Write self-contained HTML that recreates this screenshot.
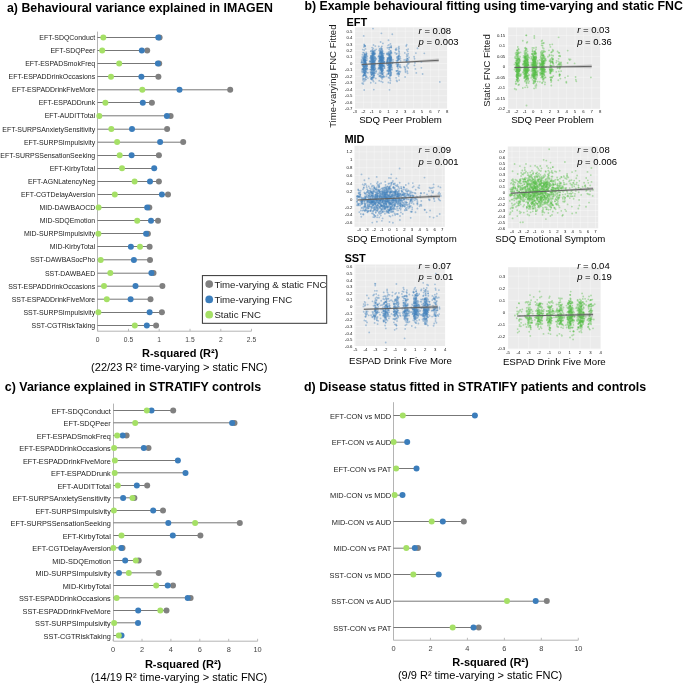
<!DOCTYPE html>
<html lang="en"><head><meta charset="utf-8"><title>Behavioural variance explained by time-varying and static FNC</title>
<style>
html,body{margin:0;padding:0;background:#fff;}
body{width:685px;height:685px;overflow:hidden;}
svg{display:block;font-family:"Liberation Sans", sans-serif;}
</style></head>
<body>
<svg width="685" height="685" viewBox="0 0 685 685">
<rect width="685" height="685" fill="#fff"/>
<text x="7.00" y="11.70" font-size="12.34" font-weight="bold" text-anchor="start" fill="#000" >a) Behavioural variance explained in IMAGEN</text>
<text x="304.50" y="10.20" font-size="12.32" font-weight="bold" text-anchor="start" fill="#000" >b) Example behavioural fitting using time-varying and static FNC</text>
<text x="4.80" y="391.20" font-size="12.43" font-weight="bold" text-anchor="start" fill="#000" >c) Variance explained in STRATIFY controls</text>
<text x="304.00" y="391.30" font-size="12.42" font-weight="bold" text-anchor="start" fill="#000" >d) Disease status fitted in STRATIFY patients and controls</text>
<path d="M97.5 31.6 V331.2 H251.5" fill="none" stroke="#b4b4b4" stroke-width="1"/>
<path d="M97.70 331.2 v-2.4" stroke="#b4b4b4" stroke-width="0.9"/>
<text x="97.70" y="341.80" font-size="6.7" font-weight="normal" text-anchor="middle" fill="#444" >0</text>
<path d="M128.50 331.2 v-2.4" stroke="#b4b4b4" stroke-width="0.9"/>
<text x="128.50" y="341.80" font-size="6.7" font-weight="normal" text-anchor="middle" fill="#444" >0.5</text>
<path d="M159.20 331.2 v-2.4" stroke="#b4b4b4" stroke-width="0.9"/>
<text x="159.20" y="341.80" font-size="6.7" font-weight="normal" text-anchor="middle" fill="#444" >1</text>
<path d="M190.00 331.2 v-2.4" stroke="#b4b4b4" stroke-width="0.9"/>
<text x="190.00" y="341.80" font-size="6.7" font-weight="normal" text-anchor="middle" fill="#444" >1.5</text>
<path d="M220.80 331.2 v-2.4" stroke="#b4b4b4" stroke-width="0.9"/>
<text x="220.80" y="341.80" font-size="6.7" font-weight="normal" text-anchor="middle" fill="#444" >2</text>
<path d="M251.50 331.2 v-2.4" stroke="#b4b4b4" stroke-width="0.9"/>
<text x="251.50" y="341.80" font-size="6.7" font-weight="normal" text-anchor="middle" fill="#444" >2.5</text>
<path d="M97.5 37.50 H159.60" stroke="#505050" stroke-width="0.78"/>
<circle cx="159.60" cy="37.40" r="3.0" fill="#808080"/>
<circle cx="158.30" cy="37.40" r="3.0" fill="#3b7dbb"/>
<circle cx="103.30" cy="37.40" r="3.0" fill="#a5e066"/>
<text x="95.20" y="39.90" font-size="6.95" font-weight="normal" text-anchor="end" fill="#1c1c1c" >EFT-SDQConduct</text>
<path d="M97.5 50.50 H147.20" stroke="#505050" stroke-width="0.78"/>
<circle cx="147.20" cy="50.49" r="3.0" fill="#808080"/>
<circle cx="141.80" cy="50.49" r="3.0" fill="#3b7dbb"/>
<circle cx="102.20" cy="50.49" r="3.0" fill="#a5e066"/>
<text x="95.20" y="52.99" font-size="6.95" font-weight="normal" text-anchor="end" fill="#1c1c1c" >EFT-SDQPeer</text>
<path d="M97.5 63.50 H159.20" stroke="#505050" stroke-width="0.78"/>
<circle cx="159.20" cy="63.58" r="3.0" fill="#808080"/>
<circle cx="157.90" cy="63.58" r="3.0" fill="#3b7dbb"/>
<circle cx="119.20" cy="63.58" r="3.0" fill="#a5e066"/>
<text x="95.20" y="66.08" font-size="6.95" font-weight="normal" text-anchor="end" fill="#1c1c1c" >EFT-ESPADSmokFreq</text>
<path d="M97.5 76.50 H158.40" stroke="#505050" stroke-width="0.78"/>
<circle cx="158.40" cy="76.67" r="3.0" fill="#808080"/>
<circle cx="141.40" cy="76.67" r="3.0" fill="#3b7dbb"/>
<circle cx="111.00" cy="76.67" r="3.0" fill="#a5e066"/>
<text x="95.20" y="79.17" font-size="6.95" font-weight="normal" text-anchor="end" fill="#1c1c1c" >EFT-ESPADDrinkOccasions</text>
<path d="M97.5 89.80 H230.20" stroke="#505050" stroke-width="0.78"/>
<circle cx="230.20" cy="89.76" r="3.0" fill="#808080"/>
<circle cx="179.50" cy="89.76" r="3.0" fill="#3b7dbb"/>
<circle cx="142.30" cy="89.76" r="3.0" fill="#a5e066"/>
<text x="95.20" y="92.26" font-size="6.95" font-weight="normal" text-anchor="end" fill="#1c1c1c" >EFT-ESPADDrinkFiveMore</text>
<path d="M97.5 102.50 H151.90" stroke="#505050" stroke-width="0.78"/>
<circle cx="151.90" cy="102.85" r="3.0" fill="#808080"/>
<circle cx="142.80" cy="102.85" r="3.0" fill="#3b7dbb"/>
<circle cx="105.40" cy="102.85" r="3.0" fill="#a5e066"/>
<text x="95.20" y="105.35" font-size="6.95" font-weight="normal" text-anchor="end" fill="#1c1c1c" >EFT-ESPADDrunk</text>
<path d="M97.5 115.80 H170.60" stroke="#505050" stroke-width="0.78"/>
<circle cx="170.60" cy="115.94" r="3.0" fill="#808080"/>
<circle cx="166.90" cy="115.94" r="3.0" fill="#3b7dbb"/>
<circle cx="99.30" cy="115.94" r="3.0" fill="#a5e066"/>
<text x="95.20" y="118.44" font-size="6.95" font-weight="normal" text-anchor="end" fill="#1c1c1c" >EFT-AUDITTotal</text>
<path d="M97.5 129.20 H167.10" stroke="#505050" stroke-width="0.78"/>
<circle cx="167.10" cy="129.03" r="3.0" fill="#808080"/>
<circle cx="132.00" cy="129.03" r="3.0" fill="#3b7dbb"/>
<circle cx="111.30" cy="129.03" r="3.0" fill="#a5e066"/>
<text x="95.20" y="131.53" font-size="6.95" font-weight="normal" text-anchor="end" fill="#1c1c1c" >EFT-SURPSAnxietySensitivity</text>
<path d="M97.5 142.20 H183.20" stroke="#505050" stroke-width="0.78"/>
<circle cx="183.20" cy="142.12" r="3.0" fill="#808080"/>
<circle cx="160.10" cy="142.12" r="3.0" fill="#3b7dbb"/>
<circle cx="117.10" cy="142.12" r="3.0" fill="#a5e066"/>
<text x="95.20" y="144.62" font-size="6.95" font-weight="normal" text-anchor="end" fill="#1c1c1c" >EFT-SURPSImpulsivity</text>
<path d="M97.5 155.50 H158.90" stroke="#505050" stroke-width="0.78"/>
<circle cx="158.90" cy="155.21" r="3.0" fill="#808080"/>
<circle cx="131.60" cy="155.21" r="3.0" fill="#3b7dbb"/>
<circle cx="119.70" cy="155.21" r="3.0" fill="#a5e066"/>
<text x="95.20" y="157.71" font-size="6.95" font-weight="normal" text-anchor="end" fill="#1c1c1c" >EFT-SURPSSensationSeeking</text>
<path d="M97.5 168.50 H154.20" stroke="#505050" stroke-width="0.78"/>
<circle cx="154.20" cy="168.30" r="3.0" fill="#3b7dbb"/>
<circle cx="122.00" cy="168.30" r="3.0" fill="#a5e066"/>
<text x="95.20" y="170.80" font-size="6.95" font-weight="normal" text-anchor="end" fill="#1c1c1c" >EFT-KirbyTotal</text>
<path d="M97.5 181.50 H158.90" stroke="#505050" stroke-width="0.78"/>
<circle cx="158.90" cy="181.39" r="3.0" fill="#808080"/>
<circle cx="150.00" cy="181.39" r="3.0" fill="#3b7dbb"/>
<circle cx="134.60" cy="181.39" r="3.0" fill="#a5e066"/>
<text x="95.20" y="183.89" font-size="6.95" font-weight="normal" text-anchor="end" fill="#1c1c1c" >EFT-AGNLatencyNeg</text>
<path d="M97.5 194.50 H168.00" stroke="#505050" stroke-width="0.78"/>
<circle cx="168.00" cy="194.48" r="3.0" fill="#808080"/>
<circle cx="161.90" cy="194.48" r="3.0" fill="#3b7dbb"/>
<circle cx="114.80" cy="194.48" r="3.0" fill="#a5e066"/>
<text x="95.20" y="196.98" font-size="6.95" font-weight="normal" text-anchor="end" fill="#1c1c1c" >EFT-CGTDelayAversion</text>
<path d="M97.5 207.50 H149.30" stroke="#505050" stroke-width="0.78"/>
<circle cx="149.30" cy="207.57" r="3.0" fill="#808080"/>
<circle cx="147.20" cy="207.57" r="3.0" fill="#3b7dbb"/>
<circle cx="98.60" cy="207.57" r="3.0" fill="#a5e066"/>
<text x="95.20" y="210.07" font-size="6.95" font-weight="normal" text-anchor="end" fill="#1c1c1c" >MID-DAWBAOCD</text>
<path d="M97.5 220.50 H158.00" stroke="#505050" stroke-width="0.78"/>
<circle cx="158.00" cy="220.66" r="3.0" fill="#808080"/>
<circle cx="151.00" cy="220.66" r="3.0" fill="#3b7dbb"/>
<circle cx="137.20" cy="220.66" r="3.0" fill="#a5e066"/>
<text x="95.20" y="223.16" font-size="6.95" font-weight="normal" text-anchor="end" fill="#1c1c1c" >MID-SDQEmotion</text>
<path d="M97.5 233.50 H147.90" stroke="#505050" stroke-width="0.78"/>
<circle cx="147.90" cy="233.75" r="3.0" fill="#808080"/>
<circle cx="146.10" cy="233.75" r="3.0" fill="#3b7dbb"/>
<circle cx="98.40" cy="233.75" r="3.0" fill="#a5e066"/>
<text x="95.20" y="236.25" font-size="6.95" font-weight="normal" text-anchor="end" fill="#1c1c1c" >MID-SURPSImpulsivity</text>
<path d="M97.5 246.50 H149.60" stroke="#505050" stroke-width="0.78"/>
<circle cx="149.60" cy="246.84" r="3.0" fill="#808080"/>
<circle cx="130.90" cy="246.84" r="3.0" fill="#3b7dbb"/>
<circle cx="140.00" cy="246.84" r="3.0" fill="#a5e066"/>
<text x="95.20" y="249.34" font-size="6.95" font-weight="normal" text-anchor="end" fill="#1c1c1c" >MID-KirbyTotal</text>
<path d="M97.5 259.80 H150.00" stroke="#505050" stroke-width="0.78"/>
<circle cx="150.00" cy="259.93" r="3.0" fill="#808080"/>
<circle cx="133.90" cy="259.93" r="3.0" fill="#3b7dbb"/>
<circle cx="100.70" cy="259.93" r="3.0" fill="#a5e066"/>
<text x="95.20" y="262.43" font-size="6.95" font-weight="normal" text-anchor="end" fill="#1c1c1c" >SST-DAWBASocPho</text>
<path d="M97.5 273.20 H153.50" stroke="#505050" stroke-width="0.78"/>
<circle cx="153.50" cy="273.02" r="3.0" fill="#808080"/>
<circle cx="151.40" cy="273.02" r="3.0" fill="#3b7dbb"/>
<circle cx="110.30" cy="273.02" r="3.0" fill="#a5e066"/>
<text x="95.20" y="275.52" font-size="6.95" font-weight="normal" text-anchor="end" fill="#1c1c1c" >SST-DAWBAED</text>
<path d="M97.5 286.20 H162.40" stroke="#505050" stroke-width="0.78"/>
<circle cx="162.40" cy="286.11" r="3.0" fill="#808080"/>
<circle cx="135.50" cy="286.11" r="3.0" fill="#3b7dbb"/>
<circle cx="104.00" cy="286.11" r="3.0" fill="#a5e066"/>
<text x="95.20" y="288.61" font-size="6.95" font-weight="normal" text-anchor="end" fill="#1c1c1c" >SST-ESPADDrinkOccasions</text>
<path d="M97.5 299.20 H150.50" stroke="#505050" stroke-width="0.78"/>
<circle cx="150.50" cy="299.20" r="3.0" fill="#808080"/>
<circle cx="130.60" cy="299.20" r="3.0" fill="#3b7dbb"/>
<circle cx="106.80" cy="299.20" r="3.0" fill="#a5e066"/>
<text x="95.20" y="301.70" font-size="6.95" font-weight="normal" text-anchor="end" fill="#1c1c1c" >SST-ESPADDrinkFiveMore</text>
<path d="M97.5 312.50 H161.90" stroke="#505050" stroke-width="0.78"/>
<circle cx="161.90" cy="312.29" r="3.0" fill="#808080"/>
<circle cx="149.60" cy="312.29" r="3.0" fill="#3b7dbb"/>
<circle cx="98.40" cy="312.29" r="3.0" fill="#a5e066"/>
<text x="95.20" y="314.79" font-size="6.95" font-weight="normal" text-anchor="end" fill="#1c1c1c" >SST-SURPSImpulsivity</text>
<path d="M97.5 325.50 H156.10" stroke="#505050" stroke-width="0.78"/>
<circle cx="156.10" cy="325.38" r="3.0" fill="#808080"/>
<circle cx="146.80" cy="325.38" r="3.0" fill="#3b7dbb"/>
<circle cx="134.80" cy="325.38" r="3.0" fill="#a5e066"/>
<text x="95.20" y="327.88" font-size="6.95" font-weight="normal" text-anchor="end" fill="#1c1c1c" >SST-CGTRiskTaking</text>
<rect x="202.4" y="275.6" width="124.3" height="47.7" fill="#fff" stroke="#333" stroke-width="1"/>
<circle cx="209.2" cy="284.1" r="3.85" fill="#808080"/>
<text x="214.40" y="287.60" font-size="9.63" font-weight="normal" text-anchor="start" fill="#222" >Time-varying &amp; static FNC</text>
<circle cx="209.2" cy="299.40000000000003" r="3.85" fill="#3b7dbb"/>
<text x="214.40" y="302.90" font-size="9.63" font-weight="normal" text-anchor="start" fill="#222" >Time-varying FNC</text>
<circle cx="209.2" cy="314.70000000000005" r="3.85" fill="#a5e066"/>
<text x="214.40" y="318.20" font-size="9.63" font-weight="normal" text-anchor="start" fill="#222" >Static FNC</text>
<text x="180.20" y="357.30" font-size="11" font-weight="bold" text-anchor="middle" fill="#000" >R-squared (R²)</text>
<text x="179.30" y="370.80" font-size="11" font-weight="normal" text-anchor="middle" fill="#000" >(22/23 R² time-varying &gt; static FNC)</text>
<path d="M113.5 403.6 V641.2 H257.6" fill="none" stroke="#b4b4b4" stroke-width="1"/>
<path d="M113.10 641.2 v-2.4" stroke="#b4b4b4" stroke-width="0.9"/>
<text x="113.10" y="651.80" font-size="7.4" font-weight="normal" text-anchor="middle" fill="#444" >0</text>
<path d="M142.00 641.2 v-2.4" stroke="#b4b4b4" stroke-width="0.9"/>
<text x="142.00" y="651.80" font-size="7.4" font-weight="normal" text-anchor="middle" fill="#444" >2</text>
<path d="M170.90 641.2 v-2.4" stroke="#b4b4b4" stroke-width="0.9"/>
<text x="170.90" y="651.80" font-size="7.4" font-weight="normal" text-anchor="middle" fill="#444" >4</text>
<path d="M199.80 641.2 v-2.4" stroke="#b4b4b4" stroke-width="0.9"/>
<text x="199.80" y="651.80" font-size="7.4" font-weight="normal" text-anchor="middle" fill="#444" >6</text>
<path d="M228.70 641.2 v-2.4" stroke="#b4b4b4" stroke-width="0.9"/>
<text x="228.70" y="651.80" font-size="7.4" font-weight="normal" text-anchor="middle" fill="#444" >8</text>
<path d="M257.60 641.2 v-2.4" stroke="#b4b4b4" stroke-width="0.9"/>
<text x="257.60" y="651.80" font-size="7.4" font-weight="normal" text-anchor="middle" fill="#444" >10</text>
<path d="M113.5 410.50 H173.20" stroke="#505050" stroke-width="0.78"/>
<circle cx="173.20" cy="410.40" r="3.0" fill="#808080"/>
<circle cx="151.50" cy="410.40" r="3.0" fill="#3b7dbb"/>
<circle cx="146.80" cy="410.40" r="3.0" fill="#a5e066"/>
<text x="110.80" y="413.59" font-size="7.34" font-weight="normal" text-anchor="end" fill="#1c1c1c" >EFT-SDQConduct</text>
<path d="M113.5 422.80 H234.50" stroke="#505050" stroke-width="0.78"/>
<circle cx="234.50" cy="422.90" r="3.0" fill="#808080"/>
<circle cx="232.10" cy="422.90" r="3.0" fill="#3b7dbb"/>
<circle cx="135.20" cy="422.90" r="3.0" fill="#a5e066"/>
<text x="110.80" y="426.09" font-size="7.34" font-weight="normal" text-anchor="end" fill="#1c1c1c" >EFT-SDQPeer</text>
<path d="M113.5 435.50 H126.60" stroke="#505050" stroke-width="0.78"/>
<circle cx="126.60" cy="435.40" r="3.0" fill="#808080"/>
<circle cx="122.70" cy="435.40" r="3.0" fill="#3b7dbb"/>
<circle cx="117.20" cy="435.40" r="3.0" fill="#a5e066"/>
<text x="110.80" y="438.59" font-size="7.34" font-weight="normal" text-anchor="end" fill="#1c1c1c" >EFT-ESPADSmokFreq</text>
<path d="M113.5 447.80 H148.50" stroke="#505050" stroke-width="0.78"/>
<circle cx="148.50" cy="447.90" r="3.0" fill="#808080"/>
<circle cx="143.80" cy="447.90" r="3.0" fill="#3b7dbb"/>
<circle cx="114.10" cy="447.90" r="3.0" fill="#a5e066"/>
<text x="110.80" y="451.09" font-size="7.34" font-weight="normal" text-anchor="end" fill="#1c1c1c" >EFT-ESPADDrinkOccasions</text>
<path d="M113.5 460.50 H177.90" stroke="#505050" stroke-width="0.78"/>
<circle cx="177.90" cy="460.40" r="3.0" fill="#3b7dbb"/>
<circle cx="114.90" cy="460.40" r="3.0" fill="#a5e066"/>
<text x="110.80" y="463.59" font-size="7.34" font-weight="normal" text-anchor="end" fill="#1c1c1c" >EFT-ESPADDrinkFiveMore</text>
<path d="M113.5 472.80 H185.50" stroke="#505050" stroke-width="0.78"/>
<circle cx="185.50" cy="472.90" r="3.0" fill="#3b7dbb"/>
<circle cx="114.70" cy="472.90" r="3.0" fill="#a5e066"/>
<text x="110.80" y="476.09" font-size="7.34" font-weight="normal" text-anchor="end" fill="#1c1c1c" >EFT-ESPADDrunk</text>
<path d="M113.5 485.50 H147.20" stroke="#505050" stroke-width="0.78"/>
<circle cx="147.20" cy="485.40" r="3.0" fill="#808080"/>
<circle cx="136.80" cy="485.40" r="3.0" fill="#3b7dbb"/>
<circle cx="117.80" cy="485.40" r="3.0" fill="#a5e066"/>
<text x="110.80" y="488.59" font-size="7.34" font-weight="normal" text-anchor="end" fill="#1c1c1c" >EFT-AUDITTotal</text>
<path d="M113.5 497.80 H134.40" stroke="#505050" stroke-width="0.78"/>
<circle cx="134.40" cy="497.90" r="3.0" fill="#808080"/>
<circle cx="123.10" cy="497.90" r="3.0" fill="#3b7dbb"/>
<circle cx="132.50" cy="497.90" r="3.0" fill="#a5e066"/>
<text x="110.80" y="501.09" font-size="7.34" font-weight="normal" text-anchor="end" fill="#1c1c1c" >EFT-SURPSAnxietySensitivity</text>
<path d="M113.5 510.50 H163.00" stroke="#505050" stroke-width="0.78"/>
<circle cx="163.00" cy="510.40" r="3.0" fill="#808080"/>
<circle cx="153.20" cy="510.40" r="3.0" fill="#3b7dbb"/>
<circle cx="113.90" cy="510.40" r="3.0" fill="#a5e066"/>
<text x="110.80" y="513.59" font-size="7.34" font-weight="normal" text-anchor="end" fill="#1c1c1c" >EFT-SURPSImpulsivity</text>
<path d="M113.5 522.80 H239.80" stroke="#505050" stroke-width="0.78"/>
<circle cx="239.80" cy="522.90" r="3.0" fill="#808080"/>
<circle cx="168.30" cy="522.90" r="3.0" fill="#3b7dbb"/>
<circle cx="195.10" cy="522.90" r="3.0" fill="#a5e066"/>
<text x="110.80" y="526.09" font-size="7.34" font-weight="normal" text-anchor="end" fill="#1c1c1c" >EFT-SURPSSensationSeeking</text>
<path d="M113.5 535.50 H200.40" stroke="#505050" stroke-width="0.78"/>
<circle cx="200.40" cy="535.40" r="3.0" fill="#808080"/>
<circle cx="172.80" cy="535.40" r="3.0" fill="#3b7dbb"/>
<circle cx="121.50" cy="535.40" r="3.0" fill="#a5e066"/>
<text x="110.80" y="538.59" font-size="7.34" font-weight="normal" text-anchor="end" fill="#1c1c1c" >EFT-KirbyTotal</text>
<path d="M113.5 547.80 H122.50" stroke="#505050" stroke-width="0.78"/>
<circle cx="122.50" cy="547.90" r="3.0" fill="#808080"/>
<circle cx="121.30" cy="547.90" r="3.0" fill="#3b7dbb"/>
<circle cx="113.30" cy="547.90" r="3.0" fill="#a5e066"/>
<text x="110.80" y="551.09" font-size="7.34" font-weight="normal" text-anchor="end" fill="#1c1c1c" >EFT-CGTDelayAversion</text>
<path d="M113.5 560.50 H138.70" stroke="#505050" stroke-width="0.78"/>
<circle cx="138.70" cy="560.40" r="3.0" fill="#808080"/>
<circle cx="125.20" cy="560.40" r="3.0" fill="#3b7dbb"/>
<circle cx="135.80" cy="560.40" r="3.0" fill="#a5e066"/>
<text x="110.80" y="563.59" font-size="7.34" font-weight="normal" text-anchor="end" fill="#1c1c1c" >MID-SDQEmotion</text>
<path d="M113.5 572.80 H158.70" stroke="#505050" stroke-width="0.78"/>
<circle cx="158.70" cy="572.90" r="3.0" fill="#808080"/>
<circle cx="119.00" cy="572.90" r="3.0" fill="#3b7dbb"/>
<circle cx="128.80" cy="572.90" r="3.0" fill="#a5e066"/>
<text x="110.80" y="576.09" font-size="7.34" font-weight="normal" text-anchor="end" fill="#1c1c1c" >MID-SURPSImpulsivity</text>
<path d="M113.5 585.50 H173.00" stroke="#505050" stroke-width="0.78"/>
<circle cx="173.00" cy="585.40" r="3.0" fill="#808080"/>
<circle cx="167.70" cy="585.40" r="3.0" fill="#3b7dbb"/>
<circle cx="156.20" cy="585.40" r="3.0" fill="#a5e066"/>
<text x="110.80" y="588.59" font-size="7.34" font-weight="normal" text-anchor="end" fill="#1c1c1c" >MID-KirbyTotal</text>
<path d="M113.5 597.80 H190.60" stroke="#505050" stroke-width="0.78"/>
<circle cx="190.60" cy="597.90" r="3.0" fill="#808080"/>
<circle cx="187.70" cy="597.90" r="3.0" fill="#3b7dbb"/>
<circle cx="116.60" cy="597.90" r="3.0" fill="#a5e066"/>
<text x="110.80" y="601.09" font-size="7.34" font-weight="normal" text-anchor="end" fill="#1c1c1c" >SST-ESPADDrinkOccasions</text>
<path d="M113.5 610.50 H166.50" stroke="#505050" stroke-width="0.78"/>
<circle cx="166.50" cy="610.40" r="3.0" fill="#808080"/>
<circle cx="138.20" cy="610.40" r="3.0" fill="#3b7dbb"/>
<circle cx="160.30" cy="610.40" r="3.0" fill="#a5e066"/>
<text x="110.80" y="613.59" font-size="7.34" font-weight="normal" text-anchor="end" fill="#1c1c1c" >SST-ESPADDrinkFiveMore</text>
<path d="M113.5 622.80 H138.00" stroke="#505050" stroke-width="0.78"/>
<circle cx="138.00" cy="622.90" r="3.0" fill="#3b7dbb"/>
<circle cx="114.10" cy="622.90" r="3.0" fill="#a5e066"/>
<text x="110.80" y="626.09" font-size="7.34" font-weight="normal" text-anchor="end" fill="#1c1c1c" >SST-SURPSImpulsivity</text>
<path d="M113.5 635.50 H121.50" stroke="#505050" stroke-width="0.78"/>
<circle cx="121.50" cy="635.40" r="3.0" fill="#3b7dbb"/>
<circle cx="118.80" cy="635.40" r="3.0" fill="#a5e066"/>
<text x="110.80" y="638.59" font-size="7.34" font-weight="normal" text-anchor="end" fill="#1c1c1c" >SST-CGTRiskTaking</text>
<text x="183.10" y="667.70" font-size="11" font-weight="bold" text-anchor="middle" fill="#000" >R-squared (R²)</text>
<text x="179.00" y="681.20" font-size="11" font-weight="normal" text-anchor="middle" fill="#000" >(14/19 R² time-varying &gt; static FNC)</text>
<path d="M393.5 402.2 V640.2 H578.3" fill="none" stroke="#b4b4b4" stroke-width="1"/>
<path d="M393.50 640.2 v-2.4" stroke="#b4b4b4" stroke-width="0.9"/>
<text x="393.50" y="650.80" font-size="7.4" font-weight="normal" text-anchor="middle" fill="#444" >0</text>
<path d="M430.46 640.2 v-2.4" stroke="#b4b4b4" stroke-width="0.9"/>
<text x="430.46" y="650.80" font-size="7.4" font-weight="normal" text-anchor="middle" fill="#444" >2</text>
<path d="M467.42 640.2 v-2.4" stroke="#b4b4b4" stroke-width="0.9"/>
<text x="467.42" y="650.80" font-size="7.4" font-weight="normal" text-anchor="middle" fill="#444" >4</text>
<path d="M504.38 640.2 v-2.4" stroke="#b4b4b4" stroke-width="0.9"/>
<text x="504.38" y="650.80" font-size="7.4" font-weight="normal" text-anchor="middle" fill="#444" >6</text>
<path d="M541.34 640.2 v-2.4" stroke="#b4b4b4" stroke-width="0.9"/>
<text x="541.34" y="650.80" font-size="7.4" font-weight="normal" text-anchor="middle" fill="#444" >8</text>
<path d="M578.30 640.2 v-2.4" stroke="#b4b4b4" stroke-width="0.9"/>
<text x="578.30" y="650.80" font-size="7.4" font-weight="normal" text-anchor="middle" fill="#444" >10</text>
<path d="M393.5 415.50 H474.90" stroke="#505050" stroke-width="0.78"/>
<circle cx="474.90" cy="415.50" r="3.0" fill="#3b7dbb"/>
<circle cx="402.80" cy="415.50" r="3.0" fill="#a5e066"/>
<text x="391.20" y="418.68" font-size="7.45" font-weight="normal" text-anchor="end" fill="#1c1c1c" >EFT-CON vs MDD</text>
<path d="M393.5 442.20 H407.20" stroke="#505050" stroke-width="0.78"/>
<circle cx="407.20" cy="442.00" r="3.0" fill="#3b7dbb"/>
<circle cx="393.60" cy="442.00" r="3.0" fill="#a5e066"/>
<text x="391.20" y="445.18" font-size="7.45" font-weight="normal" text-anchor="end" fill="#1c1c1c" >EFT-CON vs AUD</text>
<path d="M393.5 468.50 H416.50" stroke="#505050" stroke-width="0.78"/>
<circle cx="416.50" cy="468.50" r="3.0" fill="#3b7dbb"/>
<circle cx="396.10" cy="468.50" r="3.0" fill="#a5e066"/>
<text x="391.20" y="471.68" font-size="7.45" font-weight="normal" text-anchor="end" fill="#1c1c1c" >EFT-CON vs PAT</text>
<path d="M393.5 495.20 H402.50" stroke="#505050" stroke-width="0.78"/>
<circle cx="402.50" cy="495.00" r="3.0" fill="#3b7dbb"/>
<circle cx="394.60" cy="495.00" r="3.0" fill="#a5e066"/>
<text x="391.20" y="498.18" font-size="7.45" font-weight="normal" text-anchor="end" fill="#1c1c1c" >MID-CON vs MDD</text>
<path d="M393.5 521.50 H463.80" stroke="#505050" stroke-width="0.78"/>
<circle cx="463.80" cy="521.50" r="3.0" fill="#808080"/>
<circle cx="442.80" cy="521.50" r="3.0" fill="#3b7dbb"/>
<circle cx="431.70" cy="521.50" r="3.0" fill="#a5e066"/>
<text x="391.20" y="524.68" font-size="7.45" font-weight="normal" text-anchor="end" fill="#1c1c1c" >MID-CON vs AUD</text>
<path d="M393.5 548.20 H418.00" stroke="#505050" stroke-width="0.78"/>
<circle cx="418.00" cy="548.00" r="3.0" fill="#808080"/>
<circle cx="414.80" cy="548.00" r="3.0" fill="#3b7dbb"/>
<circle cx="406.30" cy="548.00" r="3.0" fill="#a5e066"/>
<text x="391.20" y="551.18" font-size="7.45" font-weight="normal" text-anchor="end" fill="#1c1c1c" >MID-CON vs PAT</text>
<path d="M393.5 574.50 H438.70" stroke="#505050" stroke-width="0.78"/>
<circle cx="438.70" cy="574.50" r="3.0" fill="#3b7dbb"/>
<circle cx="413.30" cy="574.50" r="3.0" fill="#a5e066"/>
<text x="391.20" y="577.68" font-size="7.45" font-weight="normal" text-anchor="end" fill="#1c1c1c" >SST-CON vs MDD</text>
<path d="M393.5 601.20 H546.80" stroke="#505050" stroke-width="0.78"/>
<circle cx="546.80" cy="601.00" r="3.0" fill="#808080"/>
<circle cx="535.70" cy="601.00" r="3.0" fill="#3b7dbb"/>
<circle cx="507.00" cy="601.00" r="3.0" fill="#a5e066"/>
<text x="391.20" y="604.18" font-size="7.45" font-weight="normal" text-anchor="end" fill="#1c1c1c" >SST-CON vs AUD</text>
<path d="M393.5 627.50 H478.70" stroke="#505050" stroke-width="0.78"/>
<circle cx="478.70" cy="627.50" r="3.0" fill="#808080"/>
<circle cx="473.50" cy="627.50" r="3.0" fill="#3b7dbb"/>
<circle cx="452.70" cy="627.50" r="3.0" fill="#a5e066"/>
<text x="391.20" y="630.68" font-size="7.45" font-weight="normal" text-anchor="end" fill="#1c1c1c" >SST-CON vs PAT</text>
<text x="490.50" y="666.00" font-size="11" font-weight="bold" text-anchor="middle" fill="#000" >R-squared (R²)</text>
<text x="480.00" y="679.30" font-size="11" font-weight="normal" text-anchor="middle" fill="#000" >(9/9 R² time-varying &gt; static FNC)</text>
<rect x="355.0" y="27.3" width="92.10" height="81.30" fill="#ebebeb"/>
<path d="M363.37 27.3V108.6M371.75 27.3V108.6M380.12 27.3V108.6M388.49 27.3V108.6M396.86 27.3V108.6M405.24 27.3V108.6M413.61 27.3V108.6M421.98 27.3V108.6M430.35 27.3V108.6M438.73 27.3V108.6M355.0 31.20H447.1M355.0 37.65H447.1M355.0 44.10H447.1M355.0 50.55H447.1M355.0 57.00H447.1M355.0 63.45H447.1M355.0 69.90H447.1M355.0 76.35H447.1M355.0 82.80H447.1M355.0 89.25H447.1M355.0 95.70H447.1M355.0 102.15H447.1" stroke="#fff" stroke-width="0.55" fill="none" opacity="0.6"/>
<text x="355.00" y="113.20" font-size="4.25" font-weight="normal" text-anchor="middle" fill="#111" >-3</text>
<text x="363.37" y="113.20" font-size="4.25" font-weight="normal" text-anchor="middle" fill="#111" >-2</text>
<text x="371.75" y="113.20" font-size="4.25" font-weight="normal" text-anchor="middle" fill="#111" >-1</text>
<text x="380.12" y="113.20" font-size="4.25" font-weight="normal" text-anchor="middle" fill="#111" >0</text>
<text x="388.49" y="113.20" font-size="4.25" font-weight="normal" text-anchor="middle" fill="#111" >1</text>
<text x="396.86" y="113.20" font-size="4.25" font-weight="normal" text-anchor="middle" fill="#111" >2</text>
<text x="405.24" y="113.20" font-size="4.25" font-weight="normal" text-anchor="middle" fill="#111" >3</text>
<text x="413.61" y="113.20" font-size="4.25" font-weight="normal" text-anchor="middle" fill="#111" >4</text>
<text x="421.98" y="113.20" font-size="4.25" font-weight="normal" text-anchor="middle" fill="#111" >5</text>
<text x="430.35" y="113.20" font-size="4.25" font-weight="normal" text-anchor="middle" fill="#111" >6</text>
<text x="438.73" y="113.20" font-size="4.25" font-weight="normal" text-anchor="middle" fill="#111" >7</text>
<text x="447.10" y="113.20" font-size="4.25" font-weight="normal" text-anchor="middle" fill="#111" >8</text>
<text x="352.40" y="32.60" font-size="4.25" font-weight="normal" text-anchor="end" fill="#111" >0.5</text>
<text x="352.40" y="39.05" font-size="4.25" font-weight="normal" text-anchor="end" fill="#111" >0.4</text>
<text x="352.40" y="45.50" font-size="4.25" font-weight="normal" text-anchor="end" fill="#111" >0.3</text>
<text x="352.40" y="51.95" font-size="4.25" font-weight="normal" text-anchor="end" fill="#111" >0.2</text>
<text x="352.40" y="58.40" font-size="4.25" font-weight="normal" text-anchor="end" fill="#111" >0.1</text>
<text x="352.40" y="64.85" font-size="4.25" font-weight="normal" text-anchor="end" fill="#111" >0</text>
<text x="352.40" y="71.30" font-size="4.25" font-weight="normal" text-anchor="end" fill="#111" >-0.1</text>
<text x="352.40" y="77.75" font-size="4.25" font-weight="normal" text-anchor="end" fill="#111" >-0.2</text>
<text x="352.40" y="84.20" font-size="4.25" font-weight="normal" text-anchor="end" fill="#111" >-0.3</text>
<text x="352.40" y="90.65" font-size="4.25" font-weight="normal" text-anchor="end" fill="#111" >-0.4</text>
<text x="352.40" y="97.10" font-size="4.25" font-weight="normal" text-anchor="end" fill="#111" >-0.5</text>
<text x="352.40" y="103.55" font-size="4.25" font-weight="normal" text-anchor="end" fill="#111" >-0.6</text>
<text x="352.40" y="110.00" font-size="4.25" font-weight="normal" text-anchor="end" fill="#111" >-0.7</text>
<path d="M374.1 58.4h0M422.6 74.0h0M364.6 61.2h0M370.7 61.9h0M371.0 55.9h0M373.6 75.4h0M365.3 57.7h0M381.4 61.1h0M372.9 67.3h0M398.4 56.8h0M390.9 64.6h0M397.5 66.6h0M388.8 57.9h0M382.3 53.7h0M365.8 71.6h0M381.6 71.1h0M390.5 62.8h0M364.5 70.5h0M382.7 74.4h0M371.9 56.8h0M365.2 75.4h0M374.0 75.5h0M363.8 64.8h0M371.7 72.3h0M363.6 75.8h0M374.9 60.8h0M373.3 77.5h0M380.7 51.5h0M382.5 62.8h0M387.2 61.6h0M373.8 53.4h0M398.0 58.0h0M370.3 76.7h0M366.0 60.3h0M386.5 76.2h0M379.9 64.4h0M416.3 72.9h0M366.5 65.6h0M391.1 57.5h0M365.5 61.9h0M383.7 76.4h0M365.6 62.9h0M373.3 48.3h0M388.5 73.5h0M370.9 57.7h0M373.0 52.0h0M390.6 65.3h0M373.3 64.4h0M380.8 64.8h0M388.9 53.4h0M372.9 51.6h0M390.1 65.0h0M391.6 59.9h0M373.3 58.6h0M371.4 63.2h0M364.6 56.7h0M391.3 57.1h0M372.5 57.5h0M364.8 69.7h0M381.0 66.4h0M389.9 62.1h0M379.0 56.5h0M366.1 64.1h0M415.9 53.1h0M381.4 67.0h0M405.1 77.0h0M381.0 61.8h0M389.5 69.6h0M379.3 60.4h0M363.1 80.1h0M381.6 64.7h0M372.8 54.5h0M366.1 65.6h0M371.9 78.2h0M373.8 63.7h0M389.6 64.9h0M390.7 72.5h0M380.9 67.8h0M367.1 65.6h0M382.8 66.0h0M381.9 57.2h0M381.9 66.6h0M387.6 59.2h0M372.2 69.2h0M387.1 63.4h0M398.2 68.5h0M397.1 81.4h0M397.6 65.3h0M371.3 58.5h0M400.3 56.8h0M364.6 72.9h0M380.5 60.0h0M390.4 60.2h0M390.2 70.7h0M379.8 73.5h0M373.4 59.1h0M389.6 68.7h0M380.6 67.4h0M365.3 68.9h0M405.4 70.0h0M383.9 62.5h0M366.8 76.7h0M378.1 74.2h0M389.5 54.0h0M371.8 66.9h0M388.6 60.4h0M388.6 73.2h0M387.1 74.3h0M373.3 59.9h0M362.2 83.2h0M379.8 57.8h0M366.5 68.2h0M382.1 67.6h0M383.1 57.8h0M397.8 58.8h0M382.4 57.3h0M379.4 72.4h0M365.5 48.9h0M384.0 64.2h0M380.9 69.0h0M390.4 80.6h0M361.6 60.0h0M391.0 47.6h0M371.0 59.0h0M381.1 59.7h0M381.9 65.3h0M382.1 60.0h0M380.5 55.8h0M398.1 68.3h0M372.7 73.4h0M372.3 66.5h0M405.4 71.1h0M382.0 58.2h0M373.0 66.3h0M373.6 51.2h0M381.8 63.5h0M380.7 62.3h0M372.3 67.8h0M390.1 66.4h0M372.4 63.3h0M373.1 55.7h0M364.2 50.2h0M383.7 63.1h0M384.5 66.2h0M383.2 64.2h0M406.7 49.8h0M382.3 50.4h0M382.0 48.7h0M374.1 61.1h0M373.4 53.8h0M364.1 44.5h0M381.6 65.4h0M366.6 72.6h0M396.9 57.2h0M374.9 57.4h0M390.0 64.8h0M396.9 57.9h0M365.4 62.8h0M364.6 75.3h0M372.2 52.8h0M406.7 54.5h0M388.3 71.8h0M365.6 63.3h0M363.3 68.6h0M373.0 66.6h0M365.7 70.0h0M370.8 82.7h0M362.1 69.3h0M372.6 68.6h0M371.7 65.5h0M365.4 68.9h0M381.3 60.2h0M381.5 56.5h0M374.5 73.2h0M372.5 60.9h0M364.6 73.2h0M396.1 77.8h0M371.6 59.6h0M380.4 65.5h0M388.6 64.6h0M372.5 62.5h0M381.6 57.3h0M380.4 51.7h0M379.5 57.1h0M381.2 52.3h0M381.7 62.8h0M374.6 69.4h0M373.0 78.3h0" fill="none" stroke="#3b7dba" stroke-opacity="0.4" stroke-width="1.85" stroke-linecap="round"/>
<path d="M391.0 46.8h0M390.0 64.5h0M389.2 68.6h0M365.6 68.1h0M398.8 72.8h0M371.9 66.6h0M391.4 61.2h0M380.3 66.9h0M374.5 54.5h0M380.9 64.9h0M387.3 57.8h0M365.3 70.8h0M381.6 73.7h0M383.7 53.5h0M380.2 62.6h0M363.3 69.9h0M381.3 66.8h0M364.7 45.5h0M381.8 60.6h0M388.0 59.1h0M382.2 64.6h0M365.5 60.3h0M392.7 63.1h0M389.2 67.7h0M389.3 57.6h0M380.1 57.9h0M388.0 67.8h0M372.5 58.3h0M380.2 56.4h0M380.1 57.5h0M390.9 58.2h0M373.7 69.9h0M362.5 54.7h0M389.6 64.8h0M365.8 54.6h0M414.5 58.7h0M382.4 55.6h0M406.1 59.5h0M379.2 67.5h0M404.2 59.9h0M364.6 53.9h0M382.7 58.4h0M383.5 59.4h0M373.0 63.5h0M380.9 68.2h0M381.9 64.9h0M374.7 53.8h0M374.6 64.4h0M364.9 70.9h0M381.9 58.4h0M365.0 63.4h0M371.8 55.9h0M373.1 64.5h0M389.1 54.3h0M388.8 44.9h0M381.0 58.3h0M364.6 60.2h0M361.7 62.2h0M373.4 66.3h0M372.0 69.2h0M398.9 72.0h0M386.9 62.6h0M380.5 65.0h0M381.8 63.7h0M396.9 53.5h0M381.6 53.8h0M372.9 58.6h0M389.8 70.1h0M392.1 69.5h0M398.0 65.0h0M382.3 69.1h0M380.2 68.9h0M389.3 57.9h0M373.9 65.3h0M380.2 65.8h0M364.1 71.5h0M371.0 79.0h0M363.6 59.8h0M381.5 60.5h0M398.3 65.7h0M379.2 80.7h0M390.3 59.0h0M382.2 59.0h0M372.6 59.7h0M381.0 62.7h0M388.3 73.7h0M390.9 53.7h0M388.9 68.2h0M364.4 63.9h0M374.8 71.2h0M374.3 60.8h0M373.9 66.2h0M367.9 78.1h0M380.4 66.1h0M389.2 63.7h0M371.4 67.3h0M380.0 64.2h0M365.8 77.3h0M380.6 62.8h0M390.5 43.9h0M363.4 68.7h0M380.7 63.8h0M363.2 78.3h0M372.5 60.2h0M362.7 76.5h0M389.5 61.7h0M365.2 59.8h0M395.7 49.9h0M371.1 51.0h0M363.6 75.5h0M383.0 60.5h0M397.4 66.2h0M390.3 64.0h0M417.5 48.2h0M380.9 60.0h0M365.6 62.1h0M380.6 52.3h0M381.6 72.5h0M373.0 53.3h0M391.3 52.3h0M400.0 66.7h0M396.6 80.4h0M397.3 70.9h0M389.1 49.4h0M405.3 68.7h0M376.1 49.4h0M364.6 60.8h0M387.5 61.2h0M389.7 67.1h0M389.8 59.9h0M390.6 61.7h0M407.3 64.6h0M381.4 54.4h0M364.0 67.0h0M407.6 67.4h0M400.6 61.0h0M363.8 74.9h0M372.8 58.9h0M373.7 67.5h0M382.7 53.5h0M390.2 65.4h0M373.2 60.8h0M372.3 60.2h0M364.2 90.0h0M380.6 42.0h0M381.5 59.6h0M373.0 63.6h0M390.1 66.2h0M366.1 67.1h0M370.5 72.6h0M408.2 68.0h0M379.7 55.8h0M390.4 50.8h0M389.1 62.9h0M365.0 60.6h0M371.6 75.1h0M371.2 55.8h0M388.1 45.3h0M398.7 64.9h0M399.4 59.3h0M373.3 63.8h0M388.8 71.3h0M372.1 47.6h0M400.0 64.9h0M374.4 67.1h0M388.1 53.5h0M398.8 50.9h0M380.4 69.3h0M382.4 61.7h0M375.1 59.8h0M374.9 56.7h0M367.9 72.7h0M371.4 69.6h0M381.2 51.0h0M362.2 64.9h0M381.9 56.0h0M376.3 71.6h0M380.7 76.3h0M372.5 62.1h0M382.0 58.1h0M381.8 59.9h0M381.1 63.7h0M374.3 70.2h0M364.8 60.1h0M407.1 58.3h0M383.5 65.7h0M380.7 58.8h0" fill="none" stroke="#3b7dba" stroke-opacity="0.4" stroke-width="1.85" stroke-linecap="round"/>
<path d="M364.2 60.3h0M381.0 59.5h0M363.2 62.7h0M375.0 50.7h0M373.1 51.8h0M398.8 58.9h0M373.4 68.0h0M373.6 52.1h0M381.7 57.7h0M379.3 76.0h0M365.2 68.3h0M384.1 66.1h0M389.8 63.5h0M364.8 73.5h0M397.6 61.4h0M373.9 69.9h0M395.7 49.5h0M389.4 71.1h0M374.4 61.2h0M371.7 65.0h0M381.3 67.7h0M381.5 70.6h0M387.5 65.3h0M381.1 56.0h0M391.9 67.7h0M382.0 72.4h0M370.8 56.6h0M382.3 61.7h0M373.8 64.9h0M390.2 83.0h0M390.5 59.9h0M372.9 53.9h0M383.0 56.7h0M391.1 75.4h0M387.1 60.4h0M372.4 50.5h0M381.2 47.5h0M373.0 62.8h0M373.6 68.7h0M364.7 64.4h0M379.1 65.5h0M367.5 69.5h0M379.4 68.4h0M381.6 56.0h0M396.3 63.9h0M383.5 62.9h0M366.0 57.4h0M365.9 64.3h0M381.6 63.8h0M373.6 60.6h0M380.1 51.2h0M372.1 64.2h0M388.8 73.6h0M389.4 60.1h0M371.8 64.0h0M371.0 61.4h0M372.1 70.2h0M366.4 54.2h0M380.2 70.8h0M374.1 52.6h0M396.5 49.9h0M373.3 58.3h0M372.3 54.3h0M383.6 72.5h0M364.5 54.8h0M381.8 78.5h0M372.7 70.8h0M381.3 59.6h0M381.4 54.8h0M408.2 49.1h0M381.7 64.9h0M370.9 73.4h0M362.6 69.0h0M378.8 55.7h0M374.4 69.6h0M363.2 79.2h0M398.6 62.6h0M372.6 51.9h0M381.9 60.3h0M371.9 79.0h0M371.8 79.6h0M365.5 66.6h0M373.2 53.8h0M382.0 57.2h0M399.5 66.8h0M397.3 74.4h0M383.1 68.3h0M374.1 69.8h0M390.4 67.4h0M372.7 63.3h0M381.9 77.0h0M373.2 70.6h0M391.3 58.0h0M424.3 53.3h0M381.9 57.1h0M372.0 62.7h0M365.7 58.1h0M398.0 60.3h0M389.3 58.5h0M374.4 67.1h0M381.2 69.9h0M365.7 65.5h0M361.8 71.1h0M390.2 53.6h0M364.9 64.0h0M414.4 65.4h0M373.0 57.9h0M374.0 54.0h0M391.4 60.1h0M381.3 53.8h0M380.7 58.4h0M371.9 66.9h0M390.7 74.4h0M363.3 75.4h0M365.9 69.2h0M380.7 56.6h0M373.8 73.2h0M389.9 54.2h0M399.1 48.5h0M364.4 59.1h0M363.5 57.5h0M371.6 74.5h0M381.0 61.8h0M373.9 68.5h0M373.6 68.6h0M389.5 70.2h0M373.1 67.9h0M380.4 60.2h0M382.3 78.8h0M389.6 55.0h0M373.1 60.4h0M407.8 62.7h0M379.7 66.5h0M373.7 56.9h0M373.5 62.5h0M364.3 64.9h0M381.9 55.8h0M398.6 49.4h0M365.0 59.5h0M364.4 45.5h0M374.5 51.2h0M382.3 71.6h0M382.9 60.8h0M363.3 71.6h0M372.0 59.6h0M390.6 56.9h0M396.3 70.8h0M364.6 60.0h0M381.4 57.8h0M381.2 57.5h0M363.0 52.6h0M371.3 67.3h0M365.0 72.9h0M390.3 66.4h0M381.3 59.7h0M390.7 59.2h0M389.2 51.6h0M380.6 53.6h0M379.2 61.5h0M372.2 77.8h0M393.0 59.8h0M363.5 68.1h0M371.4 59.4h0M390.4 67.1h0M363.5 81.8h0M397.8 70.3h0M390.1 60.2h0M363.7 60.6h0M364.8 67.3h0M382.4 76.9h0M380.3 58.3h0M373.4 74.0h0M382.7 61.3h0M374.0 77.6h0M383.9 58.0h0M378.2 69.2h0M372.4 58.6h0M373.0 61.8h0M365.0 62.6h0M372.8 65.2h0M362.8 49.6h0M365.1 61.3h0M364.2 63.3h0M389.7 67.5h0M389.1 72.0h0M365.5 75.4h0M381.3 64.4h0" fill="none" stroke="#3b7dba" stroke-opacity="0.4" stroke-width="1.85" stroke-linecap="round"/>
<path d="M375.1 68.2h0M380.0 63.4h0M405.0 67.3h0M365.1 60.6h0M406.6 60.9h0M379.7 64.3h0M407.0 61.0h0M373.3 54.2h0M371.0 66.4h0M398.5 56.1h0M390.4 65.1h0M390.8 57.2h0M408.2 53.7h0M381.4 60.1h0M388.7 69.6h0M373.1 68.9h0M367.0 60.0h0M380.6 57.5h0M371.5 74.5h0M372.3 68.0h0M378.6 68.0h0M388.1 65.3h0M405.6 72.3h0M381.2 77.3h0M383.5 61.0h0M375.0 53.6h0M389.7 56.5h0M388.1 62.3h0M371.1 57.7h0M373.5 64.6h0M364.0 74.9h0M365.2 46.4h0M366.3 64.4h0M379.1 50.4h0M371.7 79.2h0M391.7 64.8h0M364.1 72.8h0M387.0 54.3h0M373.2 56.2h0M390.3 58.2h0M373.5 81.5h0M406.2 46.0h0M371.5 63.5h0M372.9 61.4h0M382.2 59.3h0M366.9 58.3h0M398.5 56.4h0M391.6 65.1h0M391.2 57.0h0M381.4 63.9h0M389.7 57.9h0M381.6 70.0h0M382.9 70.3h0M389.2 66.6h0M365.1 79.2h0M396.8 62.7h0M387.8 59.0h0M364.3 75.0h0M407.3 71.2h0M372.4 63.9h0M363.5 67.9h0M389.1 47.8h0M374.0 72.9h0M372.1 63.6h0M383.2 60.9h0M364.8 55.9h0M373.5 52.9h0M388.5 77.4h0M382.4 65.9h0M374.3 73.3h0M371.6 72.4h0M374.0 59.5h0M381.1 81.4h0M370.9 60.7h0M382.6 51.4h0M421.4 67.8h0M372.6 51.1h0M363.8 69.9h0M381.5 69.9h0M380.0 59.6h0M397.8 63.4h0M382.4 65.2h0M373.4 70.9h0M390.9 74.7h0M389.7 68.6h0M398.9 58.7h0M365.9 65.6h0M364.4 66.6h0M380.4 52.5h0M371.2 64.8h0M372.4 73.8h0M370.2 69.6h0M390.2 74.2h0M388.9 65.5h0M375.7 58.1h0M389.2 62.0h0M366.5 55.9h0M381.0 65.2h0M373.9 70.4h0M388.5 40.2h0M372.8 80.1h0M388.5 64.5h0M382.2 56.2h0M387.5 70.3h0M374.5 64.8h0M367.1 66.2h0M389.4 61.7h0M373.3 71.9h0M383.7 59.3h0M389.6 62.0h0M379.6 49.0h0M389.5 66.8h0M364.6 57.6h0M389.3 70.1h0M380.9 77.3h0M374.4 59.0h0M362.7 63.0h0M383.3 56.0h0M380.8 60.6h0M379.8 58.5h0M366.4 60.3h0M382.4 50.5h0M374.1 62.2h0M367.0 68.4h0M366.4 69.5h0M388.4 55.2h0M380.4 68.0h0M390.8 57.0h0M373.1 80.4h0M382.0 70.9h0M380.6 61.5h0M369.7 61.3h0M383.0 77.3h0M363.6 58.8h0M382.0 51.9h0M365.0 61.5h0M390.6 59.7h0M399.1 71.3h0M366.6 53.6h0M374.9 63.4h0M363.9 52.7h0M408.6 60.3h0M398.7 74.6h0M382.5 74.4h0M373.1 71.9h0M390.2 78.8h0M375.3 53.2h0M373.0 56.1h0M366.0 76.9h0M388.3 58.0h0M372.7 61.9h0M381.4 56.0h0M392.1 62.9h0M364.2 60.3h0M382.2 68.1h0M363.2 65.4h0M371.7 77.7h0M371.2 56.2h0M407.8 59.0h0M397.3 60.5h0M388.8 70.5h0M364.7 59.2h0M388.6 57.6h0M374.2 70.2h0M381.4 49.0h0M382.4 64.4h0M381.8 69.1h0M361.7 61.8h0M365.6 65.2h0M372.5 56.7h0M381.9 57.6h0M384.2 67.7h0M382.4 55.9h0M388.2 62.5h0M366.0 70.9h0M363.7 66.1h0M363.7 58.7h0M373.3 67.7h0M371.0 78.4h0M389.6 60.2h0M389.1 55.9h0M365.8 69.5h0M379.9 61.5h0M380.3 66.1h0M370.8 51.4h0M380.8 63.9h0M404.8 52.9h0" fill="none" stroke="#3b7dba" stroke-opacity="0.4" stroke-width="1.85" stroke-linecap="round"/>
<path d="M389.5 89.8h0M396.5 60.7h0M374.2 63.2h0M364.8 54.6h0M396.3 54.1h0M382.7 82.2h0M365.2 71.5h0M381.7 57.4h0M383.0 63.4h0M391.3 72.7h0M406.7 56.5h0M364.4 66.2h0M372.6 61.1h0M381.5 53.9h0M393.0 61.8h0M389.3 68.4h0M390.1 67.1h0M390.7 69.6h0M364.5 63.0h0M379.5 66.2h0M382.0 71.9h0M379.7 59.7h0M382.4 70.4h0M381.8 61.2h0M382.0 54.8h0M365.0 62.3h0M382.0 60.9h0M381.9 58.3h0M379.9 63.2h0M364.4 66.7h0M389.1 59.1h0M374.8 67.0h0M389.5 57.7h0M399.3 73.7h0M372.3 55.9h0M381.7 66.7h0M382.5 55.8h0M373.1 59.8h0M364.9 68.1h0M364.8 70.2h0M387.1 61.6h0M374.2 52.8h0M375.0 63.6h0M407.6 73.2h0M382.3 51.8h0M381.0 56.9h0M380.2 75.4h0M380.9 65.0h0M365.0 62.5h0M373.3 65.0h0M373.3 65.3h0M365.0 61.5h0M371.9 64.5h0M371.5 53.6h0M373.3 61.2h0M370.5 71.6h0M371.4 62.1h0M382.4 60.3h0M380.6 63.6h0M378.9 61.3h0M364.9 64.1h0M381.0 72.6h0M382.1 62.2h0M391.5 53.2h0M375.2 58.9h0M391.1 69.3h0M381.1 59.5h0M380.2 52.9h0M381.5 64.6h0M398.1 73.0h0M374.7 54.0h0M382.9 63.0h0M388.8 54.5h0M390.9 64.6h0M365.4 66.1h0M397.5 56.8h0M381.8 53.5h0M373.0 66.2h0M365.6 57.3h0M365.3 60.3h0M380.2 48.9h0M372.9 66.0h0M364.7 63.9h0M389.9 59.6h0M409.3 62.6h0M384.6 61.6h0M379.8 57.2h0M364.4 59.0h0M387.5 47.7h0M382.7 65.8h0M380.8 66.8h0M373.2 54.8h0M374.0 76.2h0M388.6 67.4h0M373.5 64.5h0M364.0 60.5h0M365.2 66.1h0M364.5 65.1h0M381.1 49.4h0M365.4 56.5h0M376.3 59.0h0M389.1 64.7h0M390.2 60.9h0M387.0 62.7h0M371.5 69.4h0M382.2 73.5h0M396.7 71.1h0M373.5 66.3h0M364.8 73.1h0M371.9 66.1h0M363.6 66.8h0M382.0 68.4h0M381.9 46.3h0M379.4 68.2h0M389.1 66.7h0M372.8 57.7h0M382.9 43.4h0M371.7 69.5h0M384.6 68.1h0M390.6 63.2h0M375.8 78.4h0M372.1 57.7h0M409.0 57.5h0M364.8 80.7h0M381.1 63.4h0M364.9 68.7h0M381.1 70.4h0M369.9 61.2h0M380.0 66.9h0M365.9 67.5h0M378.2 63.3h0M363.8 56.5h0M373.5 65.6h0M379.4 54.1h0M365.6 59.1h0M373.5 68.9h0M380.1 69.6h0M382.7 73.6h0M415.4 68.9h0M389.7 56.7h0M388.4 82.5h0M372.6 61.4h0M364.5 64.4h0M373.4 72.6h0M364.4 60.5h0M397.2 65.0h0M371.2 64.0h0M390.9 55.6h0M374.5 65.8h0M364.9 68.3h0M373.5 54.2h0M373.3 65.0h0M366.2 79.4h0M391.1 65.8h0M400.3 71.7h0M363.4 65.6h0M362.9 69.5h0M388.5 63.4h0M387.4 54.1h0M363.8 64.5h0M363.9 61.3h0M389.9 62.9h0M381.2 60.8h0M379.2 62.2h0M370.6 69.3h0M379.1 58.6h0M381.3 64.0h0M372.3 65.1h0M389.5 66.7h0M399.0 53.3h0M373.1 76.3h0M406.1 60.8h0M381.8 69.7h0M389.0 66.7h0M365.0 66.6h0M399.4 53.8h0M364.2 59.8h0M382.8 62.2h0M371.1 69.5h0M366.8 65.5h0M365.6 74.4h0M372.6 64.0h0M381.2 52.7h0M366.0 63.2h0M379.6 64.1h0M381.2 57.8h0M373.0 28.6h0" fill="none" stroke="#3b7dba" stroke-opacity="0.4" stroke-width="1.85" stroke-linecap="round"/>
<path d="M364.6 60.5h0M364.6 56.9h0M389.5 70.1h0M381.2 63.3h0M389.5 56.2h0M371.4 59.1h0M388.8 63.6h0M372.0 68.3h0M365.4 73.1h0M439.8 81.9h0M380.6 68.2h0M374.0 69.4h0M381.5 65.3h0M391.7 63.0h0M391.5 66.5h0M382.2 73.8h0M364.1 55.4h0M387.2 71.0h0M373.4 65.6h0M373.5 61.9h0M376.2 70.8h0M364.3 66.4h0M363.5 70.2h0M372.4 57.3h0M390.6 52.2h0M373.0 77.0h0M381.0 52.7h0M389.2 63.2h0M381.6 57.1h0M373.8 89.6h0M375.4 63.2h0M386.5 64.0h0M374.6 62.9h0M382.8 65.4h0M373.2 54.2h0M372.6 72.8h0M365.3 56.9h0M380.4 58.4h0M379.8 53.2h0M378.8 46.4h0M381.4 66.5h0M381.9 66.0h0M365.6 55.1h0M381.9 58.0h0M408.4 63.7h0M389.9 68.3h0M390.6 67.5h0M373.3 57.6h0M389.4 63.9h0M371.5 59.4h0M400.8 67.5h0M373.2 68.1h0M364.9 54.1h0M365.6 62.2h0M391.0 65.6h0M383.1 69.6h0M383.0 62.9h0M370.2 58.0h0M397.1 73.3h0M383.4 75.8h0M391.4 58.5h0M364.5 57.3h0M372.0 64.1h0M406.9 60.6h0M389.9 55.0h0M382.3 60.0h0M371.3 61.1h0M363.7 62.6h0M380.5 59.0h0M372.4 65.8h0M390.2 69.1h0M375.6 69.0h0M372.3 77.2h0M382.0 60.3h0M382.7 65.3h0M372.6 59.1h0M365.7 62.9h0M390.1 71.0h0M374.6 61.4h0M373.7 66.2h0M364.6 72.1h0M390.2 69.2h0M364.5 73.7h0M362.4 61.0h0M380.6 66.7h0M399.2 51.9h0M364.6 63.7h0M390.0 67.5h0M390.2 75.7h0M387.8 61.0h0M363.6 70.7h0M374.5 69.3h0M382.0 52.4h0M372.4 55.1h0M399.1 74.0h0M364.6 61.5h0M383.2 58.4h0M379.8 64.2h0M407.7 55.7h0M381.5 65.8h0M382.1 71.2h0M364.0 75.0h0M371.8 64.8h0M363.4 72.0h0M389.4 47.3h0M364.9 59.7h0M373.8 66.3h0M381.6 61.0h0M364.4 64.6h0M366.1 71.9h0M366.2 54.1h0M388.9 62.1h0M381.5 60.8h0M414.9 62.9h0M380.9 57.0h0M380.9 62.4h0M384.2 62.3h0M373.3 52.1h0M391.1 45.8h0M381.3 65.8h0M363.1 59.0h0M379.6 76.4h0M390.1 55.4h0M373.6 53.9h0M379.5 56.6h0M383.1 57.3h0M390.8 63.2h0M373.2 62.9h0M390.2 64.8h0M390.0 61.9h0M414.9 62.2h0M381.4 66.9h0M381.2 62.4h0M365.8 75.6h0M364.6 65.9h0M381.9 55.1h0M373.2 61.1h0M381.8 58.6h0M380.3 66.1h0M382.6 57.3h0M364.6 66.3h0M373.6 61.4h0M364.3 60.6h0M399.0 56.2h0M373.6 55.9h0M372.1 67.7h0M386.9 62.7h0M380.9 59.8h0M381.5 58.7h0M374.1 56.0h0M381.9 69.5h0M388.3 52.5h0M391.2 47.3h0M390.4 58.9h0M373.7 61.5h0M397.4 66.6h0M390.2 71.1h0M371.8 74.6h0M380.8 57.8h0M384.6 76.8h0M381.0 59.2h0M398.6 55.3h0M365.2 60.6h0M381.2 68.9h0M374.5 50.5h0M372.6 64.6h0M373.7 75.3h0M390.1 66.7h0M372.7 68.2h0M365.3 64.8h0M362.7 66.1h0M389.9 75.6h0M373.1 62.0h0M364.0 71.3h0M363.9 63.4h0M365.1 45.9h0M372.4 56.8h0M373.5 53.9h0M373.4 60.3h0M389.2 67.0h0M382.5 57.2h0M388.0 58.2h0M390.2 55.7h0M374.8 65.5h0M372.6 64.1h0M371.6 70.8h0M362.2 56.9h0" fill="none" stroke="#3b7dba" stroke-opacity="0.4" stroke-width="1.85" stroke-linecap="round"/>
<path d="M382.0 52.2h0M373.1 67.5h0M398.2 64.3h0M389.8 52.8h0M365.5 69.4h0M373.2 64.8h0M391.5 69.7h0M372.8 65.2h0M398.9 46.7h0M391.0 61.3h0M399.1 55.4h0M398.2 73.5h0M391.0 73.5h0M391.1 66.8h0M363.5 66.2h0M390.0 68.3h0M398.9 57.3h0M373.0 70.5h0M390.7 71.3h0M372.8 66.7h0M375.3 46.1h0M364.0 69.4h0M373.0 63.1h0M366.5 55.7h0M388.0 62.9h0M381.9 59.2h0M371.6 68.2h0M373.6 62.9h0M365.9 68.7h0M414.1 56.7h0M388.9 73.5h0M373.5 62.2h0M382.8 66.2h0M383.7 57.6h0M389.0 73.6h0M390.8 70.1h0M388.3 70.2h0M373.2 71.6h0M382.8 65.7h0M398.1 59.5h0M380.8 67.3h0M398.7 76.1h0M381.5 67.7h0M374.8 57.8h0M371.9 58.9h0M364.7 60.8h0M375.3 60.4h0M372.2 62.8h0M365.0 68.9h0M398.5 47.6h0M390.2 59.1h0M380.7 59.3h0M373.4 63.3h0M406.7 44.7h0M396.3 48.5h0M372.7 55.1h0M381.6 68.3h0M373.4 64.9h0M406.6 66.1h0M390.0 75.5h0M363.7 59.5h0M373.1 62.8h0M372.2 68.7h0M389.7 77.4h0M366.2 52.3h0M379.8 60.2h0M382.3 61.9h0M382.2 62.5h0M375.6 72.9h0M380.3 50.7h0M371.6 72.2h0M372.2 73.5h0M380.9 63.9h0M406.6 62.1h0M373.8 65.0h0M381.5 61.5h0M375.6 83.1h0M390.1 64.1h0M383.1 62.2h0M388.3 64.9h0M374.3 74.9h0M370.1 63.4h0M407.5 58.9h0M390.8 50.6h0M389.2 77.9h0M380.6 73.3h0M389.4 55.6h0M363.7 66.5h0M372.2 77.4h0M372.5 58.9h0M366.4 66.2h0M407.7 51.2h0M381.1 58.8h0M381.4 65.9h0M374.0 63.1h0M383.6 53.8h0M397.8 58.4h0M390.7 66.3h0M381.5 68.8h0M378.3 56.7h0M379.8 65.3h0M365.3 63.6h0M364.3 68.9h0M391.1 59.5h0M369.9 63.1h0M395.1 52.7h0M389.4 63.7h0M382.7 76.7h0M367.3 56.5h0M364.5 73.2h0M362.5 58.2h0M372.7 67.6h0M380.1 64.0h0M372.0 57.6h0M373.2 65.0h0M381.4 33.3h0M381.2 75.6h0M382.1 53.6h0M386.8 53.3h0M371.5 63.5h0M380.1 64.6h0M398.0 60.1h0M398.3 57.2h0M363.8 46.9h0M390.4 62.5h0M373.3 68.3h0M382.0 57.5h0M374.7 72.1h0M364.3 57.5h0M364.0 59.3h0M406.8 65.9h0M372.9 57.6h0M373.2 51.7h0M392.3 34.2h0M389.8 58.0h0M371.5 58.8h0M407.3 59.7h0M362.3 72.6h0M404.3 66.7h0M391.0 51.9h0M373.2 73.9h0M372.8 63.2h0M380.8 64.5h0M364.4 66.7h0M390.4 57.5h0M384.2 61.8h0M389.4 66.7h0M364.4 57.3h0M381.7 53.9h0M382.7 59.8h0M364.7 63.8h0M373.0 57.6h0M421.4 61.9h0M373.2 62.1h0M400.4 58.6h0M379.4 65.1h0M380.9 60.6h0M387.4 59.7h0M380.6 56.8h0M382.5 70.2h0M367.1 68.4h0M390.2 68.3h0M361.4 62.8h0M373.3 75.3h0M399.2 80.1h0M382.5 53.7h0M371.9 60.3h0M363.7 35.9h0M364.1 72.1h0M374.4 64.9h0M373.1 67.7h0M364.5 72.5h0M364.3 61.7h0M390.3 72.2h0M363.3 84.0h0M371.6 69.8h0M379.4 60.4h0M364.9 62.5h0M364.6 78.6h0M372.4 53.0h0M380.2 54.5h0M364.5 69.4h0M373.5 45.0h0M372.6 49.6h0M362.7 72.4h0M372.7 71.7h0M383.1 54.7h0" fill="none" stroke="#3b7dba" stroke-opacity="0.4" stroke-width="1.85" stroke-linecap="round"/>
<path d="M361.7 63.8 L400.2 61.8 L438.7 58.5 L438.7 62.099999999999994 L400.2 63.0 L361.7 65.2Z" fill="#8a8a8a" fill-opacity="0.42"/>
<path d="M361.7 64.5 L438.7 60.3" stroke="#5e5e5e" stroke-width="0.95"/>
<text x="400.50" y="122.60" font-size="9.66" font-weight="normal" text-anchor="middle" fill="#000" >SDQ Peer Problem</text>
<text x="418.60" y="33.50" font-size="9.5" font-weight="normal" text-anchor="start" fill="#000" ><tspan font-style="italic">r</tspan> = 0.08</text>
<text x="418.60" y="45.00" font-size="9.5" font-weight="normal" text-anchor="start" fill="#000" ><tspan font-style="italic">p</tspan> = 0.003</text>
<rect x="508.1" y="27.4" width="92.00" height="81.40" fill="#ebebeb"/>
<path d="M516.46 27.4V108.8M524.83 27.4V108.8M533.19 27.4V108.8M541.55 27.4V108.8M549.92 27.4V108.8M558.28 27.4V108.8M566.65 27.4V108.8M575.01 27.4V108.8M583.37 27.4V108.8M591.74 27.4V108.8M508.1 35.40H600.1M508.1 45.89H600.1M508.1 56.37H600.1M508.1 66.86H600.1M508.1 77.34H600.1M508.1 87.83H600.1M508.1 98.31H600.1" stroke="#fff" stroke-width="0.55" fill="none" opacity="0.6"/>
<text x="508.10" y="113.40" font-size="4.25" font-weight="normal" text-anchor="middle" fill="#111" >-3</text>
<text x="516.46" y="113.40" font-size="4.25" font-weight="normal" text-anchor="middle" fill="#111" >-2</text>
<text x="524.83" y="113.40" font-size="4.25" font-weight="normal" text-anchor="middle" fill="#111" >-1</text>
<text x="533.19" y="113.40" font-size="4.25" font-weight="normal" text-anchor="middle" fill="#111" >0</text>
<text x="541.55" y="113.40" font-size="4.25" font-weight="normal" text-anchor="middle" fill="#111" >1</text>
<text x="549.92" y="113.40" font-size="4.25" font-weight="normal" text-anchor="middle" fill="#111" >2</text>
<text x="558.28" y="113.40" font-size="4.25" font-weight="normal" text-anchor="middle" fill="#111" >3</text>
<text x="566.65" y="113.40" font-size="4.25" font-weight="normal" text-anchor="middle" fill="#111" >4</text>
<text x="575.01" y="113.40" font-size="4.25" font-weight="normal" text-anchor="middle" fill="#111" >5</text>
<text x="583.37" y="113.40" font-size="4.25" font-weight="normal" text-anchor="middle" fill="#111" >6</text>
<text x="591.74" y="113.40" font-size="4.25" font-weight="normal" text-anchor="middle" fill="#111" >7</text>
<text x="600.10" y="113.40" font-size="4.25" font-weight="normal" text-anchor="middle" fill="#111" >8</text>
<text x="505.20" y="36.80" font-size="4.25" font-weight="normal" text-anchor="end" fill="#111" >0.15</text>
<text x="505.20" y="47.29" font-size="4.25" font-weight="normal" text-anchor="end" fill="#111" >0.1</text>
<text x="505.20" y="57.77" font-size="4.25" font-weight="normal" text-anchor="end" fill="#111" >0.05</text>
<text x="505.20" y="68.26" font-size="4.25" font-weight="normal" text-anchor="end" fill="#111" >0</text>
<text x="505.20" y="78.74" font-size="4.25" font-weight="normal" text-anchor="end" fill="#111" >-0.05</text>
<text x="505.20" y="89.23" font-size="4.25" font-weight="normal" text-anchor="end" fill="#111" >-0.1</text>
<text x="505.20" y="99.71" font-size="4.25" font-weight="normal" text-anchor="end" fill="#111" >-0.15</text>
<text x="505.20" y="110.20" font-size="4.25" font-weight="normal" text-anchor="end" fill="#111" >-0.2</text>
<path d="M527.2 70.2h0M549.5 54.7h0M533.8 57.5h0M524.5 64.7h0M534.2 70.2h0M533.1 61.7h0M526.7 63.8h0M516.3 65.6h0M533.1 65.3h0M525.0 64.7h0M542.8 69.0h0M526.1 69.3h0M525.9 67.9h0M517.9 62.7h0M534.3 36.0h0M518.7 57.5h0M526.2 59.7h0M527.0 67.8h0M544.6 69.6h0M517.7 65.7h0M528.1 64.4h0M523.9 71.0h0M533.7 61.3h0M551.0 71.3h0M525.7 63.7h0M541.1 72.3h0M535.8 72.1h0M541.9 71.7h0M516.6 67.3h0M536.5 74.6h0M519.7 74.2h0M526.0 55.4h0M518.5 75.6h0M525.3 47.6h0M550.0 61.1h0M532.9 75.5h0M524.8 68.0h0M518.3 71.7h0M561.1 71.1h0M534.8 74.3h0M534.1 63.1h0M542.2 77.5h0M518.5 69.2h0M524.6 61.4h0M518.0 59.2h0M525.9 63.8h0M535.0 53.8h0M517.4 54.5h0M526.0 63.3h0M534.8 57.2h0M542.6 66.2h0M535.3 59.2h0M516.5 76.5h0M535.6 75.7h0M527.3 66.1h0M540.5 73.7h0M532.6 73.6h0M523.2 63.9h0M527.5 63.1h0M544.5 75.2h0M526.3 67.4h0M518.5 73.7h0M535.3 79.2h0M528.4 64.8h0M543.6 61.5h0M525.7 69.0h0M560.2 56.3h0M526.4 68.9h0M539.9 81.8h0M535.1 67.6h0M517.5 67.6h0M534.0 68.2h0M542.7 65.7h0M518.5 53.1h0M551.3 70.0h0M515.8 62.9h0M532.9 66.9h0M535.1 73.2h0M534.4 72.5h0M533.9 78.5h0M532.5 76.4h0M541.2 51.7h0M533.8 66.1h0M525.3 57.8h0M525.0 65.6h0M535.4 66.4h0M534.4 66.6h0M516.0 58.5h0M532.7 68.6h0M525.4 56.0h0M514.7 88.7h0M556.5 60.8h0M524.9 71.2h0M550.0 69.7h0M542.2 76.4h0M533.3 59.5h0M536.7 67.0h0M523.3 72.2h0M535.4 86.0h0M517.0 64.3h0M543.6 61.9h0M527.8 69.1h0M552.7 49.7h0M541.6 45.3h0M543.2 68.6h0M541.6 63.5h0M533.6 81.7h0M543.8 74.0h0M518.4 48.9h0M552.4 61.7h0M525.2 71.6h0M526.5 65.4h0M560.4 66.9h0M524.2 67.0h0M541.8 61.7h0M557.1 66.2h0M517.9 57.5h0M537.5 62.5h0M536.1 47.5h0M551.4 69.9h0M525.5 59.0h0M526.0 72.3h0M526.0 65.2h0M551.1 80.2h0M517.5 74.1h0M527.0 68.4h0M543.6 74.7h0M542.3 73.1h0M542.6 63.9h0M543.8 75.7h0M518.3 61.9h0M558.8 71.4h0M543.5 74.0h0M527.3 66.4h0M524.8 65.5h0M542.9 55.0h0M519.1 67.7h0M531.2 77.7h0M518.8 68.5h0M517.5 78.1h0M542.9 64.7h0M534.2 67.2h0M533.8 59.2h0M536.4 85.7h0M517.3 74.4h0M527.7 72.1h0M543.6 66.0h0M517.8 47.0h0M552.0 65.9h0M527.7 59.7h0M543.3 71.5h0M534.9 66.7h0M541.6 71.4h0M534.4 62.6h0M532.9 68.6h0M542.1 73.4h0M533.9 59.9h0M535.2 73.3h0M534.3 38.0h0M525.9 69.1h0M534.2 67.1h0M534.7 65.3h0M532.8 54.4h0M551.5 80.8h0M534.2 75.6h0M532.7 64.7h0M532.9 73.1h0M533.3 68.1h0M526.0 57.0h0M542.5 64.3h0M525.7 76.6h0M550.7 62.1h0M560.9 63.5h0M543.3 63.8h0M518.4 61.5h0M541.6 41.2h0M540.3 64.4h0M526.5 83.2h0M517.1 64.7h0M516.9 64.7h0M517.1 61.0h0M516.5 76.3h0M541.8 63.5h0M516.3 62.9h0M544.2 74.4h0M532.5 69.8h0M542.0 67.0h0M526.0 69.9h0" fill="none" stroke="#50bb40" stroke-opacity="0.4" stroke-width="1.85" stroke-linecap="round"/>
<path d="M533.0 64.4h0M535.5 70.4h0M525.4 68.8h0M516.6 56.2h0M525.1 77.1h0M558.6 58.8h0M525.6 50.3h0M518.8 66.1h0M558.2 64.8h0M542.5 62.8h0M559.8 66.8h0M529.3 57.7h0M542.1 62.0h0M517.6 63.6h0M517.2 80.5h0M541.2 74.3h0M561.5 65.1h0M533.5 68.1h0M528.4 57.0h0M543.8 67.7h0M534.2 60.9h0M517.0 50.3h0M532.6 60.1h0M559.3 52.9h0M520.5 68.2h0M534.1 80.8h0M542.6 77.8h0M514.9 67.6h0M529.3 74.9h0M544.7 70.5h0M535.0 56.8h0M535.7 62.8h0M536.3 57.3h0M535.0 59.7h0M526.2 73.5h0M517.0 74.3h0M552.5 62.2h0M516.5 61.0h0M518.0 54.0h0M541.8 67.9h0M519.4 60.6h0M545.1 61.8h0M533.2 59.1h0M542.4 82.5h0M534.7 65.8h0M517.5 56.1h0M535.5 72.1h0M526.1 66.7h0M533.6 55.6h0M518.8 62.6h0M535.0 59.1h0M526.7 70.6h0M519.1 71.6h0M534.1 66.8h0M526.3 75.0h0M525.8 66.0h0M518.0 77.8h0M533.9 72.4h0M516.8 69.7h0M550.1 73.0h0M542.4 70.3h0M536.2 79.1h0M533.3 60.5h0M531.2 65.2h0M545.9 71.8h0M559.9 74.6h0M544.9 60.4h0M517.2 63.2h0M533.5 57.1h0M542.4 70.8h0M525.4 66.8h0M533.4 83.2h0M536.2 63.6h0M525.0 60.7h0M551.2 70.5h0M525.1 63.4h0M526.3 75.4h0M534.5 66.1h0M535.4 53.0h0M519.6 76.2h0M526.0 48.6h0M545.6 58.8h0M567.9 76.1h0M532.7 62.8h0M536.3 72.9h0M531.2 58.7h0M515.0 57.9h0M542.4 71.5h0M524.7 62.0h0M553.1 55.7h0M519.3 62.6h0M526.5 105.5h0M522.8 88.0h0M535.0 68.5h0M527.2 61.1h0M542.4 66.9h0M541.5 73.6h0M517.2 50.5h0M553.6 65.5h0M517.9 64.6h0M516.9 75.0h0M526.8 62.3h0M537.1 73.1h0M543.0 72.8h0M536.2 68.2h0M516.3 67.4h0M535.4 62.4h0M534.4 72.2h0M524.8 71.5h0M516.4 58.4h0M526.7 63.2h0M541.8 67.4h0M527.7 54.2h0M527.2 72.8h0M543.8 57.6h0M527.6 65.2h0M524.8 70.3h0M535.1 61.3h0M536.4 66.6h0M533.3 63.0h0M524.4 76.5h0M541.1 77.6h0M524.9 54.2h0M516.2 60.6h0M534.3 70.7h0M558.8 55.9h0M526.7 78.7h0M525.0 60.9h0M525.9 73.3h0M543.2 69.5h0M539.6 65.8h0M549.0 50.3h0M516.9 66.4h0M524.9 66.2h0M533.4 77.0h0M534.2 70.2h0M526.3 71.5h0M534.6 68.1h0M543.9 68.8h0M520.0 69.8h0M526.0 72.1h0M559.7 68.5h0M541.6 60.6h0M542.4 60.1h0M526.8 60.3h0M535.4 67.9h0M534.7 71.4h0M543.1 61.3h0M525.1 80.5h0M526.5 59.4h0M541.8 70.0h0M518.0 64.8h0M518.9 62.5h0M534.2 77.2h0M541.9 69.5h0M534.0 77.4h0M518.6 69.4h0M517.8 69.0h0M534.9 51.6h0M534.4 82.5h0M532.9 54.1h0M517.1 72.3h0M517.0 65.1h0M550.9 65.6h0M525.2 73.2h0M517.2 64.5h0M549.7 69.7h0M525.9 72.3h0M558.6 37.3h0M552.6 59.1h0M540.5 68.7h0M533.9 61.2h0M543.8 68.0h0M556.3 62.6h0M535.3 59.1h0M532.8 66.9h0M525.7 66.9h0M525.0 69.7h0M532.9 65.4h0M542.8 65.9h0M534.1 56.2h0M534.6 57.1h0M533.7 74.6h0M541.7 53.4h0M525.6 69.1h0M519.1 53.0h0M542.9 64.7h0M543.6 72.1h0" fill="none" stroke="#50bb40" stroke-opacity="0.4" stroke-width="1.85" stroke-linecap="round"/>
<path d="M534.8 67.3h0M525.7 67.5h0M535.7 56.7h0M552.3 77.1h0M543.6 81.1h0M535.1 70.1h0M526.0 72.1h0M536.9 77.0h0M522.9 64.4h0M536.7 66.9h0M518.1 78.0h0M521.0 74.1h0M518.3 63.6h0M543.7 55.1h0M518.0 71.5h0M533.0 56.0h0M526.4 65.6h0M559.5 74.2h0M550.7 80.0h0M528.0 62.4h0M524.5 53.0h0M525.3 57.3h0M541.6 59.5h0M517.2 70.0h0M543.8 78.8h0M542.0 71.0h0M540.7 57.0h0M525.5 69.0h0M558.6 52.6h0M517.0 69.6h0M543.1 62.9h0M550.0 67.7h0M526.9 69.7h0M558.3 61.3h0M559.0 63.4h0M517.6 70.9h0M540.3 70.5h0M517.3 59.3h0M535.4 59.9h0M523.7 64.0h0M542.5 73.0h0M535.9 49.3h0M519.1 80.2h0M546.1 60.4h0M534.5 75.4h0M544.7 57.9h0M535.5 58.8h0M517.3 71.4h0M534.8 69.9h0M533.6 67.7h0M535.1 60.2h0M529.1 69.9h0M542.5 69.2h0M516.8 64.3h0M519.3 58.7h0M536.0 57.4h0M549.5 67.9h0M515.8 81.7h0M516.3 71.3h0M536.1 69.8h0M524.2 69.4h0M542.4 66.7h0M542.7 56.6h0M550.7 68.1h0M541.4 70.3h0M534.7 71.4h0M551.3 85.5h0M517.7 74.4h0M525.3 67.9h0M525.3 67.5h0M534.6 70.5h0M535.8 53.6h0M575.8 79.7h0M534.7 65.1h0M523.7 61.9h0M528.1 67.4h0M531.6 75.8h0M520.5 52.4h0M527.2 66.5h0M535.6 71.9h0M525.8 57.2h0M525.5 60.5h0M553.3 76.0h0M539.7 59.8h0M518.7 49.4h0M534.6 67.0h0M532.6 59.2h0M527.2 61.8h0M518.0 76.9h0M534.1 51.3h0M533.9 66.7h0M516.6 52.2h0M549.9 68.7h0M518.1 67.2h0M534.8 59.8h0M545.1 82.3h0M535.8 77.8h0M542.9 71.3h0M542.2 58.0h0M551.6 55.2h0M527.0 72.5h0M534.3 57.0h0M543.6 66.4h0M533.9 47.9h0M535.6 61.5h0M518.7 63.3h0M525.5 57.9h0M533.8 76.4h0M533.0 51.5h0M543.2 60.7h0M526.1 57.4h0M523.6 55.8h0M534.1 75.3h0M536.2 72.5h0M526.8 42.8h0M527.7 57.9h0M550.8 67.2h0M523.8 70.3h0M558.6 64.4h0M534.6 72.4h0M527.4 77.6h0M542.5 69.1h0M542.2 68.2h0M519.3 59.2h0M517.6 54.7h0M531.9 53.9h0M519.3 66.6h0M534.4 64.9h0M518.3 73.6h0M531.6 64.3h0M544.3 72.1h0M534.3 63.8h0M535.3 69.2h0M524.2 68.9h0M550.1 77.3h0M525.8 75.2h0M544.2 57.5h0M526.6 60.2h0M576.3 81.2h0M532.9 70.7h0M537.7 70.7h0M535.5 73.7h0M526.0 70.3h0M519.1 64.0h0M518.1 81.5h0M527.5 71.2h0M534.6 59.5h0M515.2 56.6h0M535.6 78.3h0M543.1 62.8h0M526.8 65.5h0M534.5 67.6h0M533.5 60.9h0M522.8 40.7h0M533.4 64.6h0M517.3 79.2h0M524.6 57.1h0M525.3 62.7h0M525.6 61.3h0M545.2 59.1h0M526.4 62.6h0M550.7 71.4h0M517.8 67.6h0M542.8 71.0h0M534.4 53.4h0M519.5 70.9h0M525.9 66.6h0M534.6 73.6h0M525.0 63.8h0M516.3 83.8h0M517.5 69.5h0M541.4 67.7h0M532.2 65.8h0M526.4 52.7h0M542.6 67.1h0M527.7 59.5h0M534.9 70.9h0M552.8 69.6h0M534.3 66.8h0M542.1 55.4h0M534.1 68.2h0M525.3 67.0h0M517.8 74.0h0M543.2 70.4h0M518.6 66.3h0M544.7 57.0h0M527.3 68.9h0M526.6 74.1h0" fill="none" stroke="#50bb40" stroke-opacity="0.4" stroke-width="1.85" stroke-linecap="round"/>
<path d="M526.9 70.8h0M535.2 72.9h0M525.6 69.2h0M524.1 62.1h0M531.2 56.6h0M534.4 68.3h0M518.8 61.4h0M524.4 73.4h0M526.7 67.5h0M544.4 70.9h0M551.5 69.6h0M533.4 62.0h0M527.0 71.6h0M524.3 74.4h0M534.9 61.8h0M516.2 68.5h0M543.6 55.8h0M544.1 58.3h0M518.2 79.0h0M534.6 65.7h0M525.3 56.6h0M533.9 65.0h0M534.1 61.3h0M535.4 64.9h0M534.9 64.2h0M527.8 55.3h0M528.4 75.6h0M532.8 62.6h0M549.5 61.0h0M536.0 59.8h0M525.7 75.9h0M542.8 69.6h0M532.9 65.1h0M526.9 79.3h0M559.8 67.7h0M527.0 58.9h0M542.2 73.6h0M535.3 61.9h0M519.4 59.7h0M526.4 48.6h0M541.5 68.7h0M534.9 70.1h0M535.9 87.8h0M526.2 55.4h0M517.3 70.5h0M515.8 71.1h0M543.1 69.3h0M526.8 70.5h0M541.8 67.9h0M524.2 63.6h0M527.3 54.6h0M533.9 76.9h0M532.0 69.2h0M525.7 60.6h0M534.6 66.0h0M535.7 60.7h0M516.7 75.3h0M565.1 77.6h0M523.2 72.2h0M524.5 63.3h0M552.4 69.4h0M541.9 67.1h0M517.8 79.7h0M524.8 55.4h0M529.1 81.3h0M539.7 66.9h0M567.6 63.0h0M559.7 62.4h0M534.8 67.0h0M517.7 72.7h0M526.9 75.6h0M534.4 68.8h0M518.6 66.3h0M543.1 67.2h0M534.6 66.8h0M543.7 48.3h0M545.1 69.3h0M534.2 58.6h0M542.7 64.0h0M534.8 54.1h0M532.8 67.6h0M542.6 47.8h0M526.1 70.3h0M527.0 67.7h0M525.5 70.4h0M528.0 64.5h0M519.1 59.0h0M543.7 68.1h0M519.0 70.9h0M528.2 79.7h0M526.4 64.0h0M550.5 73.6h0M552.7 70.1h0M543.2 68.6h0M535.6 71.7h0M542.2 76.4h0M542.8 61.3h0M526.0 64.9h0M516.7 63.7h0M528.7 68.0h0M518.1 72.8h0M515.7 70.4h0M516.9 77.6h0M551.3 70.6h0M534.1 68.2h0M542.9 66.1h0M551.2 71.4h0M526.4 35.3h0M517.2 70.6h0M518.3 75.1h0M542.8 53.0h0M525.5 65.1h0M543.9 43.0h0M535.3 67.4h0M534.3 63.8h0M544.1 63.3h0M542.4 61.8h0M534.0 74.0h0M543.1 68.1h0M544.2 65.9h0M526.2 60.6h0M543.9 69.6h0M525.8 73.1h0M535.4 64.2h0M527.0 70.3h0M558.3 80.2h0M525.9 74.2h0M541.5 63.6h0M536.0 65.3h0M537.7 71.8h0M534.1 75.4h0M524.9 66.2h0M527.4 70.1h0M535.2 81.7h0M569.0 59.1h0M517.4 74.9h0M534.9 65.2h0M534.4 60.2h0M524.8 58.0h0M532.4 72.1h0M519.2 69.4h0M527.7 57.6h0M527.4 61.1h0M544.1 51.8h0M544.2 75.3h0M527.5 69.9h0M542.2 73.8h0M553.0 58.6h0M535.3 68.2h0M534.4 60.9h0M527.1 76.3h0M532.7 75.6h0M536.1 59.1h0M534.1 88.4h0M526.6 66.5h0M533.4 58.7h0M519.6 60.4h0M534.5 71.4h0M533.3 61.8h0M534.4 66.8h0M534.3 78.3h0M535.0 73.3h0M542.6 60.7h0M525.1 48.3h0M524.7 61.5h0M520.1 56.7h0M534.3 57.9h0M517.0 75.0h0M536.5 68.2h0M532.5 66.6h0M545.1 77.4h0M541.1 60.4h0M534.2 68.7h0M526.7 76.0h0M552.9 63.5h0M519.0 68.8h0M527.4 80.4h0M541.3 64.1h0M534.4 74.4h0M575.6 77.0h0M523.5 73.6h0M526.0 55.9h0M549.9 44.7h0M527.5 87.2h0M525.6 54.1h0M559.4 63.5h0M541.7 65.4h0M534.1 75.4h0" fill="none" stroke="#50bb40" stroke-opacity="0.4" stroke-width="1.85" stroke-linecap="round"/>
<path d="M542.5 70.1h0M524.8 70.1h0M526.0 59.5h0M526.7 63.2h0M533.5 72.8h0M524.9 74.4h0M536.2 67.6h0M533.3 69.5h0M567.7 50.6h0M537.7 81.6h0M534.8 60.2h0M543.3 79.3h0M534.4 58.6h0M516.4 69.2h0M537.4 63.8h0M533.9 59.0h0M518.2 62.9h0M543.7 62.3h0M528.1 65.1h0M526.6 85.3h0M526.0 63.0h0M528.3 78.8h0M517.7 68.5h0M545.2 51.6h0M551.4 77.1h0M551.1 79.6h0M541.6 54.7h0M543.2 74.3h0M525.7 63.2h0M526.9 64.2h0M524.1 78.1h0M527.3 60.3h0M518.0 76.2h0M528.1 73.8h0M517.1 67.4h0M517.8 65.2h0M524.8 69.2h0M519.9 61.4h0M524.4 74.1h0M528.6 62.6h0M527.5 51.3h0M526.6 70.6h0M540.8 52.9h0M543.9 72.8h0M542.4 59.0h0M525.2 64.2h0M533.2 74.9h0M544.7 72.1h0M533.9 66.1h0M517.1 75.9h0M532.9 60.1h0M560.7 66.4h0M518.9 75.8h0M534.5 60.6h0M534.5 62.4h0M517.2 50.3h0M541.8 63.1h0M542.7 58.7h0M524.3 64.4h0M525.0 81.6h0M542.6 52.1h0M550.2 59.4h0M516.7 61.0h0M542.9 62.6h0M535.6 72.2h0M541.8 64.6h0M524.9 63.5h0M553.0 51.1h0M517.0 66.6h0M525.9 58.3h0M517.8 53.2h0M534.2 69.4h0M526.2 71.3h0M533.6 61.8h0M532.4 51.6h0M518.8 73.4h0M525.9 61.4h0M531.2 62.7h0M531.4 71.0h0M533.6 64.5h0M518.9 69.2h0M517.3 70.8h0M516.9 72.8h0M535.8 64.7h0M526.3 63.3h0M535.4 67.9h0M533.9 68.6h0M519.6 67.8h0M543.6 67.9h0M528.2 69.8h0M519.2 73.0h0M525.1 70.0h0M534.0 62.9h0M526.2 73.1h0M536.1 58.2h0M551.6 66.4h0M534.4 78.6h0M517.1 69.7h0M543.0 68.4h0M536.8 65.0h0M515.7 66.8h0M527.3 75.8h0M516.5 64.5h0M517.0 61.9h0M535.1 59.6h0M535.6 81.2h0M526.5 72.9h0M540.9 65.4h0M542.2 64.7h0M559.6 65.0h0M519.0 66.8h0M548.0 56.7h0M518.4 85.0h0M534.4 61.2h0M553.2 50.7h0M550.7 67.4h0M542.2 65.4h0M551.0 61.8h0M516.7 79.8h0M541.0 58.4h0M542.3 68.8h0M528.7 70.3h0M534.0 72.7h0M526.7 71.4h0M551.9 57.6h0M516.2 55.0h0M517.5 65.8h0M517.3 61.0h0M558.9 67.4h0M517.3 56.9h0M524.9 70.9h0M516.7 67.6h0M532.2 63.7h0M552.5 51.3h0M534.4 66.8h0M534.4 74.7h0M541.3 66.6h0M526.2 68.3h0M552.8 59.3h0M544.9 60.0h0M527.1 63.5h0M542.0 83.1h0M550.5 65.6h0M518.5 70.6h0M542.3 53.3h0M534.9 62.0h0M533.7 57.3h0M524.6 51.2h0M542.1 55.0h0M534.2 70.6h0M527.0 70.1h0M526.5 65.2h0M534.1 74.2h0M543.4 68.2h0M543.3 63.3h0M516.6 60.2h0M535.7 66.8h0M540.7 72.9h0M518.8 72.4h0M535.1 63.2h0M536.3 84.2h0M551.6 68.7h0M525.1 56.8h0M534.8 61.2h0M526.4 65.6h0M517.9 57.3h0M525.7 69.7h0M516.9 76.5h0M518.2 58.6h0M543.9 61.0h0M526.4 76.4h0M533.4 68.4h0M542.4 70.0h0M537.2 74.1h0M527.3 61.6h0M535.3 51.0h0M539.5 63.2h0M544.9 84.4h0M552.3 62.1h0M519.1 71.3h0M535.8 74.6h0M542.1 50.6h0M543.6 69.6h0M527.0 60.4h0M526.2 35.3h0M517.6 72.4h0M532.5 79.8h0M519.9 70.0h0" fill="none" stroke="#50bb40" stroke-opacity="0.4" stroke-width="1.85" stroke-linecap="round"/>
<path d="M534.0 63.4h0M515.6 53.2h0M518.1 63.6h0M539.9 72.7h0M543.8 68.5h0M518.0 70.7h0M526.2 67.2h0M516.6 79.8h0M527.0 56.2h0M550.9 60.7h0M535.8 64.9h0M525.2 72.7h0M534.7 52.0h0M527.9 68.8h0M535.4 74.7h0M518.3 71.2h0M542.5 57.5h0M525.8 64.0h0M541.2 69.0h0M526.9 63.0h0M543.0 43.2h0M533.0 56.9h0M531.9 74.5h0M550.4 72.8h0M544.5 60.7h0M542.0 58.8h0M524.4 59.2h0M552.0 60.7h0M524.8 67.8h0M525.3 62.9h0M543.0 76.8h0M550.8 77.7h0M526.0 69.7h0M517.0 70.1h0M526.8 77.9h0M525.3 64.9h0M526.1 71.3h0M517.8 68.4h0M517.3 60.6h0M517.7 66.8h0M527.9 64.9h0M517.5 76.7h0M535.0 65.9h0M526.3 70.8h0M536.0 56.6h0M544.6 63.5h0M527.7 55.8h0M550.4 70.0h0M526.8 81.4h0M542.2 75.2h0M517.4 64.2h0M533.6 76.4h0M527.9 76.0h0M534.4 63.4h0M542.6 66.8h0M517.8 75.0h0M516.2 89.5h0M542.4 65.0h0M551.4 58.7h0M518.3 67.4h0M543.3 56.1h0M526.8 67.8h0M559.6 75.3h0M533.1 73.6h0M534.8 57.8h0M543.0 62.4h0M534.7 66.2h0M520.3 75.9h0M566.4 82.7h0M541.4 64.4h0M527.3 41.9h0M517.5 65.0h0M542.5 68.6h0M517.0 67.6h0M524.8 56.7h0M540.3 64.8h0M527.9 63.9h0M517.9 70.3h0M541.1 54.9h0M544.8 67.3h0M516.2 67.4h0M536.9 75.0h0M526.3 77.6h0M532.0 54.0h0M526.2 63.4h0M526.2 64.0h0M590.9 77.4h0M542.3 66.0h0M516.2 65.7h0M543.9 71.2h0M535.2 52.6h0M541.8 61.5h0M516.5 54.4h0M524.4 58.0h0M528.4 71.1h0M517.1 64.7h0M525.1 87.3h0M526.6 82.5h0M532.5 50.0h0M534.4 67.2h0M552.8 60.0h0M525.7 71.5h0M519.1 69.7h0M525.0 75.9h0M545.6 77.4h0M517.9 73.6h0M524.8 61.0h0M533.3 71.0h0M526.3 67.1h0M528.3 78.0h0M535.7 78.7h0M533.1 73.3h0M552.6 62.0h0M520.1 75.1h0M542.6 70.0h0M535.7 71.0h0M535.9 62.3h0M516.9 63.2h0M540.3 75.0h0M517.0 67.9h0M534.9 68.2h0M533.4 68.0h0M534.7 57.2h0M526.6 78.6h0M526.1 73.6h0M534.7 74.2h0M524.8 77.6h0M525.3 58.1h0M525.8 79.7h0M518.8 74.8h0M518.5 68.0h0M534.5 76.4h0M557.9 67.8h0M525.8 66.1h0M542.6 45.7h0M534.4 57.6h0M532.4 47.9h0M543.4 51.7h0M528.6 83.0h0M542.5 63.9h0M543.6 56.4h0M533.9 62.3h0M527.8 61.2h0M535.4 70.5h0M525.1 74.0h0M541.7 75.5h0M526.7 76.5h0M517.5 78.2h0M516.0 62.8h0M574.6 63.4h0M517.7 64.1h0M517.5 58.6h0M516.8 73.8h0M542.0 73.2h0M542.1 59.1h0M535.3 64.3h0M551.8 52.1h0M526.1 70.5h0M544.3 69.5h0M526.6 70.1h0M535.1 63.8h0M516.9 69.8h0M526.6 58.5h0M541.0 55.7h0M550.2 65.2h0M543.6 61.6h0M534.2 64.5h0M543.4 58.9h0M534.9 61.5h0M534.2 69.2h0M516.9 71.2h0M516.6 54.4h0M526.3 66.3h0M527.5 61.0h0M533.2 55.9h0M524.7 58.8h0M534.5 62.6h0M526.4 71.1h0M541.5 58.2h0M525.8 59.0h0M519.0 62.7h0M534.7 69.2h0M517.5 64.4h0M544.0 63.6h0M518.8 59.5h0M517.6 81.5h0M524.9 65.6h0" fill="none" stroke="#50bb40" stroke-opacity="0.4" stroke-width="1.85" stroke-linecap="round"/>
<path d="M536.2 53.2h0M525.6 52.3h0M520.0 67.0h0M519.2 59.9h0M550.5 63.1h0M532.5 74.8h0M518.5 51.8h0M566.3 81.7h0M535.1 75.4h0M546.0 67.2h0M518.2 70.4h0M536.2 74.1h0M534.4 66.4h0M519.8 59.5h0M517.1 63.6h0M518.4 55.8h0M534.0 80.7h0M518.6 67.5h0M517.6 76.0h0M516.5 64.3h0M561.1 62.4h0M560.3 64.4h0M523.4 57.3h0M557.4 67.7h0M527.1 71.9h0M534.2 70.4h0M535.6 63.7h0M552.0 77.8h0M537.7 66.7h0M526.3 70.1h0M517.3 70.0h0M527.4 78.4h0M543.6 61.8h0M525.8 59.1h0M527.2 67.6h0M518.4 59.3h0M525.3 66.3h0M524.9 57.1h0M516.3 67.9h0M560.4 78.6h0M534.4 54.4h0M535.2 62.2h0M527.5 56.0h0M526.1 78.7h0M526.0 53.2h0M517.6 65.4h0M534.4 77.5h0M534.7 53.7h0M550.5 72.1h0M553.3 63.5h0M541.2 67.2h0M533.7 83.4h0M523.9 69.2h0M517.1 68.5h0M525.3 57.9h0M526.4 75.4h0M551.1 52.4h0M533.1 77.7h0M526.2 76.9h0M526.7 49.5h0M516.4 76.0h0M527.1 77.0h0M526.5 75.4h0M541.0 68.8h0M533.5 76.1h0M542.2 40.3h0M535.4 65.9h0M516.4 75.0h0M549.7 71.4h0M542.5 76.5h0M517.7 50.6h0M535.3 80.8h0M557.6 51.4h0M526.5 71.6h0M537.3 75.3h0M526.3 75.1h0M517.6 72.6h0M519.4 70.5h0M542.6 66.6h0M524.9 62.2h0M533.8 65.3h0M556.3 71.9h0M569.7 60.0h0M543.2 64.2h0M525.3 73.3h0M534.8 76.4h0M525.9 66.8h0M524.7 60.4h0M525.5 72.5h0M533.4 63.2h0M517.4 59.8h0M533.3 70.3h0M541.7 73.6h0M542.7 79.5h0M527.7 68.3h0M531.8 57.8h0M515.7 83.8h0M526.7 76.0h0M517.1 74.8h0M534.0 62.1h0M543.9 50.4h0M526.6 77.3h0M519.1 84.5h0M534.4 57.8h0M526.1 49.7h0M519.1 65.4h0M524.5 77.8h0M525.2 75.4h0M526.1 58.0h0M518.3 66.1h0M535.5 52.9h0M535.2 64.0h0M533.8 67.2h0M523.5 65.6h0M515.6 64.3h0M543.2 55.1h0M517.7 66.3h0M533.2 74.4h0M533.4 64.6h0M527.2 65.7h0M541.8 71.4h0M527.5 65.6h0M559.6 74.7h0M514.5 69.5h0M559.9 55.7h0M527.3 77.6h0M541.9 71.6h0M516.3 71.6h0M525.9 50.5h0M526.3 67.2h0M540.2 63.2h0M549.5 55.7h0M534.2 59.0h0M517.8 75.6h0M524.7 76.4h0M543.7 74.0h0M552.3 44.3h0M551.1 82.1h0M533.9 57.9h0M527.8 59.1h0M517.1 52.7h0M517.3 64.6h0M526.4 71.4h0M533.9 67.7h0M525.8 56.3h0M540.9 64.7h0M514.5 64.4h0M542.7 62.8h0M528.8 65.6h0M535.4 76.7h0M536.2 66.0h0M552.8 71.3h0M550.4 46.9h0M543.8 64.0h0M515.5 62.3h0M533.7 74.7h0M570.5 59.3h0M533.6 53.2h0M540.3 69.2h0M526.1 64.8h0M520.8 75.3h0M516.8 77.3h0M525.9 65.4h0M542.2 74.7h0M535.1 74.1h0M523.5 60.9h0M559.4 76.0h0M541.8 43.3h0M527.8 70.6h0M535.7 72.1h0M534.0 64.0h0M526.8 77.4h0M526.8 70.4h0M517.6 66.5h0M517.0 75.8h0M517.5 52.7h0M532.9 71.0h0M532.6 60.3h0M536.5 68.2h0M540.3 63.6h0M526.0 79.0h0M544.0 78.1h0M542.0 69.4h0M525.0 62.0h0M536.0 54.9h0M537.7 60.7h0M533.5 70.1h0" fill="none" stroke="#50bb40" stroke-opacity="0.4" stroke-width="1.85" stroke-linecap="round"/>
<path d="M514.6 66.8 L553.1500000000001 66.35000000000001 L591.7 64.60000000000001 L591.7 68.2 L553.1500000000001 67.55 L514.6 68.2Z" fill="#8a8a8a" fill-opacity="0.42"/>
<path d="M514.6 67.5 L591.7 66.4" stroke="#5e5e5e" stroke-width="0.95"/>
<text x="552.50" y="122.60" font-size="9.66" font-weight="normal" text-anchor="middle" fill="#000" >SDQ Peer Problem</text>
<text x="577.20" y="33.00" font-size="9.5" font-weight="normal" text-anchor="start" fill="#000" ><tspan font-style="italic">r</tspan> = 0.03</text>
<text x="577.20" y="44.80" font-size="9.5" font-weight="normal" text-anchor="start" fill="#000" ><tspan font-style="italic">p</tspan> = 0.36</text>
<rect x="354.5" y="145.7" width="90.30" height="81.10" fill="#ebebeb"/>
<path d="M359.10 145.7V226.8M366.66 145.7V226.8M374.23 145.7V226.8M381.79 145.7V226.8M389.35 145.7V226.8M396.92 145.7V226.8M404.48 145.7V226.8M412.05 145.7V226.8M419.61 145.7V226.8M427.17 145.7V226.8M434.74 145.7V226.8M442.30 145.7V226.8M354.5 151.90H444.8M354.5 159.79H444.8M354.5 167.68H444.8M354.5 175.57H444.8M354.5 183.46H444.8M354.5 191.34H444.8M354.5 199.23H444.8M354.5 207.12H444.8M354.5 215.01H444.8M354.5 222.90H444.8" stroke="#fff" stroke-width="0.55" fill="none" opacity="0.6"/>
<text x="359.10" y="231.40" font-size="4.25" font-weight="normal" text-anchor="middle" fill="#111" >-4</text>
<text x="366.66" y="231.40" font-size="4.25" font-weight="normal" text-anchor="middle" fill="#111" >-3</text>
<text x="374.23" y="231.40" font-size="4.25" font-weight="normal" text-anchor="middle" fill="#111" >-2</text>
<text x="381.79" y="231.40" font-size="4.25" font-weight="normal" text-anchor="middle" fill="#111" >-1</text>
<text x="389.35" y="231.40" font-size="4.25" font-weight="normal" text-anchor="middle" fill="#111" >0</text>
<text x="396.92" y="231.40" font-size="4.25" font-weight="normal" text-anchor="middle" fill="#111" >1</text>
<text x="404.48" y="231.40" font-size="4.25" font-weight="normal" text-anchor="middle" fill="#111" >2</text>
<text x="412.05" y="231.40" font-size="4.25" font-weight="normal" text-anchor="middle" fill="#111" >3</text>
<text x="419.61" y="231.40" font-size="4.25" font-weight="normal" text-anchor="middle" fill="#111" >4</text>
<text x="427.17" y="231.40" font-size="4.25" font-weight="normal" text-anchor="middle" fill="#111" >5</text>
<text x="434.74" y="231.40" font-size="4.25" font-weight="normal" text-anchor="middle" fill="#111" >6</text>
<text x="442.30" y="231.40" font-size="4.25" font-weight="normal" text-anchor="middle" fill="#111" >7</text>
<text x="352.40" y="153.30" font-size="4.25" font-weight="normal" text-anchor="end" fill="#111" >1.2</text>
<text x="352.40" y="161.19" font-size="4.25" font-weight="normal" text-anchor="end" fill="#111" >1</text>
<text x="352.40" y="169.08" font-size="4.25" font-weight="normal" text-anchor="end" fill="#111" >0.8</text>
<text x="352.40" y="176.97" font-size="4.25" font-weight="normal" text-anchor="end" fill="#111" >0.6</text>
<text x="352.40" y="184.86" font-size="4.25" font-weight="normal" text-anchor="end" fill="#111" >0.4</text>
<text x="352.40" y="192.74" font-size="4.25" font-weight="normal" text-anchor="end" fill="#111" >0.2</text>
<text x="352.40" y="200.63" font-size="4.25" font-weight="normal" text-anchor="end" fill="#111" >0</text>
<text x="352.40" y="208.52" font-size="4.25" font-weight="normal" text-anchor="end" fill="#111" >-0.2</text>
<text x="352.40" y="216.41" font-size="4.25" font-weight="normal" text-anchor="end" fill="#111" >-0.4</text>
<text x="352.40" y="224.30" font-size="4.25" font-weight="normal" text-anchor="end" fill="#111" >-0.6</text>
<path d="M397.9 198.4h0M393.5 202.9h0M367.5 200.8h0M393.8 200.9h0M400.1 203.8h0M393.2 187.3h0M400.4 194.1h0M374.2 214.8h0M394.7 192.5h0M391.8 190.8h0M385.6 200.0h0M385.3 208.5h0M394.4 206.4h0M406.8 204.8h0M386.5 192.5h0M390.4 196.4h0M385.6 191.7h0M380.9 193.8h0M372.6 201.7h0M379.6 201.3h0M391.8 204.1h0M387.1 198.4h0M429.5 200.3h0M433.1 192.5h0M394.0 198.6h0M390.8 208.6h0M399.2 196.1h0M372.2 195.7h0M392.0 196.8h0M401.9 198.2h0M395.1 200.9h0M375.1 216.2h0M428.5 196.5h0M388.1 199.7h0M421.1 193.2h0M433.6 184.4h0M385.2 199.5h0M381.7 209.2h0M429.6 187.6h0M365.3 197.4h0M399.4 208.1h0M383.6 203.3h0M392.2 199.9h0M362.7 184.4h0M394.5 188.6h0M439.2 199.8h0M382.4 188.2h0M392.8 208.7h0M428.8 199.5h0M392.9 222.7h0M371.1 199.2h0M381.8 194.3h0M368.7 208.3h0M399.4 205.0h0M363.5 214.5h0M396.7 194.7h0M391.3 203.7h0M399.6 199.4h0M358.6 192.8h0M374.0 210.1h0M373.3 198.6h0M393.5 204.1h0M385.1 196.0h0M386.3 197.2h0M364.8 184.0h0M397.4 184.7h0M368.7 195.2h0M382.7 200.7h0M390.3 203.7h0M368.8 178.4h0M361.6 202.1h0M408.8 199.4h0M386.4 193.4h0M380.1 196.5h0M393.3 200.0h0M415.7 189.7h0M386.0 198.5h0M382.7 195.5h0M384.4 187.7h0M364.3 206.5h0M372.3 222.6h0M384.3 197.1h0M397.0 200.1h0M391.3 174.3h0M369.6 196.5h0M382.6 201.2h0M404.4 205.8h0M377.5 195.9h0M382.5 188.2h0M406.7 202.6h0M385.6 193.4h0M375.9 192.4h0M399.4 198.7h0M382.5 196.0h0M397.5 195.8h0M377.1 201.9h0M433.3 191.3h0M401.8 191.8h0M378.6 203.0h0M428.9 191.1h0M383.2 200.9h0M399.0 199.6h0M373.1 199.5h0M405.4 197.6h0M418.2 187.5h0M357.5 203.1h0M381.6 196.3h0M398.3 191.1h0M377.5 205.0h0M362.3 201.1h0M401.5 199.3h0M371.8 192.9h0M379.2 196.5h0M389.3 189.4h0M404.2 199.2h0M409.7 207.5h0M387.7 195.6h0M413.5 195.7h0M391.7 200.7h0M386.1 192.3h0M400.5 204.6h0M394.6 203.0h0M369.7 188.1h0M398.5 203.1h0M399.9 220.0h0M362.0 198.2h0M387.7 206.6h0M389.5 187.6h0M383.6 197.7h0M394.7 199.2h0M391.3 209.2h0M373.5 205.3h0M374.0 200.0h0M356.9 199.0h0M388.5 207.6h0M402.4 204.5h0M388.3 200.7h0M377.1 208.1h0M368.2 199.3h0M393.4 211.6h0M385.4 199.5h0M361.5 208.0h0M398.5 187.0h0M385.1 193.7h0M365.8 198.9h0M389.7 206.7h0M401.1 186.8h0M401.4 188.3h0M396.8 194.6h0M382.4 201.6h0M397.3 213.8h0M386.8 211.3h0M388.9 202.8h0M370.9 189.0h0M381.6 205.7h0M378.5 193.3h0M375.0 203.7h0M388.9 189.2h0M364.2 185.3h0M375.3 209.7h0M394.4 203.8h0M384.9 213.7h0M381.9 193.8h0M367.6 200.7h0M372.3 185.6h0M389.5 194.2h0M402.3 199.4h0M391.4 197.9h0M396.4 200.0h0M377.1 217.3h0M396.6 201.2h0M384.2 197.7h0M383.2 199.9h0M384.6 189.3h0M365.4 206.3h0M410.7 200.0h0M406.7 195.9h0M371.2 201.9h0M386.6 200.9h0M369.1 204.1h0M382.4 211.8h0M378.6 200.2h0M378.9 207.3h0M419.3 185.5h0M388.8 210.1h0M367.9 207.1h0M402.1 199.0h0M424.6 209.7h0M365.9 207.6h0M369.5 202.1h0M364.4 202.6h0M379.6 213.9h0M380.2 200.2h0M389.1 210.3h0M378.5 196.9h0M405.8 190.6h0M388.5 206.3h0M365.9 203.3h0M390.7 197.1h0M378.6 200.2h0" fill="none" stroke="#3b7dba" stroke-opacity="0.4" stroke-width="1.85" stroke-linecap="round"/>
<path d="M361.5 200.9h0M397.0 192.2h0M405.8 185.0h0M372.6 200.5h0M372.4 201.4h0M382.0 208.9h0M387.8 198.4h0M396.5 197.0h0M367.8 205.5h0M407.2 193.4h0M403.6 193.4h0M377.8 209.3h0M384.7 209.0h0M360.7 203.8h0M396.6 202.6h0M372.0 202.7h0M382.6 199.0h0M400.7 200.1h0M383.9 197.7h0M395.1 198.9h0M387.9 191.0h0M368.9 195.4h0M372.8 193.8h0M390.6 206.8h0M365.6 197.3h0M393.5 187.3h0M382.3 211.5h0M389.2 205.0h0M408.6 183.5h0M372.7 196.2h0M369.7 199.3h0M409.5 191.2h0M380.8 208.8h0M374.1 203.2h0M372.9 202.2h0M391.7 198.5h0M385.4 195.7h0M357.7 197.7h0M386.4 196.5h0M381.0 202.3h0M379.5 202.6h0M383.0 204.9h0M357.2 195.9h0M413.7 186.3h0M378.6 187.2h0M395.5 185.3h0M378.8 212.9h0M388.2 212.6h0M370.7 191.0h0M357.1 196.6h0M371.6 192.0h0M412.6 187.3h0M393.8 184.2h0M374.5 217.2h0M388.3 199.0h0M403.5 187.0h0M388.6 200.0h0M358.3 190.2h0M375.0 198.4h0M391.0 212.0h0M409.5 203.2h0M375.8 189.6h0M379.9 193.8h0M381.9 220.8h0M375.7 202.8h0M367.9 190.3h0M370.0 196.4h0M400.6 205.4h0M364.3 206.4h0M390.2 200.0h0M393.0 194.3h0M381.9 197.1h0M394.1 199.9h0M384.3 203.5h0M390.1 190.5h0M360.7 190.7h0M386.4 211.0h0M371.9 202.7h0M362.0 202.9h0M400.3 203.0h0M406.8 197.7h0M412.7 201.8h0M388.8 197.9h0M406.9 202.7h0M380.8 213.6h0M390.0 192.4h0M386.9 189.1h0M415.5 212.2h0M382.9 193.0h0M400.3 202.7h0M392.5 195.2h0M380.1 211.1h0M366.3 210.1h0M359.1 196.4h0M393.4 195.2h0M377.1 200.6h0M397.5 203.7h0M398.0 194.4h0M368.6 201.9h0M372.7 204.6h0M376.1 199.2h0M392.6 205.4h0M394.3 208.1h0M386.8 207.0h0M414.8 200.3h0M392.6 212.1h0M374.9 188.5h0M382.1 201.9h0M390.5 208.1h0M384.2 196.3h0M388.1 201.3h0M374.0 208.1h0M361.5 197.9h0M372.2 198.5h0M389.3 197.0h0M379.1 191.2h0M380.8 202.0h0M410.4 200.9h0M395.8 193.0h0M392.1 199.7h0M392.5 191.3h0M357.2 201.0h0M376.9 198.2h0M416.5 196.4h0M375.0 201.1h0M406.8 193.4h0M366.7 187.4h0M387.4 194.0h0M384.6 194.8h0M397.3 206.3h0M412.2 209.3h0M424.9 209.8h0M393.9 195.8h0M367.8 202.0h0M374.1 201.1h0M398.5 194.9h0M372.6 201.1h0M384.7 206.4h0M394.4 198.2h0M386.0 192.8h0M395.8 209.1h0M390.8 209.7h0M390.7 191.8h0M379.2 217.4h0M362.7 210.6h0M379.2 191.2h0M372.4 206.9h0M369.6 194.1h0M387.4 198.2h0M439.7 214.0h0M415.4 198.6h0M386.4 199.1h0M397.8 202.4h0M401.0 204.7h0M407.3 191.7h0M363.2 199.9h0M377.4 195.9h0M380.3 195.9h0M372.6 192.0h0M369.3 192.0h0M383.8 203.8h0M394.5 194.9h0M360.1 192.5h0M384.1 192.7h0M369.4 190.6h0M403.2 202.6h0M368.6 206.1h0M375.7 212.8h0M371.4 208.5h0M371.2 203.6h0M437.0 216.1h0M433.8 198.0h0M380.7 200.4h0M377.0 197.3h0M376.9 197.4h0M403.6 194.9h0M369.2 193.2h0M440.4 187.4h0M394.2 209.3h0M360.8 214.0h0M382.9 212.1h0M394.8 206.0h0M372.6 197.5h0M380.7 196.1h0M397.6 196.7h0M390.0 199.6h0M405.1 189.5h0M433.6 187.4h0M390.3 203.8h0M417.4 208.5h0M395.5 192.0h0M417.5 204.5h0M393.1 194.2h0M365.0 210.8h0M393.3 188.1h0M387.5 207.1h0M387.3 201.4h0M375.2 204.8h0M382.0 201.3h0M386.1 195.5h0" fill="none" stroke="#3b7dba" stroke-opacity="0.4" stroke-width="1.85" stroke-linecap="round"/>
<path d="M405.6 197.3h0M390.4 188.3h0M398.6 199.5h0M397.8 198.8h0M364.8 196.3h0M384.0 190.3h0M360.2 194.7h0M393.3 197.3h0M368.7 198.4h0M434.5 201.1h0M372.5 201.0h0M367.8 191.7h0M394.8 191.3h0M387.5 201.6h0M378.8 185.4h0M403.1 197.8h0M397.6 194.0h0M358.1 204.5h0M391.3 182.7h0M381.4 210.3h0M395.9 198.9h0M384.7 194.5h0M399.2 193.4h0M367.1 197.2h0M403.6 192.6h0M367.6 205.2h0M383.4 188.9h0M397.4 199.4h0M362.5 203.1h0M390.9 203.5h0M395.4 194.1h0M410.3 197.1h0M373.3 204.6h0M365.1 193.2h0M366.3 208.2h0M376.6 187.5h0M396.7 200.3h0M395.1 215.0h0M376.4 199.9h0M374.2 199.4h0M366.3 194.3h0M388.5 192.4h0M365.7 209.1h0M395.7 202.1h0M377.1 202.2h0M393.1 197.4h0M389.1 187.5h0M366.2 195.9h0M387.5 196.5h0M380.5 197.3h0M388.1 211.3h0M412.9 192.6h0M382.3 192.7h0M376.2 195.0h0M379.6 196.4h0M373.9 196.1h0M364.4 180.2h0M389.1 195.4h0M421.3 201.0h0M380.0 206.8h0M380.2 189.3h0M385.3 197.6h0M383.9 206.1h0M375.8 211.9h0M406.6 191.2h0M373.7 194.4h0M379.5 192.1h0M387.5 186.5h0M370.8 183.8h0M440.8 196.0h0M384.1 193.0h0M390.8 197.0h0M401.0 205.8h0M403.9 187.8h0M378.4 202.0h0M402.3 194.5h0M434.0 199.1h0M400.1 200.6h0M383.7 207.7h0M391.5 195.6h0M393.5 200.8h0M381.9 194.4h0M387.5 195.3h0M398.3 210.3h0M386.2 191.1h0M410.8 206.0h0M392.0 206.0h0M375.5 197.9h0M370.6 200.2h0M381.7 199.1h0M406.2 199.2h0M395.4 191.3h0M375.6 207.5h0M382.6 191.5h0M412.1 195.2h0M399.0 202.1h0M376.9 198.4h0M386.5 190.4h0M381.1 205.4h0M391.3 196.3h0M365.0 203.9h0M367.1 189.4h0M391.0 191.9h0M381.9 200.2h0M392.1 208.7h0M421.2 204.6h0M431.6 196.3h0M414.8 192.9h0M379.1 212.0h0M376.6 203.2h0M373.0 205.1h0M380.8 204.9h0M364.7 210.7h0M398.7 195.1h0M398.7 201.3h0M384.7 207.6h0M394.9 200.8h0M373.2 204.4h0M382.7 201.7h0M369.2 206.7h0M431.5 190.8h0M374.9 204.0h0M396.4 178.4h0M386.0 191.9h0M372.2 201.6h0M377.3 194.5h0M408.9 194.8h0M381.6 193.4h0M393.7 183.9h0M393.5 196.2h0M432.1 188.0h0M393.6 199.0h0M382.0 197.6h0M390.2 197.1h0M397.4 189.3h0M363.8 199.2h0M381.1 197.4h0M373.9 195.5h0M391.6 206.6h0M376.5 189.2h0M393.0 202.1h0M376.9 193.9h0M382.6 199.1h0M407.7 204.9h0M397.7 196.3h0M395.6 193.5h0M380.5 196.5h0M372.8 193.3h0M384.1 201.6h0M385.3 207.4h0M392.1 196.5h0M377.8 204.8h0M364.2 207.4h0M417.5 197.0h0M431.4 195.7h0M378.4 198.8h0M389.0 203.5h0M385.6 201.7h0M396.0 198.9h0M380.1 197.5h0M398.6 198.1h0M379.6 203.1h0M403.0 205.9h0M393.5 187.0h0M365.8 184.1h0M383.3 194.7h0M424.5 177.6h0M403.7 195.5h0M387.4 210.0h0M361.3 199.7h0M386.2 204.0h0M371.9 200.7h0M362.0 200.3h0M399.6 168.5h0M398.1 206.2h0M397.3 210.4h0M401.0 203.9h0M386.8 192.0h0M364.7 201.0h0M382.7 206.0h0M402.0 205.9h0M410.8 195.2h0M367.3 194.9h0M394.5 195.7h0M387.3 198.4h0M390.9 197.3h0M386.5 205.5h0M380.8 200.4h0M399.0 199.0h0M376.0 189.3h0M362.1 202.1h0M369.7 206.0h0M395.8 202.3h0M398.1 195.8h0M373.6 191.2h0M377.9 195.3h0M397.6 203.9h0M383.4 209.5h0M381.4 193.9h0M410.7 192.8h0" fill="none" stroke="#3b7dba" stroke-opacity="0.4" stroke-width="1.85" stroke-linecap="round"/>
<path d="M438.6 198.7h0M386.3 197.7h0M369.1 199.7h0M370.8 192.0h0M421.4 205.8h0M404.3 193.8h0M398.9 200.7h0M406.6 207.8h0M402.6 197.9h0M357.4 196.1h0M389.8 199.9h0M375.1 203.8h0M401.9 200.8h0M389.4 204.5h0M389.4 215.8h0M380.2 200.2h0M374.1 191.4h0M377.8 196.1h0M372.7 211.2h0M372.1 205.7h0M387.3 207.4h0M389.4 183.4h0M377.5 193.8h0M375.8 194.3h0M386.6 212.6h0M391.3 211.6h0M369.9 200.8h0M380.4 207.4h0M380.4 207.7h0M399.1 190.3h0M373.3 201.8h0M373.4 201.3h0M399.7 182.7h0M395.9 192.2h0M386.9 201.2h0M377.6 206.6h0M410.9 191.4h0M384.6 206.8h0M397.9 194.6h0M394.6 205.3h0M411.6 192.6h0M398.1 196.8h0M406.1 207.9h0M402.2 202.4h0M378.3 200.6h0M385.2 196.9h0M387.0 208.5h0M378.4 190.9h0M393.2 197.8h0M392.9 211.0h0M391.1 191.7h0M386.5 194.0h0M385.8 202.9h0M395.1 203.9h0M375.9 199.1h0M385.8 200.6h0M384.0 192.0h0M387.8 191.5h0M430.1 210.5h0M399.3 198.3h0M359.0 196.9h0M384.4 208.6h0M388.5 199.1h0M372.5 201.6h0M367.6 211.7h0M366.2 196.3h0M395.5 192.8h0M387.4 200.3h0M410.8 200.6h0M371.5 206.8h0M420.7 193.2h0M401.2 194.9h0M372.0 201.5h0M382.0 190.5h0M365.7 200.0h0M382.2 191.5h0M403.8 198.8h0M358.2 205.4h0M391.7 202.6h0M402.9 205.7h0M396.5 186.0h0M384.1 200.2h0M365.1 193.7h0M416.0 198.9h0M404.8 210.4h0M379.3 187.0h0M393.5 200.2h0M377.8 195.7h0M360.3 201.3h0M377.1 196.3h0M381.1 199.8h0M392.1 194.7h0M402.4 191.6h0M366.4 200.8h0M388.4 188.6h0M381.1 205.7h0M393.3 191.7h0M411.5 192.0h0M377.3 207.0h0M366.7 202.0h0M375.4 196.4h0M378.9 199.5h0M387.4 198.4h0M374.1 215.1h0M377.9 205.5h0M374.7 196.3h0M376.9 206.0h0M384.4 195.3h0M420.1 204.9h0M363.7 187.9h0M371.6 195.3h0M377.7 182.0h0M363.8 197.9h0M377.6 210.6h0M368.8 196.1h0M390.2 202.6h0M385.5 201.7h0M412.9 197.3h0M379.1 192.8h0M359.7 196.8h0M378.0 208.9h0M377.2 196.3h0M390.9 209.0h0M405.6 198.2h0M380.0 194.9h0M375.7 202.8h0M400.0 208.4h0M376.6 200.1h0M385.0 193.7h0M386.2 188.0h0M404.8 196.4h0M378.6 203.4h0M387.9 200.4h0M383.3 204.7h0M372.5 202.5h0M394.7 187.7h0M391.0 196.8h0M401.8 190.3h0M373.1 213.7h0M374.3 188.0h0M359.1 190.7h0M373.0 213.1h0M361.5 174.4h0M382.7 190.0h0M376.3 200.8h0M394.9 183.5h0M389.2 213.0h0M391.9 195.6h0M385.3 193.2h0M383.2 202.5h0M389.9 203.1h0M379.6 204.4h0M400.7 193.6h0M410.7 211.6h0M406.0 201.5h0M404.8 201.9h0M400.8 196.4h0M390.5 205.3h0M411.4 198.6h0M370.5 203.9h0M363.0 189.2h0M391.4 204.8h0M382.6 218.4h0M388.7 209.8h0M390.9 207.2h0M370.2 206.7h0M376.3 194.8h0M389.9 192.8h0M400.8 208.5h0M399.1 191.2h0M433.6 217.6h0M368.2 196.4h0M384.5 205.7h0M410.3 195.6h0M381.1 191.3h0M377.3 195.2h0M389.9 210.4h0M387.5 208.4h0M371.6 202.4h0M389.6 198.3h0M400.9 212.4h0M360.1 205.6h0M385.8 199.1h0M392.6 215.4h0M380.5 211.7h0M407.5 194.2h0M381.4 212.7h0M386.7 205.6h0M371.0 200.3h0M372.8 213.6h0M440.1 193.9h0M387.2 192.2h0M383.1 203.7h0M382.6 207.9h0M383.7 206.3h0M368.5 192.9h0M386.1 188.5h0M367.6 201.4h0M389.9 208.9h0M373.6 204.0h0" fill="none" stroke="#3b7dba" stroke-opacity="0.4" stroke-width="1.85" stroke-linecap="round"/>
<path d="M389.7 202.5h0M379.5 208.4h0M393.1 200.0h0M370.7 198.4h0M367.4 200.7h0M378.7 201.0h0M376.5 190.5h0M395.7 198.6h0M374.2 207.1h0M389.5 188.3h0M394.0 204.6h0M386.7 195.2h0M371.8 195.7h0M387.4 200.7h0M403.2 189.6h0M373.6 201.2h0M371.3 202.6h0M382.4 197.6h0M379.4 197.2h0M365.0 205.8h0M361.3 216.7h0M388.4 190.2h0M414.7 198.6h0M385.6 185.0h0M387.3 199.8h0M368.9 200.4h0M372.0 191.4h0M392.6 192.5h0M395.4 193.6h0M409.5 206.5h0M375.8 196.5h0M382.8 200.5h0M383.4 196.6h0M392.2 201.1h0M371.5 204.1h0M381.1 204.8h0M404.1 187.3h0M401.2 188.3h0M368.8 186.4h0M364.4 203.6h0M367.5 206.9h0M390.9 178.1h0M371.2 206.8h0M405.3 194.2h0M378.5 189.8h0M386.7 207.0h0M371.6 192.4h0M404.8 206.8h0M366.4 199.7h0M374.6 197.6h0M366.2 210.6h0M379.3 190.7h0M384.5 193.4h0M385.8 195.3h0M426.6 212.3h0M391.5 198.9h0M370.6 210.8h0M360.6 196.6h0M386.3 202.7h0M399.4 199.0h0M388.7 191.1h0M393.1 205.5h0M393.2 205.0h0M390.6 192.5h0M373.6 200.0h0M383.2 198.8h0M391.5 198.8h0M358.5 204.0h0M365.3 197.9h0M365.5 204.8h0M380.0 192.0h0M397.5 196.1h0M369.1 210.8h0M371.8 207.8h0M358.3 196.2h0M393.5 192.0h0M387.9 211.6h0M396.4 190.9h0M377.3 192.2h0M370.9 210.0h0M412.8 183.1h0M395.4 189.8h0M378.1 193.8h0M401.7 195.7h0M370.5 199.4h0M373.4 202.5h0M377.0 200.2h0M386.2 195.9h0M375.2 198.8h0M364.7 199.2h0M404.0 199.8h0M363.8 187.4h0M397.6 193.5h0M379.2 208.2h0M358.2 189.3h0M402.7 213.9h0M371.0 196.3h0M389.3 191.5h0M386.5 197.8h0M377.3 207.2h0M374.6 209.4h0M392.7 199.9h0M410.1 201.8h0M378.0 202.8h0M379.2 200.6h0M391.5 184.3h0M375.9 201.8h0M361.6 200.5h0M393.3 209.1h0M385.4 197.2h0M378.8 201.3h0M379.8 207.0h0M389.9 189.0h0M402.6 205.1h0M392.1 203.0h0M377.6 185.8h0M385.4 203.1h0M392.5 182.4h0M410.7 217.8h0M364.2 201.3h0M384.3 190.7h0M412.5 195.7h0M375.1 202.2h0M409.2 204.5h0M391.6 204.0h0M392.9 181.0h0M373.4 200.9h0M384.1 192.0h0M373.2 217.1h0M379.5 208.1h0M375.8 201.7h0M386.1 204.2h0M395.5 195.1h0M372.6 195.6h0M375.5 215.8h0M366.8 192.7h0M383.7 193.5h0M389.4 186.4h0M388.5 183.7h0M411.3 199.6h0M401.3 200.9h0M385.4 194.0h0M388.2 202.0h0M385.2 208.7h0M396.6 206.9h0M419.6 206.3h0M408.3 190.3h0M388.4 196.0h0M385.4 193.0h0M376.6 196.6h0M364.5 200.5h0M380.3 200.2h0M377.9 194.1h0M363.0 201.1h0M367.8 210.7h0M420.3 197.3h0M367.6 208.6h0M371.4 202.5h0M386.9 202.3h0M371.8 202.7h0M393.7 205.5h0M402.5 195.3h0M373.3 190.1h0M412.2 198.1h0M384.7 194.4h0M400.6 200.3h0M370.2 203.6h0M396.3 201.1h0M381.1 183.2h0M412.7 196.4h0M391.2 207.4h0M386.6 201.5h0M385.8 190.4h0M375.9 194.5h0M384.0 187.6h0M376.5 200.9h0M379.2 198.4h0M401.0 200.6h0M365.2 210.0h0M373.4 201.9h0M389.3 209.8h0M408.0 206.7h0M371.1 192.3h0M388.4 196.7h0M394.0 208.2h0M380.9 206.2h0M390.9 189.0h0M407.6 199.3h0M368.0 190.9h0M400.0 194.5h0M391.1 189.8h0M381.5 202.8h0M385.5 201.5h0M372.9 197.3h0M376.1 200.2h0M381.8 188.6h0M378.2 202.9h0M381.0 198.7h0M376.8 190.9h0M370.0 202.5h0" fill="none" stroke="#3b7dba" stroke-opacity="0.4" stroke-width="1.85" stroke-linecap="round"/>
<path d="M376.5 210.3h0M368.2 211.2h0M385.6 188.1h0M409.4 194.0h0M379.2 186.0h0M371.9 186.7h0M373.3 205.2h0M385.8 204.0h0M389.4 201.5h0M367.4 212.2h0M398.6 204.1h0M381.4 198.6h0M376.7 208.4h0M377.7 215.2h0M376.9 183.4h0M396.3 214.1h0M374.2 209.6h0M401.4 190.8h0M388.5 201.3h0M373.3 208.2h0M381.8 199.8h0M387.0 190.2h0M396.1 203.0h0M385.0 204.0h0M406.1 209.9h0M405.7 202.6h0M395.3 204.2h0M374.5 199.3h0M361.2 202.2h0M385.8 202.6h0M372.4 193.2h0M395.0 196.4h0M397.7 196.3h0M399.3 203.7h0M379.5 184.0h0M375.6 195.9h0M390.1 191.7h0M379.4 203.4h0M374.5 200.8h0M417.2 203.5h0M417.0 199.5h0M405.2 209.6h0M382.3 202.0h0M399.7 205.4h0M389.5 222.0h0M392.5 199.9h0M386.9 191.9h0M385.0 197.0h0M360.4 194.3h0M413.2 198.8h0M384.9 200.6h0M395.0 192.7h0M359.4 192.9h0M371.0 193.5h0M371.9 196.8h0M432.2 192.6h0M388.9 196.2h0M376.4 207.1h0M391.3 210.1h0M381.7 209.9h0M373.6 196.4h0M371.8 213.3h0M395.0 194.3h0M365.4 198.7h0M398.3 197.6h0M389.9 209.5h0M381.7 197.4h0M387.2 199.2h0M405.7 208.9h0M381.6 197.9h0M400.3 206.1h0M396.3 202.6h0M371.4 193.2h0M374.5 207.7h0M385.0 202.3h0M391.3 183.2h0M386.7 197.1h0M374.1 201.6h0M370.7 210.8h0M380.6 203.4h0M429.8 216.8h0M397.6 186.1h0M395.3 191.8h0M409.7 206.4h0M359.2 203.6h0M383.3 196.9h0M427.0 194.4h0M412.2 207.5h0M358.9 196.9h0M399.4 197.5h0M377.8 184.3h0M413.6 203.9h0M358.9 204.7h0M387.2 186.6h0M369.4 193.2h0M374.6 207.0h0M388.9 206.3h0M371.0 196.1h0M404.4 196.3h0M385.6 197.7h0M359.3 212.1h0M375.7 198.7h0M408.4 208.3h0M383.7 206.9h0M398.1 194.2h0M372.5 202.4h0M374.5 202.3h0M362.2 203.7h0M395.6 203.9h0M399.5 195.1h0M383.7 195.6h0M374.7 188.3h0M387.6 200.9h0M398.7 201.8h0M377.5 197.6h0M371.5 201.6h0M393.4 195.2h0M374.1 199.7h0M394.5 191.8h0M408.6 194.7h0M381.9 196.1h0M387.6 188.9h0M388.0 187.2h0M361.9 203.7h0M390.4 197.1h0M390.4 193.2h0M397.4 208.4h0M379.9 200.9h0M398.5 201.1h0M370.3 194.4h0M390.1 202.9h0M382.3 206.7h0M377.8 198.7h0M411.8 211.4h0M402.7 206.2h0M405.2 193.3h0M381.7 205.9h0M386.3 201.3h0M385.7 194.4h0M376.1 199.9h0M390.2 204.2h0M368.7 200.4h0M399.3 194.7h0M396.3 194.5h0M397.8 193.1h0M370.2 202.2h0M373.5 192.2h0M408.0 191.1h0M404.8 204.2h0M377.2 200.6h0M405.3 196.0h0M387.1 201.5h0M389.0 195.2h0M374.5 198.2h0M382.2 195.0h0M373.0 188.9h0M362.0 201.3h0M402.6 194.8h0M382.0 192.6h0M385.0 190.1h0M400.0 216.0h0M383.3 200.2h0M385.0 205.9h0M400.6 209.8h0M406.8 189.1h0M370.3 199.2h0M411.4 199.5h0M384.5 206.1h0M374.4 187.5h0M402.6 206.5h0M389.2 210.9h0M382.4 196.6h0M393.6 198.5h0M362.8 198.4h0M409.7 193.4h0M392.6 194.5h0M376.8 205.3h0M430.6 188.4h0M359.9 197.8h0M381.7 191.8h0M377.9 189.3h0M403.9 199.5h0M402.1 197.9h0M396.4 197.1h0M387.1 191.6h0M394.6 213.5h0M402.0 191.4h0M388.4 196.5h0M374.6 199.8h0M395.3 191.4h0M411.6 203.1h0M384.9 205.1h0M395.3 200.2h0M385.0 207.2h0M376.5 199.0h0M402.2 206.8h0M380.8 215.6h0M376.7 193.2h0M411.5 201.4h0M398.5 194.2h0" fill="none" stroke="#3b7dba" stroke-opacity="0.4" stroke-width="1.85" stroke-linecap="round"/>
<path d="M368.4 197.2h0M404.1 194.4h0M372.7 199.0h0M374.9 203.0h0M377.4 210.9h0M388.8 202.4h0M374.1 202.1h0M415.5 193.4h0M370.3 200.6h0M396.0 190.2h0M377.4 196.4h0M417.5 203.0h0M382.9 193.5h0M392.8 202.3h0M405.6 205.6h0M369.0 202.2h0M403.3 194.4h0M360.2 195.2h0M361.6 204.3h0M384.7 200.9h0M390.9 201.5h0M382.9 205.9h0M380.4 193.1h0M386.9 204.1h0M381.8 206.0h0M407.3 194.9h0M372.9 199.0h0M370.6 210.8h0M376.0 206.4h0M429.7 199.6h0M386.0 187.5h0M362.3 207.5h0M370.6 202.1h0M389.1 210.5h0M366.9 192.0h0M392.4 196.1h0M400.9 199.8h0M396.5 198.9h0M389.7 201.7h0M390.4 194.9h0M375.8 196.7h0M367.6 203.7h0M388.3 203.1h0M380.3 203.5h0M404.5 206.1h0M366.5 185.8h0M365.7 206.5h0M386.6 199.3h0M390.2 207.8h0M359.4 194.5h0M376.5 210.3h0M377.5 196.7h0M359.8 195.7h0M397.3 191.8h0M398.0 192.2h0M404.0 198.3h0M408.5 195.7h0M386.5 189.4h0M364.3 192.4h0M406.0 204.1h0M392.4 196.4h0M390.4 216.6h0M394.0 201.9h0M379.9 197.5h0M364.9 204.8h0M387.3 194.4h0M398.8 193.0h0M376.8 198.2h0M374.5 190.1h0M364.5 192.8h0M391.7 200.9h0M399.2 199.8h0M372.3 198.9h0M403.7 204.2h0M400.3 201.4h0M438.4 186.4h0M389.1 188.3h0M384.5 191.8h0M389.7 200.2h0M372.3 193.8h0M370.1 190.8h0M389.0 195.4h0M402.6 200.8h0M375.5 205.0h0M396.0 194.9h0M438.4 193.7h0M399.8 195.9h0M379.2 190.5h0M380.2 200.4h0M370.9 191.7h0M368.2 208.1h0M391.7 192.6h0M410.7 199.5h0M399.0 196.0h0M387.6 198.0h0M440.2 200.6h0M375.7 197.6h0M369.8 199.4h0M370.4 197.6h0M412.7 200.1h0M356.9 201.7h0M372.2 201.4h0M388.1 212.5h0M379.8 195.7h0M406.9 210.0h0M384.2 196.6h0M395.6 190.8h0M363.4 208.5h0M394.0 193.2h0M389.0 177.9h0M409.0 196.4h0M394.6 192.3h0M401.2 198.3h0M384.3 203.5h0M396.9 196.2h0M385.2 181.7h0M385.5 198.4h0M392.7 202.8h0M376.9 221.7h0M386.3 203.9h0M397.2 201.2h0M439.2 192.3h0M395.6 200.4h0M375.4 194.8h0M385.4 195.1h0M363.5 210.1h0M390.5 196.3h0M381.4 198.8h0M369.7 198.5h0M380.3 195.4h0M380.0 195.0h0M378.8 206.1h0M363.1 214.2h0M357.0 205.2h0M369.1 197.9h0M373.4 211.0h0M373.6 185.8h0M390.4 196.1h0M367.9 203.0h0M390.1 186.6h0M395.0 205.5h0M390.6 194.8h0M424.2 192.9h0M410.6 196.2h0M370.2 198.3h0M387.6 206.7h0M420.3 195.7h0M400.6 202.7h0M387.0 192.3h0M378.2 190.8h0M385.6 186.8h0M380.2 200.8h0M380.8 204.4h0M392.3 206.9h0M397.3 201.9h0M394.6 197.8h0M383.2 211.4h0M369.3 204.9h0M364.8 198.7h0M375.2 192.0h0M358.3 196.3h0M402.7 194.1h0M375.5 208.8h0M397.9 214.2h0M369.1 206.0h0M367.7 200.7h0M371.8 200.7h0M377.1 192.1h0M371.7 202.7h0M413.5 196.2h0M358.7 193.6h0M400.5 206.7h0M395.6 195.4h0M393.2 207.5h0M371.9 195.0h0M419.3 188.1h0M383.3 194.4h0M376.1 189.1h0M391.1 194.8h0M376.0 198.9h0M399.2 188.5h0M377.0 198.4h0M390.8 185.4h0M382.9 191.5h0M385.7 207.0h0M376.7 176.9h0M388.2 197.5h0M417.4 201.2h0M389.7 197.2h0M384.4 204.6h0M380.3 191.5h0M374.1 186.9h0M401.1 199.4h0M357.1 196.7h0M384.6 211.4h0M360.9 210.5h0M403.8 203.5h0M363.0 199.4h0M411.6 212.0h0M405.5 204.6h0" fill="none" stroke="#3b7dba" stroke-opacity="0.4" stroke-width="1.85" stroke-linecap="round"/>
<path d="M357.5 199.3 L398.75 197.5 L440.0 194.39999999999998 L440.0 198.0 L398.75 198.7 L357.5 200.7Z" fill="#8a8a8a" fill-opacity="0.42"/>
<path d="M357.5 200.0 L440.0 196.2" stroke="#5e5e5e" stroke-width="0.95"/>
<text x="401.70" y="242.00" font-size="9.66" font-weight="normal" text-anchor="middle" fill="#000" >SDQ Emotional Symptom</text>
<text x="418.60" y="153.30" font-size="9.5" font-weight="normal" text-anchor="start" fill="#000" ><tspan font-style="italic">r</tspan> = 0.09</text>
<text x="418.60" y="164.90" font-size="9.5" font-weight="normal" text-anchor="start" fill="#000" ><tspan font-style="italic">p</tspan> = 0.001</text>
<rect x="507.8" y="146.5" width="90.40" height="81.80" fill="#ebebeb"/>
<path d="M512.00 146.5V228.3M519.59 146.5V228.3M527.18 146.5V228.3M534.77 146.5V228.3M542.36 146.5V228.3M549.95 146.5V228.3M557.55 146.5V228.3M565.14 146.5V228.3M572.73 146.5V228.3M580.32 146.5V228.3M587.91 146.5V228.3M595.50 146.5V228.3M507.8 151.30H598.2M507.8 157.22H598.2M507.8 163.15H598.2M507.8 169.07H598.2M507.8 174.99H598.2M507.8 180.92H598.2M507.8 186.84H598.2M507.8 192.76H598.2M507.8 198.68H598.2M507.8 204.61H598.2M507.8 210.53H598.2M507.8 216.45H598.2M507.8 222.38H598.2" stroke="#fff" stroke-width="0.55" fill="none" opacity="0.6"/>
<text x="512.00" y="232.90" font-size="4.25" font-weight="normal" text-anchor="middle" fill="#111" >-4</text>
<text x="519.59" y="232.90" font-size="4.25" font-weight="normal" text-anchor="middle" fill="#111" >-3</text>
<text x="527.18" y="232.90" font-size="4.25" font-weight="normal" text-anchor="middle" fill="#111" >-2</text>
<text x="534.77" y="232.90" font-size="4.25" font-weight="normal" text-anchor="middle" fill="#111" >-1</text>
<text x="542.36" y="232.90" font-size="4.25" font-weight="normal" text-anchor="middle" fill="#111" >0</text>
<text x="549.95" y="232.90" font-size="4.25" font-weight="normal" text-anchor="middle" fill="#111" >1</text>
<text x="557.55" y="232.90" font-size="4.25" font-weight="normal" text-anchor="middle" fill="#111" >2</text>
<text x="565.14" y="232.90" font-size="4.25" font-weight="normal" text-anchor="middle" fill="#111" >3</text>
<text x="572.73" y="232.90" font-size="4.25" font-weight="normal" text-anchor="middle" fill="#111" >4</text>
<text x="580.32" y="232.90" font-size="4.25" font-weight="normal" text-anchor="middle" fill="#111" >5</text>
<text x="587.91" y="232.90" font-size="4.25" font-weight="normal" text-anchor="middle" fill="#111" >6</text>
<text x="595.50" y="232.90" font-size="4.25" font-weight="normal" text-anchor="middle" fill="#111" >7</text>
<text x="505.20" y="152.70" font-size="4.25" font-weight="normal" text-anchor="end" fill="#111" >0.7</text>
<text x="505.20" y="158.62" font-size="4.25" font-weight="normal" text-anchor="end" fill="#111" >0.6</text>
<text x="505.20" y="164.55" font-size="4.25" font-weight="normal" text-anchor="end" fill="#111" >0.5</text>
<text x="505.20" y="170.47" font-size="4.25" font-weight="normal" text-anchor="end" fill="#111" >0.4</text>
<text x="505.20" y="176.39" font-size="4.25" font-weight="normal" text-anchor="end" fill="#111" >0.3</text>
<text x="505.20" y="182.32" font-size="4.25" font-weight="normal" text-anchor="end" fill="#111" >0.2</text>
<text x="505.20" y="188.24" font-size="4.25" font-weight="normal" text-anchor="end" fill="#111" >0.1</text>
<text x="505.20" y="194.16" font-size="4.25" font-weight="normal" text-anchor="end" fill="#111" >0</text>
<text x="505.20" y="200.08" font-size="4.25" font-weight="normal" text-anchor="end" fill="#111" >-0.1</text>
<text x="505.20" y="206.01" font-size="4.25" font-weight="normal" text-anchor="end" fill="#111" >-0.2</text>
<text x="505.20" y="211.93" font-size="4.25" font-weight="normal" text-anchor="end" fill="#111" >-0.3</text>
<text x="505.20" y="217.85" font-size="4.25" font-weight="normal" text-anchor="end" fill="#111" >-0.4</text>
<text x="505.20" y="223.78" font-size="4.25" font-weight="normal" text-anchor="end" fill="#111" >-0.5</text>
<text x="505.20" y="229.70" font-size="4.25" font-weight="normal" text-anchor="end" fill="#111" >-0.6</text>
<path d="M527.1 201.9h0M545.4 192.2h0M538.1 199.6h0M520.2 202.1h0M539.2 179.6h0M552.8 167.1h0M575.6 170.8h0M557.9 195.4h0M556.2 204.3h0M524.9 170.0h0M563.9 184.4h0M531.1 184.4h0M529.7 192.3h0M549.1 187.4h0M542.2 196.4h0M534.4 188.3h0M555.5 195.2h0M526.4 189.6h0M534.4 185.2h0M540.4 198.2h0M515.7 198.6h0M510.3 189.2h0M533.3 208.1h0M544.6 203.5h0M568.5 196.3h0M543.5 189.5h0M541.0 199.8h0M537.8 195.1h0M542.2 197.6h0M545.7 190.2h0M544.9 186.2h0M526.9 181.9h0M514.5 182.0h0M532.3 192.2h0M546.3 198.0h0M543.8 189.1h0M525.3 193.5h0M555.1 189.6h0M532.0 202.6h0M540.3 190.5h0M542.2 187.9h0M522.7 194.7h0M538.5 187.0h0M517.7 174.0h0M525.2 172.8h0M541.0 193.2h0M545.2 207.2h0M548.9 196.3h0M536.6 190.8h0M536.8 198.6h0M551.3 207.6h0M542.8 191.5h0M532.6 194.9h0M534.2 181.2h0M552.6 190.0h0M542.9 178.1h0M531.5 175.2h0M533.7 179.8h0M550.9 194.3h0M527.0 207.1h0M535.3 188.2h0M547.0 202.9h0M523.7 181.2h0M523.7 179.8h0M547.5 184.0h0M532.0 179.8h0M560.8 188.4h0M510.1 194.4h0M553.8 195.4h0M585.4 186.7h0M513.2 181.8h0M552.2 196.1h0M539.9 189.0h0M532.5 189.8h0M546.2 187.5h0M551.6 179.2h0M556.1 203.7h0M527.7 205.0h0M550.5 192.4h0M540.4 206.6h0M539.1 181.8h0M575.8 190.9h0M540.4 204.4h0M543.1 209.1h0M532.7 196.8h0M526.9 208.6h0M535.3 182.9h0M541.9 187.0h0M548.6 201.6h0M525.1 179.6h0M538.6 181.9h0M512.3 189.9h0M537.6 191.7h0M572.2 213.5h0M519.3 191.6h0M541.7 192.5h0M556.3 171.9h0M524.6 194.6h0M512.6 193.7h0M541.7 183.4h0M542.9 193.8h0M536.0 187.1h0M591.4 168.0h0M537.8 174.6h0M553.7 188.3h0M542.6 178.5h0M530.3 185.5h0M575.8 188.4h0M557.5 190.1h0M551.7 190.0h0M521.3 193.1h0M545.1 202.1h0M520.6 199.6h0M510.6 212.5h0M560.0 178.6h0M587.8 180.3h0M567.4 193.1h0M547.8 196.5h0M520.2 198.1h0M543.5 183.5h0M526.1 197.3h0M552.7 187.2h0M511.4 189.9h0M517.2 198.1h0M513.8 187.3h0M542.8 204.7h0M547.6 200.9h0M536.0 192.4h0M527.6 175.1h0M546.7 209.1h0M555.3 179.9h0M578.4 185.5h0M537.1 203.6h0M547.1 186.4h0M545.9 219.1h0M554.5 208.0h0M544.7 184.2h0M533.6 190.4h0M547.7 190.7h0M532.8 193.4h0M521.1 199.5h0M534.5 184.3h0M528.5 193.2h0M539.4 185.0h0M546.5 199.3h0M518.1 197.9h0M535.0 196.9h0M545.5 193.7h0M539.9 183.1h0M550.4 192.1h0M520.1 180.9h0M553.7 189.2h0M551.9 192.7h0M542.9 207.7h0M526.9 184.8h0M536.4 192.8h0M575.0 193.8h0M557.2 188.1h0M550.5 192.0h0M526.2 202.1h0M542.9 209.7h0M533.5 182.6h0M530.8 195.5h0M539.5 183.1h0M572.6 192.9h0M522.6 194.7h0M529.6 206.2h0M558.2 190.4h0M533.8 192.8h0M552.5 204.8h0M519.9 166.1h0M586.0 206.7h0M532.7 201.7h0M570.6 193.4h0M530.3 181.4h0M559.5 207.4h0M514.9 196.0h0M514.4 195.9h0M528.0 203.4h0M541.9 195.4h0M579.4 205.4h0M560.9 183.4h0M527.7 173.0h0M532.8 206.2h0M562.9 214.9h0M535.8 190.4h0M521.5 194.0h0M555.9 194.0h0M542.1 188.1h0M521.4 193.2h0M511.9 203.5h0M549.5 200.1h0M546.6 189.6h0M547.1 193.5h0M554.1 195.5h0M528.6 197.0h0M559.6 195.8h0M545.4 200.7h0M523.3 195.8h0M531.8 175.1h0" fill="none" stroke="#50bb40" stroke-opacity="0.4" stroke-width="1.85" stroke-linecap="round"/>
<path d="M515.4 182.6h0M537.2 172.4h0M539.4 202.2h0M533.1 184.9h0M574.2 186.4h0M534.3 191.3h0M528.0 184.3h0M510.4 196.0h0M548.3 195.3h0M528.8 208.8h0M544.8 195.9h0M545.0 182.2h0M540.8 196.5h0M541.7 201.5h0M530.2 196.4h0M551.4 199.9h0M548.4 170.7h0M553.2 205.6h0M513.1 207.4h0M546.7 185.0h0M547.7 176.8h0M526.5 191.5h0M520.4 189.7h0M523.7 188.2h0M538.9 206.6h0M546.2 194.9h0M534.4 186.4h0M535.0 187.4h0M514.9 194.2h0M519.5 182.9h0M540.7 201.7h0M530.2 207.4h0M553.5 184.6h0M534.0 182.6h0M534.6 186.1h0M592.7 195.9h0M547.5 189.0h0M555.5 184.4h0M536.1 192.7h0M512.6 171.2h0M555.2 188.6h0M517.5 196.5h0M546.3 181.5h0M546.9 194.8h0M525.1 187.1h0M539.3 190.6h0M551.7 192.5h0M517.4 188.7h0M524.2 201.0h0M519.2 194.9h0M532.6 202.9h0M520.4 222.3h0M589.0 202.6h0M525.0 187.0h0M548.1 199.4h0M518.7 182.0h0M516.7 194.5h0M513.9 195.6h0M535.0 205.5h0M533.2 191.0h0M543.5 191.7h0M522.3 170.5h0M534.0 204.1h0M577.1 175.5h0M542.2 201.9h0M546.7 183.5h0M512.4 199.5h0M550.5 192.9h0M530.9 199.2h0M544.0 191.0h0M533.5 185.9h0M547.7 194.6h0M559.7 183.9h0M529.5 176.1h0M543.5 202.4h0M538.2 179.9h0M550.4 181.0h0M526.9 207.0h0M532.6 189.5h0M518.2 196.7h0M548.8 205.4h0M538.3 190.4h0M571.6 180.1h0M546.9 186.2h0M546.3 186.3h0M523.4 192.4h0M545.4 203.0h0M514.4 184.8h0M519.3 191.3h0M538.5 193.2h0M556.0 191.7h0M543.5 185.2h0M535.2 183.9h0M527.8 197.9h0M558.7 186.2h0M520.0 179.6h0M550.2 198.7h0M528.7 198.6h0M530.5 205.8h0M532.9 179.5h0M545.2 191.6h0M511.8 195.2h0M530.2 208.9h0M567.6 204.4h0M526.3 190.4h0M539.6 179.3h0M561.3 188.2h0M518.6 197.0h0M545.9 183.5h0M533.5 201.6h0M524.7 167.7h0M523.9 187.5h0M546.7 181.5h0M531.3 192.1h0M529.8 200.7h0M543.7 189.9h0M530.8 185.4h0M512.6 218.4h0M536.6 195.3h0M541.2 198.6h0M541.2 185.2h0M544.0 184.6h0M528.2 181.0h0M528.9 195.5h0M531.6 181.1h0M547.3 185.5h0M557.5 186.9h0M542.4 193.6h0M535.0 192.4h0M543.3 192.0h0M572.1 172.1h0M512.8 188.5h0M538.6 197.7h0M535.0 193.8h0M552.9 198.8h0M517.6 193.0h0M557.7 183.7h0M536.0 173.5h0M536.9 185.9h0M566.1 211.1h0M544.6 192.5h0M516.6 190.5h0M518.8 187.0h0M519.8 195.4h0M535.0 194.6h0M528.6 198.2h0M518.9 186.1h0M540.7 179.6h0M548.4 198.7h0M544.2 177.0h0M535.7 188.8h0M533.1 173.8h0M519.6 211.5h0M538.5 192.4h0M547.8 182.8h0M542.6 188.9h0M530.0 189.1h0M537.8 193.8h0M530.5 196.8h0M523.0 189.2h0M585.2 185.2h0M544.5 197.0h0M545.9 202.2h0M540.6 192.9h0M540.1 184.4h0M543.8 195.7h0M537.9 189.4h0M512.3 188.7h0M523.2 174.6h0M540.8 177.7h0M522.3 193.9h0M539.7 186.6h0M548.6 175.9h0M537.9 196.6h0M533.6 181.6h0M533.7 186.2h0M523.5 193.7h0M550.4 209.6h0M578.7 192.2h0M534.9 201.1h0M517.2 210.2h0M532.9 181.2h0M525.8 181.3h0M520.1 186.9h0M537.2 203.6h0M540.7 181.0h0M553.8 184.3h0M520.4 192.6h0M511.8 195.2h0M535.3 193.6h0M519.8 192.9h0M529.1 193.8h0M515.5 188.3h0M522.5 192.5h0M533.7 182.9h0M515.5 179.7h0M524.9 196.1h0M541.3 182.6h0M567.3 196.2h0M517.2 189.1h0" fill="none" stroke="#50bb40" stroke-opacity="0.4" stroke-width="1.85" stroke-linecap="round"/>
<path d="M546.8 189.6h0M545.9 190.6h0M543.8 180.9h0M534.8 191.3h0M526.2 197.3h0M514.5 197.9h0M523.8 191.4h0M541.0 196.7h0M551.9 194.6h0M548.8 199.5h0M556.2 203.8h0M533.4 189.3h0M538.6 194.3h0M534.7 200.8h0M520.4 183.6h0M530.6 199.4h0M524.5 194.1h0M517.3 205.7h0M536.8 192.1h0M535.2 180.4h0M526.5 185.9h0M525.1 188.8h0M536.8 189.0h0M531.1 186.5h0M532.4 186.7h0M527.6 214.5h0M545.2 175.8h0M515.2 188.0h0M520.8 180.8h0M569.9 180.5h0M513.7 186.2h0M523.8 212.6h0M536.7 184.7h0M532.1 197.8h0M543.1 186.8h0M544.4 189.4h0M527.2 211.1h0M541.1 180.4h0M514.2 191.1h0M546.2 197.8h0M532.0 203.9h0M548.2 167.9h0M559.4 187.6h0M544.3 191.6h0M556.9 196.5h0M538.2 168.5h0M514.6 164.0h0M536.0 189.0h0M571.2 191.0h0M553.5 196.1h0M566.6 178.9h0M539.5 197.4h0M535.7 180.0h0M522.2 194.3h0M540.8 197.3h0M552.8 167.1h0M553.7 185.1h0M557.9 201.2h0M534.1 188.6h0M588.7 188.8h0M531.0 174.8h0M523.0 181.3h0M524.0 195.9h0M544.2 195.5h0M537.2 187.2h0M548.8 194.2h0M548.5 190.7h0M550.4 201.8h0M531.7 199.3h0M527.0 196.2h0M523.1 187.9h0M539.2 207.6h0M540.2 185.1h0M551.0 202.2h0M537.4 194.7h0M511.9 194.7h0M533.2 195.1h0M527.3 195.6h0M549.9 204.5h0M531.8 202.6h0M573.6 198.7h0M545.1 187.4h0M578.5 187.6h0M509.9 214.2h0M551.4 181.5h0M535.3 208.0h0M532.1 177.7h0M572.5 185.0h0M530.5 166.1h0M513.5 183.7h0M541.7 186.0h0M569.1 181.2h0M593.1 189.7h0M537.0 189.8h0M528.1 194.5h0M554.9 201.1h0M539.5 202.1h0M527.7 185.7h0M512.9 179.2h0M514.3 200.4h0M540.2 196.5h0M553.0 190.6h0M536.0 182.2h0M549.6 186.0h0M538.0 185.5h0M531.6 183.3h0M555.2 182.1h0M590.2 185.4h0M552.0 187.5h0M527.6 187.8h0M525.5 188.1h0M541.4 198.7h0M547.7 204.5h0M530.7 190.5h0M544.5 189.6h0M549.5 195.5h0M544.0 184.2h0M537.4 180.6h0M516.0 206.9h0M525.1 179.3h0M512.2 191.6h0M551.9 201.6h0M558.3 199.3h0M530.9 196.2h0M558.1 198.5h0M520.0 181.9h0M535.5 202.6h0M557.0 200.2h0M539.9 203.4h0M533.3 193.9h0M535.8 184.1h0M541.7 178.3h0M546.0 203.9h0M537.2 187.4h0M542.3 188.6h0M555.3 191.7h0M543.6 189.6h0M532.0 197.7h0M510.5 195.1h0M564.9 200.9h0M534.3 196.1h0M511.6 199.6h0M535.6 209.1h0M532.6 191.9h0M519.1 191.8h0M529.5 187.7h0M536.8 186.3h0M537.9 190.8h0M540.7 198.5h0M534.1 190.9h0M540.4 202.6h0M562.9 188.6h0M548.0 194.0h0M555.4 184.0h0M528.5 199.1h0M537.4 192.5h0M548.7 175.2h0M534.8 186.5h0M539.0 173.6h0M551.0 202.7h0M513.3 187.2h0M535.7 182.7h0M548.2 201.2h0M531.4 201.0h0M536.5 188.0h0M558.9 189.8h0M559.4 197.5h0M538.7 201.7h0M538.7 180.5h0M545.1 192.8h0M530.1 184.5h0M546.3 160.6h0M540.4 200.3h0M545.6 186.8h0M552.4 204.6h0M539.5 176.5h0M553.7 187.6h0M523.4 179.1h0M559.2 187.8h0M534.7 193.7h0M538.3 181.3h0M543.9 187.3h0M522.9 222.2h0M586.9 189.9h0M541.7 176.7h0M545.7 171.8h0M559.8 194.7h0M535.7 188.3h0M544.4 196.4h0M555.7 188.4h0M544.8 188.5h0M537.4 192.2h0M560.1 183.1h0M550.4 216.0h0M520.4 201.3h0M535.5 190.8h0M529.2 197.8h0M550.5 162.6h0M518.6 196.3h0" fill="none" stroke="#50bb40" stroke-opacity="0.4" stroke-width="1.85" stroke-linecap="round"/>
<path d="M511.9 207.4h0M576.4 184.3h0M538.0 197.4h0M545.6 180.1h0M535.1 203.7h0M537.3 210.1h0M539.4 182.1h0M564.7 199.0h0M529.0 194.1h0M543.3 199.9h0M551.6 176.6h0M535.8 214.1h0M539.6 205.2h0M524.6 184.0h0M534.1 186.9h0M538.0 179.8h0M552.8 211.5h0M536.3 203.4h0M559.5 181.7h0M576.8 182.6h0M511.0 193.8h0M541.0 197.2h0M543.9 200.0h0M532.6 188.4h0M539.4 184.0h0M534.1 195.2h0M518.2 203.4h0M547.9 180.8h0M528.4 184.2h0M520.4 179.2h0M552.9 180.9h0M553.6 193.7h0M571.2 193.9h0M529.9 176.9h0M545.9 199.1h0M541.4 186.7h0M559.7 170.7h0M547.9 182.2h0M546.7 187.2h0M543.4 186.2h0M558.2 179.9h0M533.7 208.6h0M554.4 190.7h0M527.3 183.0h0M550.6 185.2h0M538.2 203.4h0M535.9 202.5h0M535.3 176.5h0M545.6 193.9h0M532.4 208.8h0M545.3 191.1h0M549.3 182.5h0M515.0 203.9h0M557.2 185.2h0M531.6 183.0h0M552.9 192.2h0M529.3 206.3h0M530.2 191.5h0M564.0 176.8h0M532.1 188.3h0M550.5 194.9h0M529.3 194.2h0M572.7 196.3h0M527.7 180.8h0M551.2 205.1h0M511.5 187.8h0M579.4 180.8h0M527.4 186.6h0M547.2 196.0h0M558.7 205.6h0M530.2 179.9h0M528.0 190.0h0M548.9 186.2h0M535.2 204.7h0M553.3 196.9h0M524.0 194.6h0M536.1 197.1h0M535.1 177.5h0M551.8 203.4h0M549.3 178.1h0M561.3 210.8h0M532.0 188.0h0M536.7 176.6h0M535.6 186.4h0M539.7 193.2h0M533.4 172.3h0M533.5 205.4h0M526.0 171.6h0M540.5 188.6h0M522.6 200.7h0M588.4 194.2h0M538.8 206.0h0M537.4 185.7h0M526.5 183.0h0M528.3 202.6h0M525.7 193.8h0M531.8 198.4h0M535.6 188.2h0M543.8 183.5h0M541.2 181.3h0M559.5 195.1h0M538.9 201.7h0M561.3 188.7h0M561.5 177.2h0M536.7 198.5h0M538.1 179.2h0M566.6 184.1h0M515.3 187.2h0M533.3 195.8h0M526.0 190.9h0M542.2 211.0h0M532.9 192.9h0M522.8 195.8h0M547.2 182.6h0M574.2 180.6h0M540.9 181.5h0M536.5 193.1h0M532.8 203.9h0M547.2 190.1h0M515.1 193.8h0M531.8 183.8h0M509.8 200.9h0M528.8 193.4h0M538.2 190.9h0M559.8 192.1h0M538.1 191.8h0M524.6 178.7h0M533.9 188.1h0M557.4 192.9h0M533.2 196.6h0M535.9 211.2h0M555.1 191.5h0M542.1 200.4h0M541.2 188.7h0M511.7 180.2h0M549.6 172.2h0M564.9 184.3h0M552.6 173.0h0M590.8 175.1h0M539.5 188.5h0M528.4 177.9h0M539.8 193.4h0M584.1 182.7h0M573.2 183.1h0M546.2 182.6h0M531.7 204.3h0M574.6 184.3h0M552.7 183.2h0M529.4 199.1h0M522.2 188.5h0M530.3 198.2h0M532.0 195.8h0M530.3 172.4h0M531.7 182.7h0M551.7 189.8h0M528.5 195.9h0M535.6 191.6h0M529.2 190.1h0M533.0 173.5h0M555.0 201.4h0M541.6 198.8h0M536.6 211.1h0M524.9 195.4h0M546.9 166.0h0M562.9 198.8h0M533.8 181.7h0M549.9 206.5h0M563.8 176.1h0M526.0 163.9h0M541.1 188.2h0M525.4 181.3h0M586.2 178.0h0M539.6 194.5h0M590.3 191.1h0M530.1 198.2h0M563.9 182.6h0M557.6 202.8h0M556.4 190.4h0M532.4 190.4h0M515.4 188.7h0M532.3 192.9h0M545.3 198.9h0M552.2 190.8h0M526.5 193.7h0M539.1 190.3h0M523.0 192.8h0M548.4 213.0h0M556.7 199.8h0M544.6 196.1h0M536.6 198.1h0M565.2 197.9h0M522.7 195.6h0M551.2 185.0h0M530.1 196.8h0M529.3 180.0h0M525.4 190.4h0M546.8 184.7h0M547.8 184.9h0M529.0 177.0h0" fill="none" stroke="#50bb40" stroke-opacity="0.4" stroke-width="1.85" stroke-linecap="round"/>
<path d="M540.6 181.2h0M525.4 181.9h0M540.3 205.6h0M537.4 199.7h0M549.9 184.8h0M557.4 179.7h0M529.6 178.2h0M513.9 204.7h0M544.4 185.5h0M541.8 204.0h0M548.2 189.1h0M520.9 212.3h0M547.7 196.4h0M540.1 200.3h0M569.8 198.1h0M536.7 188.6h0M528.6 196.2h0M553.1 184.4h0M541.5 189.6h0M580.8 188.7h0M562.6 197.5h0M549.2 149.2h0M530.7 195.2h0M539.3 201.1h0M541.8 192.0h0M535.5 181.7h0M511.4 191.7h0M520.1 196.5h0M524.4 187.2h0M560.3 192.4h0M535.9 190.2h0M541.9 182.3h0M535.3 192.5h0M531.5 176.8h0M539.0 194.4h0M527.2 185.8h0M529.4 188.8h0M564.4 201.9h0M545.6 191.8h0M524.2 204.9h0M563.2 191.8h0M520.1 194.1h0M537.4 183.6h0M539.4 178.2h0M547.1 202.5h0M540.4 199.4h0M529.3 215.4h0M548.2 200.5h0M527.6 180.4h0M522.2 174.2h0M551.4 198.3h0M520.6 204.4h0M526.6 193.3h0M570.3 183.4h0M529.3 183.9h0M523.1 197.2h0M517.8 183.9h0M552.0 214.9h0M543.5 188.4h0M552.5 190.8h0M549.9 197.0h0M523.9 192.8h0M560.9 182.8h0M522.7 189.0h0M553.8 191.4h0M546.1 192.0h0M544.2 197.3h0M578.3 208.5h0M572.2 187.0h0M527.4 189.0h0M512.4 211.0h0M532.3 187.2h0M524.5 179.2h0M536.4 190.6h0M550.5 203.2h0M543.9 184.0h0M558.6 188.8h0M533.0 182.9h0M518.1 186.9h0M534.9 194.9h0M552.3 185.4h0M538.1 205.5h0M533.9 190.0h0M530.1 183.8h0M531.1 188.1h0M534.4 183.2h0M537.6 189.7h0M568.3 177.4h0M535.8 195.8h0M559.3 185.5h0M555.3 199.4h0M542.6 197.5h0M537.5 192.9h0M541.9 201.3h0M550.5 168.4h0M546.4 184.8h0M517.7 191.0h0M544.7 198.1h0M542.9 185.7h0M548.3 177.5h0M534.2 190.7h0M525.8 192.0h0M523.6 201.2h0M530.0 189.7h0M523.4 182.3h0M523.0 194.7h0M552.3 187.8h0M547.0 197.8h0M518.2 185.5h0M551.2 207.6h0M558.8 188.4h0M525.5 191.7h0M532.1 178.3h0M534.4 193.9h0M536.8 200.3h0M543.6 159.8h0M550.2 186.3h0M542.1 191.0h0M532.8 211.3h0M562.6 191.1h0M547.2 195.7h0M536.3 191.9h0M550.3 183.9h0M538.4 175.9h0M520.7 189.7h0M541.3 193.4h0M517.1 195.6h0M547.2 189.0h0M551.2 192.1h0M546.7 182.8h0M551.8 170.9h0M550.4 181.1h0M540.5 184.7h0M562.4 187.2h0M522.6 185.4h0M545.1 191.3h0M527.4 198.8h0M521.4 192.9h0M557.3 193.9h0M516.5 199.2h0M527.8 191.1h0M533.0 193.2h0M548.6 187.9h0M549.1 183.1h0M534.6 206.8h0M545.8 183.6h0M564.9 162.0h0M521.1 188.3h0M527.2 193.0h0M543.2 199.7h0M540.2 184.1h0M528.7 198.1h0M525.3 177.7h0M527.8 184.2h0M587.5 171.9h0M520.4 198.8h0M518.7 205.1h0M554.2 191.8h0M520.0 213.3h0M526.1 182.1h0M527.6 194.7h0M532.3 199.9h0M527.5 189.5h0M521.8 189.2h0M547.2 190.0h0M557.0 204.8h0M535.8 210.9h0M532.1 188.3h0M553.6 194.3h0M557.1 177.5h0M560.8 185.5h0M579.1 199.9h0M533.5 196.5h0M544.5 196.1h0M558.4 197.2h0M528.9 192.1h0M530.6 191.5h0M533.7 194.8h0M587.8 187.8h0M567.3 191.4h0M557.0 187.8h0M535.5 187.7h0M543.2 211.5h0M543.0 182.5h0M530.0 179.2h0M527.7 183.9h0M512.5 205.3h0M567.2 176.2h0M546.6 178.7h0M546.9 182.9h0M529.6 180.0h0M545.4 199.4h0M529.9 196.2h0M535.0 182.0h0M567.0 177.1h0M512.8 184.4h0M544.8 174.5h0M537.3 177.4h0M532.0 187.8h0" fill="none" stroke="#50bb40" stroke-opacity="0.4" stroke-width="1.85" stroke-linecap="round"/>
<path d="M552.4 176.5h0M534.5 191.6h0M533.9 182.7h0M539.6 191.3h0M530.6 193.8h0M534.2 195.7h0M567.0 175.6h0M551.7 192.6h0M545.6 171.1h0M548.0 202.4h0M514.3 191.6h0M546.0 185.7h0M521.1 176.0h0M562.7 186.2h0M531.5 203.5h0M519.2 202.6h0M534.2 187.9h0M544.8 184.7h0M511.6 194.9h0M545.0 197.5h0M565.5 188.9h0M570.6 196.1h0M536.6 194.5h0M553.1 189.7h0M569.2 193.6h0M532.6 197.8h0M540.7 203.7h0M533.2 208.6h0M551.2 189.3h0M557.7 198.1h0M549.0 173.6h0M524.0 195.1h0M541.8 193.2h0M543.2 193.9h0M542.3 212.6h0M539.7 191.2h0M558.4 198.2h0M558.3 188.0h0M518.4 201.3h0M539.5 185.5h0M537.4 204.3h0M569.7 188.1h0M526.0 195.2h0M540.3 166.0h0M537.1 181.8h0M522.0 191.9h0M528.7 206.1h0M549.0 194.5h0M521.9 187.6h0M526.8 196.6h0M524.8 193.6h0M535.2 193.2h0M537.4 194.9h0M553.3 181.5h0M538.0 207.2h0M536.6 190.8h0M543.8 187.2h0M541.5 199.8h0M520.3 197.0h0M545.2 183.1h0M538.0 180.7h0M523.8 195.3h0M538.0 179.9h0M551.6 180.6h0M544.0 204.0h0M535.0 178.1h0M535.1 183.5h0M574.7 196.0h0M532.0 170.7h0M546.2 186.7h0M531.5 187.3h0M530.5 194.7h0M532.2 206.9h0M531.1 193.5h0M536.9 190.7h0M534.8 195.4h0M564.2 190.6h0M529.8 198.7h0M525.6 187.5h0M541.0 189.5h0M516.8 180.3h0M535.4 191.5h0M532.8 199.6h0M513.1 180.7h0M533.4 188.1h0M536.7 183.0h0M510.6 208.5h0M532.2 180.9h0M558.0 204.2h0M576.1 212.7h0M556.5 197.4h0M518.9 205.6h0M538.7 193.9h0M534.4 193.3h0M528.3 179.4h0M563.3 180.6h0M543.2 177.4h0M519.0 201.1h0M543.0 197.4h0M529.0 189.2h0M545.2 182.3h0M536.7 198.2h0M519.6 195.0h0M524.7 196.4h0M530.3 195.7h0M532.7 202.0h0M530.1 191.7h0M541.4 179.3h0M571.3 184.7h0M532.6 192.4h0M529.6 189.5h0M513.1 187.7h0M536.7 193.4h0M532.5 192.3h0M530.6 193.3h0M510.9 183.5h0M529.1 207.5h0M522.0 185.7h0M544.2 193.0h0M561.3 176.9h0M530.9 191.0h0M537.3 186.8h0M533.8 203.4h0M529.9 196.4h0M512.8 191.2h0M558.6 192.2h0M587.3 193.6h0M535.5 181.7h0M539.6 199.2h0M536.5 197.0h0M529.2 185.7h0M541.6 197.4h0M551.4 202.8h0M532.8 181.9h0M559.6 186.2h0M548.4 188.2h0M541.4 202.4h0M536.0 184.1h0M546.5 209.4h0M521.5 183.3h0M521.5 198.0h0M518.7 204.0h0M541.2 183.5h0M548.5 198.1h0M544.7 202.2h0M555.0 171.3h0M530.4 186.5h0M550.9 206.4h0M541.2 191.5h0M543.1 192.0h0M524.1 184.3h0M516.7 202.5h0M555.5 209.2h0M540.2 194.7h0M547.5 181.6h0M527.8 198.7h0M534.8 200.2h0M538.9 184.6h0M519.5 200.9h0M545.1 183.4h0M542.1 180.4h0M563.1 201.5h0M533.7 197.7h0M517.9 186.3h0M546.7 181.6h0M548.2 188.8h0M510.8 191.4h0M522.4 199.5h0M518.1 194.7h0M538.0 200.8h0M549.4 184.8h0M558.9 197.9h0M589.8 194.5h0M537.2 198.5h0M523.3 197.8h0M544.3 190.0h0M565.1 188.2h0M522.1 199.0h0M533.4 189.5h0M533.8 199.5h0M541.1 193.1h0M531.4 180.6h0M543.4 175.7h0M542.5 190.2h0M535.1 165.7h0M543.5 194.8h0M565.2 178.2h0M517.3 216.1h0M519.9 180.3h0M531.3 186.6h0M530.2 206.8h0M528.4 182.1h0M530.8 203.2h0M536.4 196.3h0M511.4 182.9h0M549.7 179.1h0M542.7 192.3h0M516.1 198.0h0M581.2 194.9h0" fill="none" stroke="#50bb40" stroke-opacity="0.4" stroke-width="1.85" stroke-linecap="round"/>
<path d="M567.8 195.5h0M544.2 182.2h0M526.7 178.4h0M511.3 189.6h0M546.2 189.9h0M517.7 197.5h0M512.8 189.2h0M564.9 197.6h0M517.9 198.3h0M561.6 187.3h0M534.2 185.2h0M518.9 181.6h0M524.7 181.7h0M535.0 180.6h0M521.5 192.5h0M520.4 187.0h0M534.6 200.3h0M552.3 198.2h0M533.3 188.7h0M540.0 192.1h0M564.6 197.1h0M554.4 207.7h0M528.6 188.6h0M545.8 186.1h0M534.9 183.6h0M558.6 189.9h0M551.6 172.3h0M548.6 190.9h0M541.5 205.9h0M586.1 190.8h0M528.0 203.2h0M542.2 183.1h0M525.1 199.2h0M524.0 196.0h0M540.8 197.0h0M531.1 198.5h0M547.0 184.4h0M528.7 175.2h0M520.1 188.7h0M540.4 174.8h0M537.1 198.9h0M531.4 194.8h0M563.2 187.4h0M544.3 212.6h0M519.1 201.7h0M540.1 191.5h0M530.3 187.2h0M543.5 185.6h0M539.7 190.7h0M533.8 200.8h0M537.1 167.0h0M528.7 193.4h0M529.3 204.8h0M519.7 195.0h0M513.8 193.4h0M532.4 202.9h0M524.4 193.6h0M528.0 202.6h0M542.4 191.5h0M536.4 176.0h0M522.0 189.9h0M519.6 203.1h0M555.8 198.9h0M547.6 187.3h0M591.5 181.9h0M530.6 176.5h0M527.5 199.9h0M542.3 187.8h0M513.8 188.7h0M520.6 196.3h0M527.1 186.6h0M521.6 196.7h0M523.3 206.5h0M519.8 198.0h0M552.3 194.1h0M542.1 186.6h0M522.3 178.7h0M551.6 180.9h0M525.1 188.9h0M545.8 182.7h0M536.4 173.7h0M554.1 180.7h0M562.3 215.7h0M523.8 199.3h0M546.2 184.8h0M553.0 188.4h0M545.8 193.5h0M524.7 194.4h0M549.6 183.6h0M548.6 184.4h0M543.7 199.2h0M562.8 194.6h0M556.2 188.9h0M549.2 194.7h0M541.5 168.4h0M563.9 196.6h0M555.0 188.4h0M557.7 212.8h0M528.2 188.6h0M572.2 190.6h0M547.3 197.5h0M553.3 184.4h0M517.6 181.3h0M529.0 199.1h0M545.0 197.8h0M548.0 179.0h0M582.6 186.7h0M536.3 182.7h0M534.8 195.5h0M538.5 197.1h0M533.7 185.7h0M533.6 196.5h0M561.0 187.5h0M537.3 176.5h0M540.9 170.8h0M523.9 173.2h0M517.4 190.1h0M540.8 171.1h0M546.1 185.5h0M534.4 198.1h0M528.7 190.9h0M530.6 212.3h0M576.3 178.2h0M584.9 185.8h0M542.3 198.0h0M565.8 188.8h0M571.9 206.6h0M548.5 209.7h0M552.4 198.2h0M552.7 205.1h0M545.1 182.7h0M534.1 204.9h0M530.2 192.0h0M545.6 179.4h0M531.9 187.6h0M546.6 207.4h0M540.8 193.5h0M528.4 192.7h0M540.6 183.7h0M529.1 183.3h0M540.4 199.7h0M539.2 170.2h0M536.8 176.4h0M540.5 198.1h0M526.8 207.2h0M547.9 174.4h0M542.2 195.2h0M545.1 187.4h0M533.3 179.1h0M578.7 187.6h0M551.6 189.3h0M557.6 185.5h0M512.8 208.3h0M526.0 191.6h0M534.6 179.5h0M510.4 195.2h0M542.5 214.8h0M542.8 194.0h0M527.1 184.0h0M540.3 197.3h0M539.9 191.5h0M529.5 184.0h0M519.9 185.7h0M588.3 182.8h0M537.8 190.7h0M536.1 184.2h0M532.6 184.4h0M545.9 192.9h0M544.3 196.2h0M533.0 199.5h0M529.3 200.1h0M526.7 194.4h0M551.2 203.6h0M573.4 182.6h0M521.5 192.4h0M518.0 196.0h0M537.3 187.7h0M571.7 196.3h0M538.0 187.2h0M534.0 187.1h0M553.3 187.7h0M566.2 187.8h0M535.2 186.6h0M540.4 194.0h0M521.2 172.8h0M566.4 190.5h0M536.5 191.4h0M565.3 194.2h0M528.9 200.9h0M557.0 188.7h0M529.2 199.0h0M567.1 174.0h0M509.9 195.3h0M537.4 197.6h0M565.1 209.6h0M525.6 186.7h0M513.9 198.6h0M534.4 176.6h0M541.8 193.9h0" fill="none" stroke="#50bb40" stroke-opacity="0.4" stroke-width="1.85" stroke-linecap="round"/>
<path d="M510.8 192.5 L551.95 190.4 L593.1 187.0 L593.1 190.60000000000002 L551.95 191.6 L510.8 193.89999999999998Z" fill="#8a8a8a" fill-opacity="0.42"/>
<path d="M510.8 193.2 L593.1 188.8" stroke="#5e5e5e" stroke-width="0.95"/>
<text x="550.30" y="242.00" font-size="9.66" font-weight="normal" text-anchor="middle" fill="#000" >SDQ Emotional Symptom</text>
<text x="577.20" y="153.40" font-size="9.5" font-weight="normal" text-anchor="start" fill="#000" ><tspan font-style="italic">r</tspan> = 0.08</text>
<text x="577.20" y="164.80" font-size="9.5" font-weight="normal" text-anchor="start" fill="#000" ><tspan font-style="italic">p</tspan> = 0.006</text>
<rect x="354.6" y="264.5" width="90.50" height="81.50" fill="#ebebeb"/>
<path d="M355.50 264.5V346.0M365.46 264.5V346.0M375.41 264.5V346.0M385.37 264.5V346.0M395.32 264.5V346.0M405.28 264.5V346.0M415.23 264.5V346.0M425.19 264.5V346.0M435.14 264.5V346.0M354.6 266.90H445.1M354.6 273.53H445.1M354.6 280.17H445.1M354.6 286.80H445.1M354.6 293.43H445.1M354.6 300.07H445.1M354.6 306.70H445.1M354.6 313.33H445.1M354.6 319.97H445.1M354.6 326.60H445.1M354.6 333.23H445.1M354.6 339.87H445.1" stroke="#fff" stroke-width="0.55" fill="none" opacity="0.6"/>
<text x="355.50" y="350.60" font-size="4.25" font-weight="normal" text-anchor="middle" fill="#111" >-5</text>
<text x="365.46" y="350.60" font-size="4.25" font-weight="normal" text-anchor="middle" fill="#111" >-4</text>
<text x="375.41" y="350.60" font-size="4.25" font-weight="normal" text-anchor="middle" fill="#111" >-3</text>
<text x="385.37" y="350.60" font-size="4.25" font-weight="normal" text-anchor="middle" fill="#111" >-2</text>
<text x="395.32" y="350.60" font-size="4.25" font-weight="normal" text-anchor="middle" fill="#111" >-1</text>
<text x="405.28" y="350.60" font-size="4.25" font-weight="normal" text-anchor="middle" fill="#111" >0</text>
<text x="415.23" y="350.60" font-size="4.25" font-weight="normal" text-anchor="middle" fill="#111" >1</text>
<text x="425.19" y="350.60" font-size="4.25" font-weight="normal" text-anchor="middle" fill="#111" >2</text>
<text x="435.14" y="350.60" font-size="4.25" font-weight="normal" text-anchor="middle" fill="#111" >3</text>
<text x="445.10" y="350.60" font-size="4.25" font-weight="normal" text-anchor="middle" fill="#111" >4</text>
<text x="352.40" y="268.30" font-size="4.25" font-weight="normal" text-anchor="end" fill="#111" >0.6</text>
<text x="352.40" y="274.93" font-size="4.25" font-weight="normal" text-anchor="end" fill="#111" >0.5</text>
<text x="352.40" y="281.57" font-size="4.25" font-weight="normal" text-anchor="end" fill="#111" >0.4</text>
<text x="352.40" y="288.20" font-size="4.25" font-weight="normal" text-anchor="end" fill="#111" >0.3</text>
<text x="352.40" y="294.83" font-size="4.25" font-weight="normal" text-anchor="end" fill="#111" >0.2</text>
<text x="352.40" y="301.47" font-size="4.25" font-weight="normal" text-anchor="end" fill="#111" >0.1</text>
<text x="352.40" y="308.10" font-size="4.25" font-weight="normal" text-anchor="end" fill="#111" >0</text>
<text x="352.40" y="314.73" font-size="4.25" font-weight="normal" text-anchor="end" fill="#111" >-0.1</text>
<text x="352.40" y="321.37" font-size="4.25" font-weight="normal" text-anchor="end" fill="#111" >-0.2</text>
<text x="352.40" y="328.00" font-size="4.25" font-weight="normal" text-anchor="end" fill="#111" >-0.3</text>
<text x="352.40" y="334.63" font-size="4.25" font-weight="normal" text-anchor="end" fill="#111" >-0.4</text>
<text x="352.40" y="341.27" font-size="4.25" font-weight="normal" text-anchor="end" fill="#111" >-0.5</text>
<text x="352.40" y="347.90" font-size="4.25" font-weight="normal" text-anchor="end" fill="#111" >-0.6</text>
<path d="M372.5 301.3h0M405.3 317.6h0M384.5 314.0h0M436.6 310.5h0M414.8 302.9h0M404.7 308.4h0M406.3 315.8h0M396.0 311.3h0M420.4 301.6h0M415.7 301.2h0M424.8 310.2h0M438.8 297.5h0M427.8 301.3h0M396.7 301.4h0M388.2 294.5h0M385.9 312.8h0M413.7 309.4h0M407.5 315.9h0M393.9 307.5h0M394.6 316.4h0M405.5 311.1h0M423.3 310.9h0M425.7 298.3h0M424.1 300.9h0M404.9 316.3h0M415.7 322.8h0M426.3 310.5h0M414.3 315.1h0M425.2 307.5h0M425.5 319.2h0M375.2 285.6h0M414.5 312.9h0M435.0 284.3h0M422.7 316.4h0M389.3 306.9h0M435.5 318.9h0M385.6 316.9h0M422.3 306.8h0M437.1 297.9h0M377.1 311.8h0M437.1 307.6h0M404.2 311.2h0M414.6 309.6h0M423.7 313.4h0M366.3 312.3h0M409.4 321.7h0M417.4 311.4h0M423.3 315.5h0M396.2 304.0h0M415.6 306.9h0M413.7 306.4h0M404.8 304.8h0M416.2 300.9h0M394.0 308.8h0M373.8 315.0h0M427.3 304.1h0M413.8 306.0h0M428.9 309.8h0M385.8 305.2h0M417.1 313.4h0M435.8 315.8h0M396.1 313.4h0M424.4 320.9h0M394.7 311.8h0M417.3 305.6h0M425.0 308.9h0M424.1 308.7h0M435.8 273.6h0M425.3 306.0h0M384.2 306.3h0M426.0 311.6h0M396.1 312.7h0M392.5 292.3h0M425.3 307.1h0M436.8 301.0h0M426.6 309.1h0M366.1 311.1h0M415.8 306.7h0M375.6 316.2h0M406.9 293.0h0M416.1 295.3h0M418.1 295.2h0M384.0 321.3h0M424.5 305.3h0M423.6 292.6h0M377.3 317.7h0M387.4 312.7h0M427.9 311.9h0M403.0 315.6h0M395.2 305.8h0M396.1 308.8h0M388.9 318.4h0M414.5 296.4h0M424.4 316.5h0M435.6 302.6h0M375.6 311.6h0M374.6 317.4h0M423.1 296.0h0M419.6 313.6h0M394.6 314.0h0M426.3 301.1h0M406.0 311.0h0M413.8 309.6h0M383.0 309.4h0M426.4 307.6h0M396.8 306.9h0M439.6 308.7h0M414.8 314.3h0M406.5 324.5h0M394.7 311.0h0M414.8 296.5h0M426.9 307.0h0M404.7 298.6h0M375.2 315.5h0M386.2 319.6h0M395.9 308.1h0M386.6 315.9h0M416.6 300.3h0M406.5 314.0h0M407.8 303.8h0M376.4 312.3h0M398.3 302.0h0M424.7 299.1h0M416.0 296.8h0M394.1 304.2h0M386.3 316.1h0M413.9 303.0h0M416.2 306.5h0M424.8 316.9h0M415.6 300.6h0M395.3 309.8h0M415.1 318.7h0M418.0 305.8h0M387.2 305.8h0M365.4 304.8h0M377.5 317.0h0M422.0 299.8h0M385.3 314.0h0M406.1 317.9h0M425.7 307.3h0M428.3 310.4h0M424.9 309.5h0M376.3 309.9h0M395.1 299.3h0M419.9 314.6h0M395.8 299.1h0M395.2 307.6h0M427.6 310.2h0M415.8 311.9h0M414.2 302.6h0M424.7 323.5h0M403.6 291.8h0M415.4 315.3h0M426.7 312.7h0M425.5 321.5h0M393.9 308.8h0M414.3 309.1h0M375.1 307.4h0M375.8 303.2h0M416.0 314.5h0M424.9 312.2h0" fill="none" stroke="#3b7dba" stroke-opacity="0.4" stroke-width="1.85" stroke-linecap="round"/>
<path d="M425.1 301.7h0M415.9 311.5h0M415.8 299.5h0M438.9 290.1h0M415.8 298.1h0M396.8 303.2h0M415.7 299.9h0M414.3 311.5h0M428.2 307.3h0M367.6 311.5h0M385.1 309.2h0M376.6 318.0h0M426.1 310.3h0M398.1 317.4h0M384.3 302.7h0M434.2 309.5h0M426.4 313.4h0M396.2 308.2h0M381.8 312.3h0M396.2 303.9h0M425.6 302.2h0M367.7 304.6h0M434.6 314.7h0M413.5 313.2h0M384.7 315.1h0M363.4 306.4h0M435.5 308.1h0M396.6 313.4h0M366.6 311.9h0M375.5 308.0h0M385.4 301.6h0M435.1 313.2h0M374.9 309.1h0M395.3 315.1h0M427.8 305.0h0M426.0 310.8h0M412.4 308.8h0M435.2 299.4h0M397.2 302.7h0M366.9 295.4h0M375.8 302.6h0M388.6 308.9h0M414.0 301.6h0M372.4 311.8h0M426.4 307.0h0M436.3 296.5h0M427.9 291.2h0M435.7 315.0h0M435.7 289.9h0M428.6 310.2h0M397.0 308.1h0M416.2 304.4h0M435.3 304.1h0M365.9 320.9h0M418.2 316.0h0M414.3 316.4h0M384.1 304.1h0M407.6 310.1h0M425.8 290.0h0M406.0 305.8h0M415.3 295.0h0M422.8 299.0h0M414.6 315.7h0M405.5 298.7h0M403.2 300.6h0M391.5 300.2h0M414.6 309.3h0M383.2 315.5h0M396.9 297.8h0M426.3 313.9h0M418.4 314.3h0M422.0 304.4h0M389.2 301.1h0M403.5 302.8h0M426.9 321.9h0M437.3 308.1h0M417.0 310.5h0M395.1 314.0h0M414.4 303.6h0M396.4 299.0h0M428.4 308.5h0M414.1 299.5h0M428.1 285.2h0M415.9 308.8h0M414.6 315.0h0M397.0 321.0h0M415.2 303.1h0M416.1 291.6h0M383.6 313.2h0M428.2 309.6h0M427.1 315.8h0M428.1 307.0h0M399.9 313.1h0M405.3 319.2h0M385.6 311.3h0M427.1 284.7h0M395.0 319.8h0M406.4 309.1h0M433.9 297.1h0M396.7 314.0h0M398.3 304.5h0M425.5 302.6h0M415.5 298.3h0M381.2 300.7h0M405.2 313.9h0M424.7 319.1h0M387.6 306.7h0M418.8 304.6h0M386.5 303.2h0M377.5 308.5h0M389.3 305.6h0M397.0 308.6h0M421.0 299.4h0M378.2 320.8h0M425.4 304.9h0M373.4 315.8h0M407.3 310.0h0M366.0 325.2h0M414.7 305.9h0M414.9 319.4h0M377.4 312.7h0M385.1 325.5h0M386.5 308.4h0M423.6 312.3h0M378.0 304.4h0M364.7 301.8h0M398.9 293.0h0M428.2 299.8h0M365.3 302.8h0M431.7 310.7h0M407.4 308.2h0M405.1 303.1h0M374.3 311.1h0M416.5 314.3h0M417.0 306.1h0M377.7 310.8h0M423.4 315.7h0M415.3 310.3h0M411.8 326.0h0M393.9 309.2h0M436.2 312.7h0M413.3 309.0h0M416.5 307.9h0M390.5 300.4h0M426.1 309.7h0M407.5 314.3h0M414.3 300.9h0M376.1 312.8h0M407.4 310.3h0M377.4 305.4h0M376.4 313.3h0M365.2 313.4h0M388.5 298.8h0M414.9 312.0h0M435.2 300.4h0M435.5 307.4h0M377.8 310.6h0M423.9 309.7h0M425.8 312.5h0M413.8 302.5h0M397.1 309.8h0" fill="none" stroke="#3b7dba" stroke-opacity="0.4" stroke-width="1.85" stroke-linecap="round"/>
<path d="M435.7 311.1h0M416.2 323.1h0M395.7 300.1h0M383.3 299.0h0M378.9 297.9h0M405.8 315.7h0M391.5 313.9h0M387.2 311.7h0M421.1 290.6h0M387.8 313.4h0M424.1 303.8h0M425.4 294.0h0M369.2 332.4h0M414.4 315.7h0M395.2 293.9h0M402.9 307.9h0M424.5 311.5h0M423.4 314.3h0M375.3 312.7h0M408.8 313.2h0M426.5 299.3h0M435.4 288.3h0M414.7 306.9h0M386.4 306.3h0M389.3 303.8h0M387.8 307.2h0M394.9 307.1h0M408.9 311.9h0M397.7 315.8h0M434.1 299.0h0M415.7 307.0h0M416.8 304.2h0M435.9 316.5h0M424.8 309.0h0M384.5 317.1h0M397.6 298.6h0M385.9 298.1h0M403.4 287.7h0M434.7 309.1h0M415.0 317.3h0M403.9 289.4h0M425.8 310.0h0M424.9 291.6h0M405.3 325.3h0M415.9 295.6h0M438.3 316.0h0M416.2 316.7h0M424.1 313.0h0M423.6 318.7h0M406.2 309.7h0M419.2 294.0h0M418.5 305.8h0M407.2 310.0h0M412.9 309.4h0M424.9 303.2h0M436.4 301.8h0M423.7 311.0h0M406.9 296.8h0M406.1 314.9h0M417.9 300.7h0M416.9 301.7h0M423.5 313.8h0M405.7 300.3h0M375.0 317.1h0M414.7 314.1h0M427.9 304.9h0M426.4 313.1h0M415.9 301.9h0M414.4 318.5h0M414.2 314.9h0M416.5 310.1h0M414.3 289.2h0M421.9 314.9h0M424.5 303.9h0M402.2 308.3h0M387.2 316.3h0M423.5 313.5h0M426.6 301.1h0M407.0 311.2h0M371.1 315.2h0M387.7 304.0h0M397.3 308.0h0M404.8 296.3h0M406.4 306.2h0M408.0 299.4h0M416.3 317.6h0M425.3 311.5h0M377.4 304.7h0M377.7 312.2h0M394.8 301.4h0M374.6 318.4h0M377.1 312.5h0M418.4 323.5h0M425.7 294.7h0M397.4 306.0h0M393.8 312.0h0M416.8 317.9h0M386.3 319.2h0M377.5 312.7h0M416.2 317.8h0M427.1 314.9h0M424.0 307.7h0M426.1 318.4h0M394.4 310.8h0M397.4 309.8h0M408.5 309.6h0M385.4 317.9h0M425.6 315.0h0M397.4 296.5h0M393.3 318.9h0M429.7 307.5h0M406.8 319.4h0M374.5 302.9h0M434.1 302.5h0M424.3 312.4h0M416.3 297.6h0M383.7 292.4h0M414.1 297.7h0M396.2 311.7h0M389.8 316.4h0M406.8 310.9h0M401.9 293.9h0M397.9 297.8h0M413.9 311.2h0M425.1 318.3h0M368.7 298.2h0M405.2 310.9h0M374.9 311.1h0M416.6 309.2h0M416.0 313.9h0M404.9 306.0h0M384.6 296.1h0M398.5 306.5h0M396.3 311.5h0M374.1 294.5h0M388.5 306.3h0M425.1 310.8h0M394.5 315.5h0M406.3 310.4h0M424.9 298.2h0M387.9 306.8h0M422.5 314.0h0M388.0 316.4h0M374.6 313.8h0M424.9 305.0h0M402.3 308.7h0M433.2 310.5h0M385.3 310.7h0M412.3 312.1h0M404.2 312.2h0M405.7 307.0h0M414.0 310.0h0M416.3 312.3h0M434.0 310.8h0M416.8 294.1h0M385.5 306.1h0M426.2 303.4h0M393.4 315.0h0M416.1 309.2h0M423.8 309.6h0M418.5 305.0h0" fill="none" stroke="#3b7dba" stroke-opacity="0.4" stroke-width="1.85" stroke-linecap="round"/>
<path d="M384.9 312.4h0M425.4 299.9h0M367.0 322.4h0M404.4 317.6h0M437.0 306.4h0M414.8 317.8h0M427.9 325.6h0M413.9 316.2h0M375.2 310.5h0M417.1 307.8h0M382.7 307.4h0M404.5 311.4h0M407.0 307.9h0M416.2 305.7h0M420.4 310.7h0M415.1 310.2h0M424.9 322.4h0M425.3 315.7h0M425.4 311.0h0M424.1 313.6h0M383.3 311.4h0M386.5 299.8h0M439.4 307.2h0M424.3 313.3h0M425.5 324.1h0M383.4 296.6h0M427.2 311.5h0M403.8 298.4h0M368.7 315.3h0M415.0 317.2h0M425.7 303.4h0M416.3 290.1h0M375.1 305.2h0M405.2 315.7h0M376.1 307.7h0M432.3 300.0h0M404.7 318.5h0M378.5 295.4h0M416.8 306.5h0M404.4 316.0h0M436.9 307.3h0M411.1 312.0h0M415.7 299.1h0M386.3 302.0h0M425.7 308.9h0M416.9 307.7h0M425.3 309.2h0M415.8 303.0h0M414.6 311.1h0M428.1 293.4h0M405.9 306.1h0M376.2 294.0h0M423.2 320.8h0M413.0 308.7h0M394.1 303.8h0M433.7 309.2h0M415.0 308.3h0M405.6 311.0h0M383.3 320.1h0M415.4 327.5h0M372.2 316.8h0M428.0 307.6h0M395.3 311.1h0M426.1 313.9h0M379.0 312.3h0M377.2 304.3h0M436.7 293.7h0M406.7 312.5h0M415.9 303.6h0M397.1 311.8h0M403.3 305.2h0M407.7 304.7h0M423.9 308.0h0M428.4 295.8h0M410.3 312.4h0M375.0 283.7h0M427.0 316.9h0M375.6 302.9h0M414.8 313.4h0M404.6 338.4h0M414.2 316.2h0M406.1 304.1h0M434.1 298.5h0M385.8 305.3h0M378.0 309.1h0M406.5 292.0h0M416.1 291.2h0M415.5 306.4h0M428.8 308.8h0M427.5 310.7h0M387.5 296.0h0M387.2 307.5h0M389.7 305.3h0M400.0 315.1h0M417.1 303.4h0M385.3 314.2h0M423.7 295.5h0M404.6 312.0h0M384.9 308.1h0M384.9 316.8h0M413.9 303.8h0M387.1 289.4h0M413.8 298.7h0M406.5 295.4h0M407.5 308.6h0M425.0 299.9h0M415.2 304.7h0M426.2 306.9h0M405.7 318.3h0M427.9 305.3h0M407.4 310.6h0M417.5 309.7h0M418.8 309.2h0M385.0 315.8h0M418.2 313.2h0M416.5 293.7h0M386.8 308.6h0M409.1 315.5h0M397.1 300.2h0M423.2 305.9h0M389.0 310.2h0M379.2 303.4h0M418.7 313.6h0M396.5 317.7h0M424.1 312.1h0M427.0 309.0h0M373.5 305.7h0M423.7 306.2h0M389.5 294.8h0M387.1 290.7h0M415.5 312.0h0M427.7 312.4h0M406.2 322.1h0M406.3 313.0h0M413.4 292.2h0M419.6 311.0h0M407.3 313.5h0M414.6 309.2h0M427.1 313.2h0M415.8 312.3h0M402.4 296.7h0M394.2 314.5h0M385.9 314.5h0M398.2 310.4h0M384.5 307.6h0M416.7 312.1h0M435.6 297.0h0M415.6 307.6h0M425.5 300.1h0M407.6 320.0h0M417.3 295.7h0M414.0 305.8h0M414.8 302.5h0M404.2 316.3h0M436.4 322.7h0M425.9 303.9h0M385.8 309.3h0M402.4 291.3h0M428.2 295.8h0M432.9 307.6h0M427.2 306.5h0" fill="none" stroke="#3b7dba" stroke-opacity="0.4" stroke-width="1.85" stroke-linecap="round"/>
<path d="M426.7 310.4h0M395.8 308.0h0M382.1 305.0h0M384.8 313.7h0M422.7 314.7h0M380.6 305.3h0M425.8 309.2h0M365.6 316.7h0M416.0 305.9h0M424.5 313.4h0M395.0 318.9h0M427.1 320.5h0M423.9 313.6h0M397.8 310.8h0M414.5 309.7h0M417.4 307.3h0M424.5 310.0h0M403.8 305.9h0M428.1 293.5h0M416.5 313.4h0M407.1 305.5h0M414.4 314.3h0M385.7 322.7h0M417.3 314.8h0M386.1 317.8h0M387.8 298.5h0M415.4 317.0h0M412.4 314.1h0M416.9 313.6h0M426.7 324.2h0M404.9 310.3h0M426.5 298.1h0M376.3 313.7h0M407.8 313.3h0M426.2 297.6h0M427.1 314.5h0M427.1 313.8h0M390.2 307.5h0M427.8 308.8h0M363.7 304.1h0M387.4 320.5h0M383.3 315.3h0M378.4 306.9h0M416.1 310.4h0M393.9 304.5h0M424.5 305.3h0M412.5 305.0h0M423.3 315.6h0M404.1 302.7h0M425.6 289.9h0M375.5 299.8h0M429.6 304.7h0M439.2 314.1h0M397.1 315.6h0M386.0 312.2h0M426.1 312.7h0M415.9 298.2h0M415.5 317.0h0M386.4 305.0h0M414.6 303.4h0M392.3 295.7h0M407.3 320.7h0M374.4 316.2h0M414.9 302.3h0M415.0 312.6h0M366.2 313.9h0M375.2 309.8h0M424.0 299.5h0M416.8 305.6h0M403.2 311.3h0M406.9 290.1h0M396.2 292.9h0M425.8 298.8h0M385.8 328.4h0M416.7 311.2h0M426.2 304.1h0M424.2 290.6h0M423.8 315.5h0M376.2 300.7h0M426.7 287.9h0M397.0 318.8h0M387.9 314.7h0M416.4 309.5h0M415.0 314.5h0M405.2 308.5h0M426.9 306.7h0M387.5 292.6h0M413.4 313.3h0M416.0 318.2h0M403.0 313.6h0M415.4 312.8h0M385.1 320.6h0M426.2 318.8h0M404.0 313.1h0M433.3 298.6h0M415.3 305.3h0M418.0 311.7h0M403.4 296.7h0M397.3 314.4h0M426.4 300.5h0M372.9 313.9h0M414.7 306.5h0M437.5 310.2h0M404.5 308.9h0M424.8 311.0h0M425.2 314.4h0M426.7 302.4h0M405.2 328.9h0M414.9 312.9h0M421.2 308.3h0M423.7 288.3h0M387.2 307.3h0M426.9 305.8h0M414.4 320.2h0M413.3 320.2h0M386.7 307.4h0M413.6 292.6h0M414.9 305.7h0M405.2 303.8h0M426.4 308.5h0M433.0 305.6h0M414.7 298.7h0M396.4 284.0h0M415.3 309.7h0M405.3 300.9h0M434.0 307.3h0M405.8 313.3h0M423.5 315.1h0M384.7 316.6h0M423.7 304.1h0M383.5 316.4h0M415.7 310.4h0M384.4 314.5h0M425.8 295.5h0M377.6 324.1h0M407.3 321.7h0M385.7 296.2h0M415.6 307.2h0M414.5 308.6h0M435.7 307.9h0M425.4 299.7h0M383.7 310.6h0M416.0 306.9h0M383.5 304.0h0M396.0 324.4h0M433.6 325.7h0M376.7 319.7h0M404.9 310.5h0M428.0 317.0h0M426.4 309.6h0M397.2 312.1h0M423.6 305.5h0M412.1 304.5h0M397.4 297.0h0M398.4 312.8h0M427.1 311.2h0M385.7 302.0h0M427.5 304.8h0M397.9 300.1h0M411.2 307.6h0M437.6 315.0h0" fill="none" stroke="#3b7dba" stroke-opacity="0.4" stroke-width="1.85" stroke-linecap="round"/>
<path d="M398.1 298.5h0M425.4 299.1h0M418.6 306.6h0M406.1 315.4h0M427.7 312.6h0M433.7 307.4h0M416.1 301.6h0M388.0 310.0h0M417.1 293.3h0M435.4 303.2h0M413.9 292.2h0M426.0 312.8h0M417.9 311.2h0M426.5 318.6h0M394.7 307.7h0M397.9 304.8h0M425.9 323.1h0M416.2 307.6h0M407.5 318.9h0M396.9 302.2h0M376.5 297.3h0M375.5 306.6h0M415.5 300.6h0M406.8 300.4h0M425.1 301.4h0M425.7 302.7h0M394.8 324.3h0M415.2 287.7h0M425.7 305.5h0M419.5 305.9h0M416.6 314.9h0M395.1 312.2h0M416.1 302.7h0M415.2 311.6h0M426.8 310.4h0M414.8 308.6h0M395.0 306.9h0M427.6 303.7h0M385.0 311.0h0M428.5 314.6h0M396.5 325.3h0M364.4 320.4h0M380.6 318.4h0M425.8 305.3h0M405.3 304.9h0M425.4 302.2h0M416.8 320.8h0M396.1 312.8h0M412.8 313.9h0M404.2 311.9h0M403.7 314.8h0M434.6 299.1h0M426.8 303.5h0M412.1 308.2h0M397.6 302.9h0M429.3 301.7h0M385.9 310.9h0M375.9 314.7h0M433.8 310.2h0M385.9 316.1h0M416.4 310.5h0M404.5 296.0h0M423.7 309.9h0M413.6 316.0h0M413.0 310.1h0M386.6 299.8h0M395.6 313.6h0M416.6 301.9h0M423.0 307.9h0M426.6 306.4h0M377.1 308.2h0M385.5 307.7h0M404.6 311.9h0M419.3 319.9h0M396.0 300.4h0M413.8 317.9h0M421.4 301.8h0M416.4 310.2h0M375.5 298.3h0M365.4 316.6h0M413.5 291.5h0M415.2 313.8h0M376.9 290.8h0M375.3 309.8h0M418.2 310.3h0M415.3 294.7h0M411.3 307.3h0M435.6 316.0h0M415.4 305.6h0M385.8 309.5h0M412.7 295.3h0M418.3 315.6h0M425.9 291.7h0M421.7 307.9h0M384.2 302.9h0M404.5 314.2h0M394.3 307.4h0M405.6 314.8h0M385.3 309.3h0M418.4 311.7h0M375.2 316.0h0M413.4 311.7h0M425.6 312.1h0M426.0 313.8h0M417.3 295.6h0M414.2 307.5h0M424.2 309.1h0M414.3 318.0h0M416.5 298.7h0M435.2 309.8h0M435.9 304.8h0M434.2 313.9h0M435.3 303.2h0M425.6 302.1h0M395.1 303.5h0M375.4 283.8h0M405.1 315.1h0M389.8 308.2h0M427.1 311.4h0M426.9 316.5h0M385.6 311.7h0M427.1 313.9h0M414.4 308.3h0M425.9 293.1h0M383.9 315.4h0M386.3 312.6h0M416.2 295.7h0M416.0 300.4h0M435.3 309.7h0M406.3 300.1h0M414.1 310.4h0M383.3 311.1h0M434.2 323.5h0M424.9 307.1h0M386.3 298.3h0M385.4 313.1h0M415.0 314.3h0M394.7 329.8h0M415.3 309.0h0M421.0 314.9h0M415.0 321.9h0M424.4 318.6h0M398.2 316.1h0M425.0 307.1h0M409.1 310.8h0M424.8 302.2h0M393.6 311.5h0M412.9 313.3h0M432.1 316.6h0M428.1 308.4h0M384.6 299.4h0M385.6 313.0h0M427.7 317.3h0M393.9 307.0h0M383.8 311.0h0M406.8 296.1h0M380.0 314.7h0M432.4 295.9h0M383.8 320.9h0M385.4 315.4h0M385.7 342.5h0" fill="none" stroke="#3b7dba" stroke-opacity="0.4" stroke-width="1.85" stroke-linecap="round"/>
<path d="M396.9 311.9h0M419.5 306.5h0M407.7 305.7h0M426.7 299.8h0M387.7 308.9h0M416.0 306.7h0M404.9 311.5h0M435.1 307.8h0M427.6 305.9h0M385.7 322.3h0M435.5 321.0h0M429.9 304.3h0M387.7 313.0h0M396.4 325.6h0M425.2 319.8h0M417.2 309.8h0M393.9 322.3h0M424.6 307.8h0M424.8 310.2h0M387.3 310.5h0M387.2 314.2h0M366.1 315.5h0M426.4 314.9h0M413.5 308.3h0M422.5 319.3h0M396.5 328.6h0M386.6 305.0h0M434.5 312.2h0M377.0 320.3h0M375.8 311.1h0M404.6 312.4h0M415.4 299.0h0M404.7 307.6h0M377.7 298.0h0M381.2 309.4h0M423.5 303.2h0M429.7 315.9h0M394.9 300.2h0M365.9 314.8h0M399.1 297.3h0M384.6 311.2h0M373.2 295.4h0M434.9 294.7h0M425.0 313.2h0M393.8 311.8h0M393.6 303.1h0M429.5 301.8h0M396.6 312.6h0M394.1 309.3h0M427.1 311.0h0M407.6 318.4h0M385.3 307.0h0M434.7 306.8h0M404.0 303.9h0M416.2 312.8h0M417.7 317.6h0M421.4 289.4h0M417.0 305.4h0M407.6 315.3h0M423.2 282.8h0M395.2 315.9h0M423.4 319.1h0M425.2 313.6h0M418.1 302.0h0M383.5 321.5h0M423.9 316.8h0M374.7 315.7h0M405.2 310.3h0M405.6 302.2h0M404.2 318.9h0M414.8 310.9h0M426.4 320.4h0M383.0 309.5h0M384.0 310.8h0M414.1 301.1h0M394.4 306.2h0M415.8 303.2h0M386.7 301.5h0M374.9 301.2h0M385.5 301.8h0M409.3 294.5h0M434.5 308.8h0M425.2 324.3h0M424.7 299.1h0M374.6 319.2h0M406.0 305.3h0M373.1 312.4h0M384.7 319.1h0M388.2 315.5h0M374.8 305.5h0M387.1 306.4h0M386.0 314.5h0M425.3 302.1h0M376.7 299.9h0M405.9 299.9h0M436.5 304.1h0M400.5 316.0h0M384.7 302.6h0M423.7 307.9h0M402.6 312.6h0M363.7 311.7h0M435.3 314.6h0M386.7 313.4h0M398.8 306.6h0M407.0 299.3h0M376.1 308.7h0M403.4 302.9h0M415.4 313.2h0M375.2 308.8h0M384.8 311.6h0M389.1 312.2h0M405.3 320.6h0M408.0 322.4h0M374.6 322.9h0M405.4 309.6h0M377.6 304.6h0M398.8 303.5h0M364.9 305.8h0M437.1 310.1h0M407.4 299.5h0M425.4 320.4h0M417.4 315.2h0M383.2 313.6h0M405.9 302.3h0M415.8 319.3h0M408.6 311.3h0M405.6 295.9h0M432.4 310.3h0M417.2 304.9h0M388.4 315.0h0M404.8 317.0h0M406.4 316.3h0M406.3 312.9h0M406.3 300.8h0M376.3 309.8h0M373.9 316.0h0M426.7 319.1h0M394.1 319.1h0M367.2 314.0h0M388.3 310.5h0M435.2 298.2h0M372.6 317.2h0M405.3 307.3h0M427.5 298.5h0M418.0 304.1h0M385.5 317.8h0M413.9 308.7h0M392.8 301.3h0M434.1 315.9h0M403.6 306.5h0M376.4 311.8h0M424.4 315.2h0M424.7 317.0h0M396.5 314.1h0M407.1 310.1h0M395.9 318.6h0M374.9 290.8h0M385.8 311.8h0M396.2 308.7h0M416.0 314.2h0" fill="none" stroke="#3b7dba" stroke-opacity="0.4" stroke-width="1.85" stroke-linecap="round"/>
<path d="M363.8 308.6 L400.70000000000005 307.5 L437.6 305.09999999999997 L437.6 308.7 L400.70000000000005 308.70000000000005 L363.8 310.0Z" fill="#8a8a8a" fill-opacity="0.42"/>
<path d="M363.8 309.3 L437.6 306.9" stroke="#5e5e5e" stroke-width="0.95"/>
<text x="400.50" y="364.10" font-size="9.66" font-weight="normal" text-anchor="middle" fill="#000" >ESPAD Drink Five More</text>
<text x="418.60" y="268.80" font-size="9.5" font-weight="normal" text-anchor="start" fill="#000" ><tspan font-style="italic">r</tspan> = 0.07</text>
<text x="418.60" y="280.20" font-size="9.5" font-weight="normal" text-anchor="start" fill="#000" ><tspan font-style="italic">p</tspan> = 0.01</text>
<rect x="508.1" y="267.2" width="92.50" height="82.00" fill="#ebebeb"/>
<path d="M518.38 267.2V349.2M528.66 267.2V349.2M538.93 267.2V349.2M549.21 267.2V349.2M559.49 267.2V349.2M569.77 267.2V349.2M580.04 267.2V349.2M590.32 267.2V349.2M508.1 276.20H600.6M508.1 288.23H600.6M508.1 300.27H600.6M508.1 312.30H600.6M508.1 324.33H600.6M508.1 336.37H600.6M508.1 348.40H600.6" stroke="#fff" stroke-width="0.55" fill="none" opacity="0.6"/>
<text x="508.10" y="353.80" font-size="4.25" font-weight="normal" text-anchor="middle" fill="#111" >-5</text>
<text x="518.38" y="353.80" font-size="4.25" font-weight="normal" text-anchor="middle" fill="#111" >-4</text>
<text x="528.66" y="353.80" font-size="4.25" font-weight="normal" text-anchor="middle" fill="#111" >-3</text>
<text x="538.93" y="353.80" font-size="4.25" font-weight="normal" text-anchor="middle" fill="#111" >-2</text>
<text x="549.21" y="353.80" font-size="4.25" font-weight="normal" text-anchor="middle" fill="#111" >-1</text>
<text x="559.49" y="353.80" font-size="4.25" font-weight="normal" text-anchor="middle" fill="#111" >0</text>
<text x="569.77" y="353.80" font-size="4.25" font-weight="normal" text-anchor="middle" fill="#111" >1</text>
<text x="580.04" y="353.80" font-size="4.25" font-weight="normal" text-anchor="middle" fill="#111" >2</text>
<text x="590.32" y="353.80" font-size="4.25" font-weight="normal" text-anchor="middle" fill="#111" >3</text>
<text x="600.60" y="353.80" font-size="4.25" font-weight="normal" text-anchor="middle" fill="#111" >4</text>
<text x="505.20" y="277.60" font-size="4.25" font-weight="normal" text-anchor="end" fill="#111" >0.3</text>
<text x="505.20" y="289.63" font-size="4.25" font-weight="normal" text-anchor="end" fill="#111" >0.2</text>
<text x="505.20" y="301.67" font-size="4.25" font-weight="normal" text-anchor="end" fill="#111" >0.1</text>
<text x="505.20" y="313.70" font-size="4.25" font-weight="normal" text-anchor="end" fill="#111" >0</text>
<text x="505.20" y="325.73" font-size="4.25" font-weight="normal" text-anchor="end" fill="#111" >-0.1</text>
<text x="505.20" y="337.77" font-size="4.25" font-weight="normal" text-anchor="end" fill="#111" >-0.2</text>
<text x="505.20" y="349.80" font-size="4.25" font-weight="normal" text-anchor="end" fill="#111" >-0.3</text>
<path d="M578.9 314.7h0M569.4 324.1h0M571.7 309.6h0M529.5 311.1h0M538.3 307.6h0M569.5 311.2h0M562.6 320.7h0M558.0 314.5h0M549.1 318.4h0M559.5 324.3h0M582.0 304.9h0M581.5 318.9h0M538.8 324.3h0M551.6 320.7h0M568.6 306.3h0M562.3 315.1h0M527.1 311.9h0M580.1 325.9h0M569.1 307.8h0M570.5 298.7h0M557.8 310.2h0M579.2 309.6h0M583.3 315.4h0M578.8 314.1h0M546.8 320.3h0M571.6 301.6h0M540.0 303.4h0M549.7 296.5h0M577.9 313.4h0M549.2 297.9h0M558.6 311.0h0M527.8 314.1h0M571.0 308.9h0M589.0 311.3h0M578.4 324.1h0M561.1 314.1h0M571.6 311.8h0M570.1 318.2h0M570.2 323.9h0M530.5 326.2h0M529.8 317.9h0M591.0 324.3h0M578.1 310.4h0M560.8 322.7h0M570.0 321.6h0M561.0 314.4h0M572.2 308.3h0M539.9 306.7h0M536.6 317.9h0M561.3 315.9h0M564.5 316.8h0M546.8 314.1h0M567.7 322.1h0M559.4 311.3h0M581.5 325.8h0M580.3 303.6h0M589.0 318.5h0M534.9 319.9h0M550.5 334.1h0M581.8 306.2h0M581.2 313.7h0M529.5 304.4h0M583.7 308.2h0M551.9 305.8h0M570.3 298.4h0M560.2 317.7h0M541.7 312.8h0M581.4 302.7h0M538.8 316.5h0M574.0 320.8h0M570.9 318.3h0M588.8 323.6h0M552.8 314.9h0M571.2 317.8h0M540.6 322.9h0M569.9 303.6h0M527.7 302.7h0M560.6 315.9h0M577.7 307.8h0M550.7 309.5h0M539.3 311.9h0M583.9 318.2h0M593.3 305.4h0M572.5 318.8h0M591.2 303.9h0M538.3 307.6h0M591.5 310.9h0M557.5 312.5h0M580.6 308.8h0M573.5 308.8h0M549.2 321.7h0M528.1 319.7h0M572.9 308.1h0M551.9 312.0h0M537.8 320.9h0M556.2 321.6h0M573.0 322.7h0M578.1 308.0h0M555.9 311.4h0M537.3 305.2h0M539.8 317.1h0M555.5 311.8h0M571.0 310.0h0M580.9 319.1h0M541.5 328.3h0M547.1 316.7h0M528.5 318.3h0M582.8 321.7h0M581.7 302.4h0M559.0 319.0h0M550.3 311.7h0M571.8 312.4h0M530.4 326.5h0M561.8 324.2h0M539.2 315.5h0M551.2 306.7h0M568.2 321.4h0M577.6 315.1h0M549.5 310.4h0M571.6 316.3h0M526.7 307.9h0M526.6 301.8h0M570.0 307.6h0M549.6 327.6h0M590.8 309.1h0M570.7 311.4h0M562.0 316.9h0M570.3 327.3h0M563.4 325.5h0M526.6 317.0h0M572.4 320.2h0M550.0 329.9h0M526.5 318.6h0M538.6 316.4h0M581.6 321.0h0M581.4 318.2h0M560.9 308.2h0M572.1 312.7h0M551.8 317.9h0M560.4 307.8h0M527.4 314.7h0M569.0 324.6h0M537.4 323.8h0M550.5 322.3h0M590.1 319.0h0M590.5 310.6h0M570.1 305.9h0M543.9 309.6h0M580.6 317.8h0M569.1 322.0h0M580.1 307.9h0M582.8 323.4h0M572.8 310.9h0M528.4 319.6h0M567.6 323.6h0M568.5 321.3h0M531.4 318.9h0M570.7 291.6h0M561.3 308.3h0M573.2 311.2h0M530.3 325.6h0M583.7 312.8h0" fill="none" stroke="#50bb40" stroke-opacity="0.4" stroke-width="1.85" stroke-linecap="round"/>
<path d="M542.8 311.0h0M558.1 318.8h0M540.7 313.5h0M570.3 322.3h0M549.7 308.3h0M560.9 313.9h0M573.5 334.7h0M588.5 324.4h0M573.7 319.6h0M569.9 318.4h0M583.0 321.0h0M541.4 306.7h0M530.9 322.9h0M580.7 310.6h0M558.4 315.2h0M589.0 296.5h0M538.2 319.0h0M582.9 305.1h0M588.7 305.3h0M538.0 326.4h0M538.4 321.7h0M571.3 311.7h0M568.7 315.3h0M519.6 324.6h0M570.6 311.4h0M556.8 309.9h0M530.8 329.2h0M554.1 313.1h0M537.0 309.6h0M537.9 327.1h0M537.8 322.5h0M583.5 312.8h0M529.6 317.6h0M554.0 317.3h0M539.6 291.5h0M583.2 314.0h0M559.9 314.9h0M579.4 314.8h0M547.0 319.8h0M542.4 303.8h0M529.5 325.6h0M522.3 309.3h0M538.8 320.4h0M583.0 316.6h0M571.3 317.4h0M549.8 330.6h0M549.5 321.3h0M538.9 305.4h0M583.4 318.9h0M580.6 310.4h0M540.2 312.4h0M562.2 312.5h0M570.3 323.9h0M581.2 316.7h0M530.2 304.2h0M567.9 311.6h0M561.2 321.2h0M568.5 311.5h0M561.4 323.8h0M541.0 316.0h0M583.3 324.1h0M560.5 322.2h0M581.5 321.2h0M580.8 320.5h0M572.5 320.7h0M583.5 316.6h0M537.9 308.4h0M574.0 317.0h0M574.0 316.3h0M591.0 312.7h0M580.9 318.7h0M528.0 322.4h0M552.7 310.8h0M572.1 316.5h0M529.6 321.9h0M535.8 317.9h0M560.2 313.1h0M539.2 304.9h0M567.2 307.6h0M517.5 313.7h0M550.7 315.0h0M590.6 304.6h0M538.2 326.5h0M572.2 327.7h0M562.0 324.5h0M570.5 321.1h0M580.0 322.6h0M548.0 313.7h0M592.5 305.6h0M572.1 335.5h0M559.1 320.6h0M559.3 317.9h0M525.4 317.1h0M573.1 319.5h0M568.9 328.4h0M593.8 319.5h0M589.6 314.3h0M538.3 309.4h0M547.2 314.4h0M590.6 320.0h0M540.7 314.6h0M567.7 318.1h0M571.7 303.0h0M594.7 304.2h0M558.4 315.8h0M582.4 317.8h0M532.9 313.8h0M547.9 322.1h0M539.5 319.6h0M557.7 319.6h0M560.8 316.1h0M570.7 303.6h0M580.4 309.2h0M538.7 312.4h0M542.2 320.6h0M537.1 316.3h0M569.8 312.3h0M571.2 314.9h0M530.8 327.6h0M538.2 324.0h0M560.4 315.3h0M578.4 314.3h0M563.3 315.5h0M521.5 319.4h0M581.3 306.1h0M563.5 307.5h0M558.3 327.0h0M588.5 318.4h0M570.1 316.4h0M580.9 317.5h0M550.4 312.9h0M539.9 321.9h0M551.7 318.1h0M578.8 327.3h0M589.9 329.6h0M571.6 315.4h0M559.0 316.4h0M529.1 313.9h0M569.0 314.5h0M539.2 314.7h0M589.9 315.7h0M578.8 319.5h0M580.1 324.0h0M528.5 326.9h0M541.6 309.4h0M537.8 313.2h0M549.6 327.1h0M579.6 312.2h0M568.9 313.2h0M579.8 309.9h0M563.9 318.0h0M518.8 303.1h0M570.7 316.9h0M571.4 316.3h0M571.3 312.0h0M550.5 319.8h0M582.9 301.9h0M546.6 310.8h0M542.3 316.7h0M560.4 320.9h0M559.8 322.9h0" fill="none" stroke="#50bb40" stroke-opacity="0.4" stroke-width="1.85" stroke-linecap="round"/>
<path d="M541.8 310.8h0M548.4 314.7h0M527.7 318.2h0M580.9 306.5h0M572.0 309.6h0M569.2 307.9h0M549.5 312.1h0M588.5 324.4h0M537.2 311.2h0M539.6 313.7h0M571.3 310.5h0M569.3 313.3h0M590.0 300.4h0M591.3 312.2h0M583.7 303.5h0M549.1 320.6h0M538.7 316.8h0M547.9 325.6h0M579.8 316.5h0M569.1 302.7h0M580.9 326.4h0M570.6 324.3h0M590.4 313.6h0M558.8 312.0h0M590.3 318.9h0M517.4 314.3h0M582.7 322.2h0M583.2 296.5h0M591.5 306.0h0M579.3 303.2h0M570.4 310.9h0M567.1 317.2h0M578.4 328.0h0M548.9 305.9h0M569.4 311.8h0M591.3 313.1h0M535.3 302.0h0M548.9 314.6h0M573.8 320.6h0M568.8 325.8h0M583.6 315.9h0M568.6 318.3h0M580.4 317.0h0M523.4 324.9h0M582.2 313.3h0M580.0 313.9h0M536.0 324.7h0M577.0 320.6h0M589.9 306.6h0M550.3 317.7h0M548.9 325.5h0M559.4 304.9h0M561.4 305.4h0M580.8 304.1h0M573.4 324.9h0M578.1 323.7h0M569.3 309.5h0M539.9 297.5h0M580.9 325.5h0M549.1 329.2h0M531.1 318.3h0M576.1 308.3h0M589.1 304.7h0M537.2 299.8h0M560.6 305.0h0M527.8 318.7h0M570.0 325.6h0M528.0 310.6h0M537.3 314.2h0M537.5 310.7h0M578.8 314.7h0M570.7 310.5h0M559.9 310.7h0M581.5 312.5h0M579.1 308.4h0M591.3 304.5h0M562.5 311.0h0M571.4 310.5h0M560.6 322.9h0M528.5 310.7h0M580.6 307.2h0M560.1 316.6h0M569.2 318.3h0M532.1 322.7h0M579.0 315.8h0M577.2 319.3h0M551.4 306.0h0M525.0 316.1h0M562.3 318.2h0M540.6 316.1h0M580.9 321.6h0M524.9 315.6h0M568.2 303.5h0M580.7 316.5h0M528.6 304.9h0M560.7 320.5h0M570.2 313.5h0M550.1 319.3h0M561.1 314.8h0M591.2 304.6h0M591.5 317.2h0M580.2 316.0h0M579.0 320.3h0M548.5 310.6h0M565.7 325.1h0M582.2 317.1h0M570.7 309.5h0M568.9 319.6h0M541.2 317.5h0M589.5 315.8h0M579.0 320.5h0M579.1 311.4h0M528.3 307.4h0M557.5 323.0h0M540.8 319.7h0M519.1 303.4h0M580.5 320.7h0M584.0 314.2h0M569.7 311.8h0M548.9 321.0h0M559.6 310.9h0M581.6 313.8h0M528.9 317.9h0M581.5 311.3h0M569.2 312.2h0M562.1 304.4h0M549.8 321.6h0M579.5 306.3h0M571.1 314.9h0M528.1 315.5h0M549.7 307.5h0M569.1 301.5h0M563.1 320.2h0M537.3 314.7h0M568.7 327.7h0M547.7 313.6h0M581.8 308.9h0M573.8 331.4h0M516.8 318.2h0M581.4 302.8h0M537.5 317.0h0M579.9 299.5h0M551.1 319.2h0M528.5 324.7h0M583.2 313.0h0M579.5 315.3h0M559.8 310.1h0M572.7 314.6h0M569.2 318.2h0M579.2 322.4h0M572.5 302.9h0M558.4 317.5h0M562.9 317.1h0M540.0 304.1h0M577.3 310.7h0M560.1 324.2h0M527.7 324.7h0M569.2 312.5h0M566.5 315.1h0M550.8 322.6h0M537.5 321.3h0" fill="none" stroke="#50bb40" stroke-opacity="0.4" stroke-width="1.85" stroke-linecap="round"/>
<path d="M535.7 316.6h0M542.0 318.6h0M529.2 331.7h0M549.8 303.0h0M593.0 328.3h0M529.0 314.2h0M549.4 320.5h0M583.1 312.5h0M582.1 327.1h0M579.4 312.8h0M540.2 310.6h0M541.1 313.3h0M561.1 318.8h0M548.2 322.4h0M537.9 314.5h0M580.6 309.7h0M580.8 324.3h0M542.7 313.7h0M539.3 321.4h0M540.0 303.9h0M534.9 317.3h0M528.6 323.3h0M579.6 315.9h0M552.8 313.3h0M550.1 315.4h0M528.4 312.2h0M550.4 328.0h0M549.7 320.1h0M579.5 314.7h0M569.3 308.9h0M586.0 305.0h0M561.9 298.5h0M582.1 293.4h0M538.5 318.7h0M530.0 318.7h0M560.3 318.7h0M537.9 325.3h0M559.4 323.3h0M567.3 312.4h0M518.8 312.6h0M537.3 313.2h0M549.3 302.3h0M561.7 306.8h0M561.2 327.3h0M521.6 311.7h0M579.9 321.6h0M543.5 311.4h0M570.1 311.6h0M589.9 318.2h0M560.0 319.9h0M548.8 312.1h0M571.9 321.0h0M529.6 311.6h0M561.2 319.3h0M560.9 321.3h0M538.3 311.0h0M582.9 317.5h0M530.6 309.4h0M570.9 316.6h0M532.3 320.6h0M581.3 315.3h0M561.3 317.3h0M558.7 315.2h0M558.3 310.6h0M518.8 311.4h0M570.4 307.6h0M561.6 318.3h0M559.0 323.8h0M573.4 331.4h0M539.9 312.9h0M530.0 295.1h0M539.5 315.2h0M590.5 318.6h0M549.4 307.4h0M582.1 318.4h0M581.6 320.7h0M572.1 317.2h0M580.6 322.3h0M577.6 305.9h0M540.0 311.6h0M588.7 321.0h0M580.5 327.2h0M560.7 317.9h0M560.5 307.7h0M579.5 322.3h0M528.9 320.1h0M559.0 302.7h0M583.0 320.6h0M570.1 325.3h0M531.4 322.2h0M583.6 321.5h0M590.9 300.0h0M552.7 308.8h0M530.4 327.5h0M581.4 317.4h0M541.8 318.0h0M578.7 317.8h0M574.1 315.9h0M570.2 305.6h0M569.7 302.5h0M584.8 314.6h0M568.9 316.5h0M580.1 314.7h0M580.8 306.3h0M580.5 322.1h0M548.5 333.3h0M551.7 314.3h0M580.4 316.3h0M580.9 309.7h0M571.0 321.6h0M566.5 315.0h0M581.7 308.8h0M581.3 324.6h0M572.6 315.7h0M586.4 301.2h0M579.3 308.9h0M582.3 324.8h0M580.7 311.2h0M529.5 316.2h0M580.0 315.7h0M558.6 316.1h0M561.5 316.3h0M539.5 320.0h0M570.7 316.6h0M550.9 301.8h0M583.1 316.2h0M550.0 324.9h0M538.3 305.5h0M571.3 317.9h0M591.5 319.0h0M559.9 310.4h0M572.4 312.5h0M537.0 318.0h0M588.4 306.0h0M556.1 317.3h0M584.5 318.7h0M560.5 309.7h0M569.8 317.1h0M539.0 324.1h0M584.4 304.0h0M527.2 314.1h0M552.7 310.3h0M581.5 325.0h0M580.6 315.2h0M580.4 311.8h0M540.0 310.5h0M580.0 317.2h0M538.8 316.4h0M547.1 318.4h0M548.5 310.9h0M591.0 295.5h0M588.4 326.9h0M570.5 324.1h0M568.5 320.1h0M582.1 325.0h0M582.2 321.8h0M578.2 318.9h0M569.2 310.1h0M549.9 319.8h0M585.8 316.9h0M577.7 299.8h0" fill="none" stroke="#50bb40" stroke-opacity="0.4" stroke-width="1.85" stroke-linecap="round"/>
<path d="M560.3 298.4h0M560.0 323.3h0M549.4 312.1h0M559.7 308.9h0M579.8 310.5h0M567.5 317.1h0M568.7 327.0h0M550.1 323.3h0M571.1 310.6h0M538.4 317.9h0M540.4 320.8h0M578.0 327.2h0M569.1 323.0h0M539.0 318.3h0M561.9 317.5h0M581.5 305.2h0M517.2 311.5h0M571.5 318.9h0M571.5 316.6h0M561.5 314.5h0M571.2 310.7h0M538.6 320.8h0M541.3 313.2h0M561.9 320.4h0M558.3 304.4h0M556.8 324.7h0M562.1 317.6h0M569.2 316.3h0M572.9 315.6h0M552.0 302.2h0M540.4 305.5h0M535.9 310.9h0M571.3 315.6h0M552.9 302.9h0M561.9 335.7h0M568.7 317.2h0M579.6 310.8h0M579.8 321.7h0M589.2 316.1h0M561.6 335.1h0M551.3 317.4h0M552.1 300.9h0M580.9 315.9h0M570.1 301.4h0M560.3 313.2h0M519.1 331.3h0M529.3 319.7h0M570.1 306.5h0M582.0 322.0h0M588.3 299.4h0M583.6 313.7h0M571.7 307.6h0M529.8 316.9h0M572.3 302.2h0M581.0 321.1h0M589.5 314.0h0M590.9 310.1h0M581.1 303.6h0M520.2 309.8h0M570.0 337.5h0M558.9 298.1h0M581.1 313.9h0M569.1 323.2h0M520.0 310.6h0M588.5 307.1h0M559.9 320.5h0M529.6 313.0h0M549.7 319.7h0M560.0 317.8h0M541.1 303.3h0M581.4 307.5h0M572.9 327.4h0M559.3 314.2h0M581.1 300.4h0M579.0 316.5h0M581.6 314.2h0M556.3 321.4h0M555.7 316.7h0M580.5 301.8h0M547.6 315.9h0M579.2 315.1h0M582.5 314.1h0M576.5 307.4h0M580.0 313.5h0M550.8 314.5h0M582.4 314.1h0M559.3 311.0h0M569.6 317.6h0M579.8 320.4h0M543.5 333.9h0M559.9 306.6h0M542.2 307.7h0M569.2 321.0h0M585.1 298.8h0M582.9 315.8h0M570.9 303.8h0M556.5 304.5h0M519.4 326.1h0M539.6 321.0h0M557.9 320.5h0M567.9 322.3h0M539.2 304.6h0M592.3 310.7h0M589.3 315.7h0M531.8 322.7h0M547.9 322.5h0M542.3 316.6h0M560.5 302.1h0M579.0 310.7h0M567.5 319.6h0M583.6 312.1h0M589.7 322.9h0M537.2 316.0h0M582.9 322.2h0M571.4 313.2h0M560.1 300.1h0M568.2 304.3h0M550.5 316.4h0M571.4 318.5h0M589.8 320.7h0M590.9 321.4h0M582.5 320.1h0M537.9 310.9h0M569.4 311.4h0M569.2 322.3h0M570.0 294.8h0M587.3 320.1h0M578.1 304.5h0M568.0 308.3h0M579.4 322.7h0M561.2 309.9h0M588.8 315.1h0M581.5 332.4h0M579.0 311.2h0M581.7 325.7h0M536.9 303.5h0M570.6 316.5h0M589.9 310.5h0M549.8 313.3h0M573.4 331.2h0M571.4 312.0h0M579.5 317.9h0M570.8 310.4h0M557.4 317.1h0M551.9 311.8h0M571.2 315.2h0M571.4 311.5h0M580.2 317.8h0M591.2 308.8h0M520.0 319.6h0M570.8 320.2h0M570.6 318.7h0M537.5 318.6h0M550.3 306.8h0M540.4 307.1h0M591.0 321.7h0M580.1 302.4h0M547.4 317.8h0M581.2 314.3h0M581.3 311.5h0M539.0 309.5h0" fill="none" stroke="#50bb40" stroke-opacity="0.4" stroke-width="1.85" stroke-linecap="round"/>
<path d="M561.1 304.9h0M550.9 307.6h0M590.8 310.8h0M566.5 305.6h0M539.9 303.1h0M542.4 323.6h0M531.1 317.5h0M528.7 309.1h0M581.4 312.3h0M548.8 315.8h0M549.4 318.6h0M570.3 321.5h0M577.9 321.1h0M570.4 310.0h0M570.5 299.1h0M588.7 308.7h0M574.1 312.5h0M548.1 324.0h0M558.8 320.8h0M580.4 303.4h0M591.7 319.3h0M579.4 302.3h0M548.7 323.5h0M579.7 315.8h0M567.2 324.7h0M528.5 321.7h0M559.4 333.8h0M579.1 304.9h0M572.0 316.3h0M582.2 321.5h0M570.8 323.6h0M538.9 317.8h0M580.2 325.9h0M581.0 321.8h0M539.2 315.5h0M525.5 324.2h0M570.6 314.6h0M549.5 318.8h0M541.9 320.8h0M567.4 318.7h0M566.7 327.5h0M550.0 319.0h0M530.3 325.5h0M577.6 316.2h0M559.2 310.1h0M570.6 313.0h0M569.5 320.6h0M590.8 299.9h0M571.2 325.1h0M514.9 315.5h0M581.1 326.7h0M538.7 305.9h0M570.7 300.8h0M547.6 306.5h0M568.5 311.4h0M569.1 312.3h0M577.5 329.4h0M558.0 321.1h0M547.0 311.4h0M548.6 307.7h0M569.3 319.7h0M537.5 310.8h0M567.8 318.9h0M573.0 314.3h0M553.6 311.3h0M579.1 309.6h0M588.1 319.3h0M580.9 316.1h0M578.5 327.1h0M590.5 320.6h0M570.3 295.0h0M552.5 310.6h0M578.8 312.6h0M571.5 314.5h0M582.8 309.7h0M567.5 319.3h0M539.2 310.5h0M571.3 315.1h0M580.7 301.3h0M570.1 331.3h0M579.4 331.7h0M569.4 311.1h0M539.0 314.7h0M527.2 317.2h0M558.6 316.4h0M581.3 311.9h0M563.5 313.2h0M577.4 320.8h0M538.6 319.0h0M582.7 318.6h0M559.1 306.3h0M530.3 335.9h0M572.6 320.0h0M556.9 315.9h0M572.3 305.6h0M570.6 320.4h0M571.8 317.9h0M542.4 324.0h0M550.0 322.4h0M571.1 308.8h0M530.9 312.9h0M570.7 310.7h0M569.8 317.4h0M538.0 320.2h0M520.9 326.2h0M561.0 310.3h0M549.0 318.5h0M538.8 303.7h0M529.5 309.1h0M581.1 315.6h0M528.4 301.6h0M521.1 322.8h0M581.2 307.0h0M563.0 328.1h0M537.9 321.1h0M570.4 306.4h0M550.0 328.4h0M570.1 328.6h0M516.9 307.6h0M551.5 320.6h0M580.6 322.5h0M550.5 321.8h0M532.5 311.5h0M569.7 322.7h0M592.3 299.6h0M526.5 311.5h0M518.9 319.9h0M561.3 322.2h0M589.3 311.9h0M540.6 327.0h0M542.4 314.7h0M557.1 308.5h0M548.6 316.8h0M580.1 314.0h0M569.8 318.6h0M531.0 320.1h0M582.4 315.3h0M590.8 317.7h0M571.5 306.7h0M570.6 319.7h0M568.2 302.7h0M559.5 302.5h0M577.7 309.1h0M530.2 302.4h0M571.7 320.6h0M538.7 312.7h0M550.4 311.0h0M577.3 317.4h0M549.7 320.6h0M531.1 300.2h0M570.9 317.0h0M538.5 312.7h0M578.5 308.5h0M558.1 320.5h0M582.7 302.5h0M569.8 305.8h0M573.1 312.5h0M539.4 315.4h0M580.3 325.8h0M560.2 316.4h0M549.8 309.5h0" fill="none" stroke="#50bb40" stroke-opacity="0.4" stroke-width="1.85" stroke-linecap="round"/>
<path d="M535.8 304.8h0M581.0 315.0h0M519.7 315.9h0M571.0 319.2h0M569.1 319.4h0M572.1 308.0h0M531.5 309.7h0M583.9 316.6h0M580.2 312.0h0M568.6 326.3h0M558.2 321.4h0M578.2 315.8h0M528.1 323.1h0M517.7 329.1h0M579.0 323.2h0M570.9 309.2h0M570.2 306.1h0M541.1 318.7h0M582.1 315.8h0M543.2 313.4h0M559.7 310.8h0M538.7 319.1h0M539.0 314.8h0M528.0 314.2h0M562.7 309.3h0M528.7 309.2h0M591.3 306.8h0M590.0 315.4h0M559.6 319.1h0M517.7 332.6h0M581.2 316.6h0M589.4 305.9h0M536.4 323.5h0M581.5 310.4h0M549.2 319.6h0M525.6 302.5h0M541.4 318.9h0M570.6 318.3h0M579.9 305.5h0M581.0 330.8h0M528.9 319.2h0M560.8 321.3h0M590.9 323.5h0M530.0 310.7h0M579.4 316.2h0M541.4 296.6h0M553.6 311.3h0M582.9 312.0h0M570.8 303.3h0M573.1 339.4h0M568.8 304.2h0M581.7 328.9h0M540.4 324.2h0M550.8 316.1h0M571.4 308.6h0M582.1 316.2h0M550.6 317.0h0M571.9 316.3h0M548.4 307.3h0M557.1 335.5h0M580.3 322.1h0M533.7 296.9h0M568.0 317.7h0M529.9 323.1h0M579.4 302.2h0M528.3 321.1h0M540.6 315.8h0M589.2 328.6h0M590.1 304.3h0M579.1 310.5h0M537.7 313.0h0M568.7 307.3h0M540.7 322.6h0M582.8 298.9h0M561.7 310.5h0M578.8 315.0h0M583.4 312.7h0M568.1 319.2h0M572.2 319.6h0M574.8 316.6h0M548.7 302.1h0M542.5 316.1h0M569.8 301.5h0M557.9 314.7h0M578.9 314.6h0M556.6 310.3h0M560.8 305.6h0M561.6 308.5h0M569.0 312.2h0M572.5 314.6h0M519.2 321.1h0M539.2 329.0h0M580.1 313.3h0M581.9 318.0h0M579.0 307.0h0M571.6 312.8h0M526.5 327.0h0M541.0 324.2h0M560.2 318.7h0M590.1 320.5h0M580.8 310.4h0M580.5 313.1h0M546.9 314.2h0M540.7 318.3h0M568.9 302.8h0M583.6 307.2h0M549.3 313.5h0M584.1 320.4h0M561.5 318.7h0M577.3 304.4h0M567.8 316.4h0M527.5 318.3h0M567.8 303.7h0M577.5 300.4h0M540.7 318.2h0M547.4 304.1h0M547.4 319.5h0M568.4 315.6h0M529.9 307.4h0M557.2 326.5h0M528.9 313.1h0M539.6 321.8h0M540.8 320.3h0M548.7 321.3h0M580.3 320.2h0M562.6 324.4h0M570.3 314.6h0M570.7 323.2h0M559.7 318.7h0M570.3 316.2h0M519.9 318.8h0M571.3 327.4h0M557.1 311.5h0M579.5 320.2h0M549.5 316.7h0M578.3 301.2h0M540.2 323.8h0M580.1 328.6h0M550.1 315.2h0M568.9 300.6h0M580.9 325.0h0M580.1 320.5h0M525.9 317.5h0M548.9 318.9h0M570.9 322.1h0M569.2 312.5h0M570.1 315.4h0M561.1 319.7h0M569.8 322.1h0M571.8 308.8h0M551.4 323.6h0M526.7 310.4h0M568.6 325.4h0M568.3 316.7h0M568.8 311.9h0M541.7 311.1h0M529.3 319.3h0M550.9 318.1h0M588.0 327.0h0M581.0 323.9h0M527.8 320.3h0" fill="none" stroke="#50bb40" stroke-opacity="0.4" stroke-width="1.85" stroke-linecap="round"/>
<path d="M517.2 315.3 L555.1500000000001 314.7 L593.1 312.8 L593.1 316.40000000000003 L555.1500000000001 315.90000000000003 L517.2 316.7Z" fill="#8a8a8a" fill-opacity="0.42"/>
<path d="M517.2 316.0 L593.1 314.6" stroke="#5e5e5e" stroke-width="0.95"/>
<text x="554.30" y="364.60" font-size="9.66" font-weight="normal" text-anchor="middle" fill="#000" >ESPAD Drink Five More</text>
<text x="577.20" y="268.70" font-size="9.5" font-weight="normal" text-anchor="start" fill="#000" ><tspan font-style="italic">r</tspan> = 0.04</text>
<text x="577.20" y="280.40" font-size="9.5" font-weight="normal" text-anchor="start" fill="#000" ><tspan font-style="italic">p</tspan> = 0.19</text>
<text x="346.40" y="25.80" font-size="11.0" font-weight="bold" text-anchor="start" fill="#000" >EFT</text>
<text x="344.40" y="143.30" font-size="11.0" font-weight="bold" text-anchor="start" fill="#000" >MID</text>
<text x="344.40" y="262.20" font-size="11.0" font-weight="bold" text-anchor="start" fill="#000" >SST</text>
<text transform="translate(335.8 76.2) rotate(-90)" font-size="9.53" text-anchor="middle" fill="#1a1a1a">Time-varying FNC Fitted</text>
<text transform="translate(489.5 70.5) rotate(-90)" font-size="9.5" text-anchor="middle" fill="#1a1a1a">Static FNC Fitted</text>
</svg>
</body></html>
